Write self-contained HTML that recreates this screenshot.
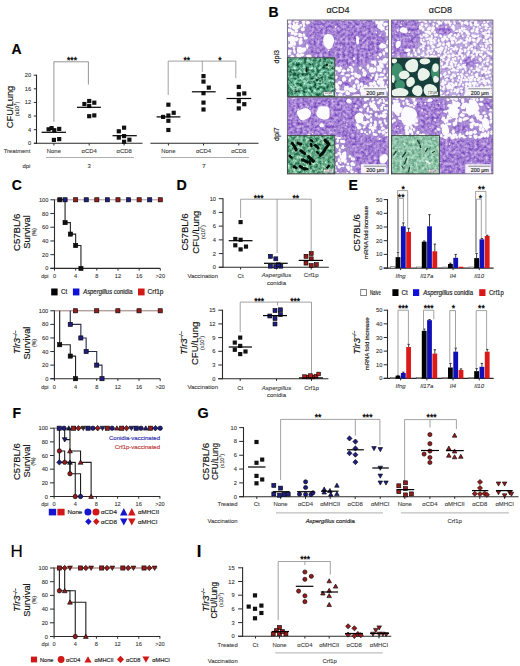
<!DOCTYPE html>
<html><head><meta charset="utf-8"><title>Figure</title>
<style>
html,body{margin:0;padding:0;background:#fff;}
body{width:520px;height:666px;overflow:hidden;font-family:"Liberation Sans",sans-serif;}
svg{display:block;}
</style></head><body>
<svg width="520" height="666" viewBox="0 0 520 666" font-family='"Liberation Sans", sans-serif'>
<rect width="520" height="666" fill="#fff"/>
<text x="11.6" y="54.2" font-size="14" fill="#000" font-weight="bold" stroke="#000" stroke-width="0.16">A</text>
<line x1="36.5" y1="143.8" x2="36.5" y2="74.7" stroke="#2a2a2a" stroke-width="1.1"/>
<line x1="33.8" y1="143.3" x2="36.5" y2="143.3" stroke="#2a2a2a" stroke-width="1"/>
<text x="31.2" y="145.35" font-size="5.7" fill="#333" text-anchor="end" stroke="#3a3a3a" stroke-width="0.1">0</text>
<line x1="33.8" y1="129.68" x2="36.5" y2="129.68" stroke="#2a2a2a" stroke-width="1"/>
<text x="31.2" y="131.73" font-size="5.7" fill="#333" text-anchor="end" stroke="#3a3a3a" stroke-width="0.1">4</text>
<line x1="33.8" y1="116.06" x2="36.5" y2="116.06" stroke="#2a2a2a" stroke-width="1"/>
<text x="31.2" y="118.11" font-size="5.7" fill="#333" text-anchor="end" stroke="#3a3a3a" stroke-width="0.1">8</text>
<line x1="33.8" y1="102.44" x2="36.5" y2="102.44" stroke="#2a2a2a" stroke-width="1"/>
<text x="31.2" y="104.49" font-size="5.7" fill="#333" text-anchor="end" stroke="#3a3a3a" stroke-width="0.1">12</text>
<line x1="33.8" y1="88.82" x2="36.5" y2="88.82" stroke="#2a2a2a" stroke-width="1"/>
<text x="31.2" y="90.87" font-size="5.7" fill="#333" text-anchor="end" stroke="#3a3a3a" stroke-width="0.1">16</text>
<line x1="33.8" y1="75.2" x2="36.5" y2="75.2" stroke="#2a2a2a" stroke-width="1"/>
<text x="31.2" y="77.25" font-size="5.7" fill="#333" text-anchor="end" stroke="#3a3a3a" stroke-width="0.1">20</text>
<line x1="34" y1="143.3" x2="142.5" y2="143.3" stroke="#2a2a2a" stroke-width="1.1"/>
<line x1="150.4" y1="143.3" x2="258.5" y2="143.3" stroke="#2a2a2a" stroke-width="1.1"/>
<line x1="53.9" y1="143.3" x2="53.9" y2="145.5" stroke="#2a2a2a" stroke-width="1"/>
<line x1="89.2" y1="143.3" x2="89.2" y2="145.5" stroke="#2a2a2a" stroke-width="1"/>
<line x1="124.1" y1="143.3" x2="124.1" y2="145.5" stroke="#2a2a2a" stroke-width="1"/>
<line x1="168.4" y1="143.3" x2="168.4" y2="145.5" stroke="#2a2a2a" stroke-width="1"/>
<line x1="203.5" y1="143.3" x2="203.5" y2="145.5" stroke="#2a2a2a" stroke-width="1"/>
<line x1="238.8" y1="143.3" x2="238.8" y2="145.5" stroke="#2a2a2a" stroke-width="1"/>
<text x="12.6" y="107" font-size="9.6" fill="#111" text-anchor="middle" transform="rotate(-90 12.6 107)" textLength="42.6" lengthAdjust="spacingAndGlyphs" stroke="#111" stroke-width="0.16">CFU/Lung</text>
<text x="18.6" y="109" font-size="5.4" fill="#333" stroke="#333" stroke-width="0.12" text-anchor="middle" transform="rotate(-90 18.6 109)">(x10<tspan font-size="3.78" dy="-1.89">7</tspan><tspan dy="1.89">)</tspan></text>
<text x="30.3" y="152.6" font-size="5.9" fill="#3a3a3a" text-anchor="end" stroke="#3a3a3a" stroke-width="0.1">Treatment</text>
<text x="53.9" y="152.6" font-size="5.9" fill="#3a3a3a" text-anchor="middle" stroke="#3a3a3a" stroke-width="0.1">None</text>
<text x="89.2" y="152.6" font-size="5.9" fill="#3a3a3a" text-anchor="middle" stroke="#3a3a3a" stroke-width="0.1">&#945;CD4</text>
<text x="124.1" y="152.6" font-size="5.9" fill="#3a3a3a" text-anchor="middle" stroke="#3a3a3a" stroke-width="0.1">&#945;CD8</text>
<text x="168.4" y="152.6" font-size="5.9" fill="#3a3a3a" text-anchor="middle" stroke="#3a3a3a" stroke-width="0.1">None</text>
<text x="203.5" y="152.6" font-size="5.9" fill="#3a3a3a" text-anchor="middle" stroke="#3a3a3a" stroke-width="0.1">&#945;CD4</text>
<text x="238.8" y="152.6" font-size="5.9" fill="#3a3a3a" text-anchor="middle" stroke="#3a3a3a" stroke-width="0.1">&#945;CD8</text>
<line x1="46" y1="157.5" x2="134" y2="157.5" stroke="#999" stroke-width="0.8"/>
<line x1="161" y1="157.5" x2="249" y2="157.5" stroke="#999" stroke-width="0.8"/>
<text x="30.3" y="167.5" font-size="5.9" fill="#3a3a3a" text-anchor="end" stroke="#3a3a3a" stroke-width="0.1">dpi</text>
<text x="89.2" y="167.5" font-size="5.9" fill="#3a3a3a" text-anchor="middle" stroke="#3a3a3a" stroke-width="0.1">3</text>
<text x="204" y="167.5" font-size="5.9" fill="#3a3a3a" text-anchor="middle" stroke="#3a3a3a" stroke-width="0.1">7</text>
<polyline points="53.9,121.7 53.9,61.8 88.4,61.8 88.4,84.5" fill="none" stroke="#8a8a8a" stroke-width="0.9"/>
<text x="72" y="62.99" font-size="8.6" fill="#000" text-anchor="middle" stroke="#000" stroke-width="0.3">***</text>
<polyline points="168.2,95 168.2,61.1 235.8,61.1 235.8,78.2" fill="none" stroke="#8a8a8a" stroke-width="0.8"/>
<line x1="202.3" y1="61.1" x2="202.3" y2="71.9" stroke="#8a8a8a" stroke-width="0.8"/>
<text x="186.8" y="62.99" font-size="8.6" fill="#000" text-anchor="middle" stroke="#000" stroke-width="0.3">**</text>
<text x="220" y="62.99" font-size="8.6" fill="#000" text-anchor="middle" stroke="#000" stroke-width="0.3">*</text>
<rect x="46.51" y="127.21" width="4.17" height="4.17" fill="#111"/>
<rect x="49.51" y="126.01" width="4.17" height="4.17" fill="#111"/>
<rect x="52.21" y="128.11" width="4.17" height="4.17" fill="#111"/>
<rect x="57.11" y="126.81" width="4.17" height="4.17" fill="#111"/>
<rect x="51.81" y="137.81" width="4.17" height="4.17" fill="#111"/>
<rect x="57.11" y="137.01" width="4.17" height="4.17" fill="#111"/>
<rect x="82.31" y="101.91" width="4.17" height="4.17" fill="#111"/>
<rect x="87.11" y="98.91" width="4.17" height="4.17" fill="#111"/>
<rect x="92.21" y="100.61" width="4.17" height="4.17" fill="#111"/>
<rect x="87.11" y="103.91" width="4.17" height="4.17" fill="#111"/>
<rect x="87.11" y="114.11" width="4.17" height="4.17" fill="#111"/>
<rect x="92.21" y="113.31" width="4.17" height="4.17" fill="#111"/>
<rect x="116.71" y="129.21" width="4.17" height="4.17" fill="#111"/>
<rect x="122.01" y="125.61" width="4.17" height="4.17" fill="#111"/>
<rect x="116.71" y="135.51" width="4.17" height="4.17" fill="#111"/>
<rect x="122.01" y="134.01" width="4.17" height="4.17" fill="#111"/>
<rect x="127.31" y="137.61" width="4.17" height="4.17" fill="#111"/>
<rect x="122.01" y="139.71" width="4.17" height="4.17" fill="#111"/>
<rect x="166.31" y="102.61" width="4.17" height="4.17" fill="#111"/>
<rect x="171.61" y="110.71" width="4.17" height="4.17" fill="#111"/>
<rect x="161.01" y="114.81" width="4.17" height="4.17" fill="#111"/>
<rect x="166.31" y="113.41" width="4.17" height="4.17" fill="#111"/>
<rect x="166.31" y="118.71" width="4.17" height="4.17" fill="#111"/>
<rect x="166.31" y="127.91" width="4.17" height="4.17" fill="#111"/>
<rect x="201.41" y="74.01" width="4.17" height="4.17" fill="#111"/>
<rect x="201.41" y="79.51" width="4.17" height="4.17" fill="#111"/>
<rect x="206.71" y="85.51" width="4.17" height="4.17" fill="#111"/>
<rect x="201.41" y="91.11" width="4.17" height="4.17" fill="#111"/>
<rect x="201.41" y="100.51" width="4.17" height="4.17" fill="#111"/>
<rect x="201.41" y="107.41" width="4.17" height="4.17" fill="#111"/>
<rect x="236.71" y="84.81" width="4.17" height="4.17" fill="#111"/>
<rect x="236.71" y="92.21" width="4.17" height="4.17" fill="#111"/>
<rect x="242.21" y="91.31" width="4.17" height="4.17" fill="#111"/>
<rect x="236.71" y="99.11" width="4.17" height="4.17" fill="#111"/>
<rect x="242.21" y="102.11" width="4.17" height="4.17" fill="#111"/>
<rect x="236.71" y="106.31" width="4.17" height="4.17" fill="#111"/>
<line x1="41.6" y1="132.3" x2="66" y2="132.3" stroke="#000" stroke-width="1.2"/>
<line x1="77" y1="107.3" x2="100.9" y2="107.3" stroke="#000" stroke-width="1.2"/>
<line x1="112.5" y1="135.7" x2="136.8" y2="135.7" stroke="#000" stroke-width="1.2"/>
<line x1="156.6" y1="116.9" x2="180.4" y2="116.9" stroke="#000" stroke-width="1.2"/>
<line x1="191.9" y1="91.8" x2="215.7" y2="91.8" stroke="#000" stroke-width="1.2"/>
<line x1="226.5" y1="98.5" x2="251.2" y2="98.5" stroke="#000" stroke-width="1.2"/>
<text x="268.4" y="16.9" font-size="14" fill="#000" font-weight="bold" stroke="#000" stroke-width="0.16">B</text>
<text x="338" y="13.2" font-size="9" fill="#222" text-anchor="middle" stroke="#222" stroke-width="0.16">&#945;CD4</text>
<text x="440.4" y="13.2" font-size="9" fill="#222" text-anchor="middle" stroke="#222" stroke-width="0.16">&#945;CD8</text>
<text x="278.6" y="56.7" font-size="7.2" fill="#222" text-anchor="middle" transform="rotate(-90 278.6 56.7)" stroke="#222" stroke-width="0.16">dpi3</text>
<text x="278.6" y="134.2" font-size="7.2" fill="#222" text-anchor="middle" transform="rotate(-90 278.6 134.2)" stroke="#222" stroke-width="0.16">dpi7</text>
<defs>
<filter id="lace" filterUnits="userSpaceOnUse" x="286" y="19" width="208" height="157" color-interpolation-filters="sRGB"><feTurbulence type="turbulence" baseFrequency="0.26" numOctaves="2" seed="7" result="t"/><feColorMatrix in="t" type="matrix" values="0 0 0 0 0.58  0 0 0 0 0.47  0 0 0 0 0.76  -5 0 0 0 1.85"/><feGaussianBlur stdDeviation="0.5"/></filter>
<filter id="lace2" filterUnits="userSpaceOnUse" x="286" y="19" width="208" height="157" color-interpolation-filters="sRGB"><feTurbulence type="turbulence" baseFrequency="0.3" numOctaves="2" seed="3" result="t"/><feColorMatrix in="t" type="matrix" values="0 0 0 0 0.62  0 0 0 0 0.52  0 0 0 0 0.80  -5 0 0 0 1.85"/><feGaussianBlur stdDeviation="0.5"/></filter>
<filter id="dtex" filterUnits="userSpaceOnUse" x="286" y="19" width="208" height="157" color-interpolation-filters="sRGB"><feTurbulence type="fractalNoise" baseFrequency="0.35" numOctaves="2" seed="11" result="t"/><feColorMatrix in="t" type="matrix" values="0.62 0 0 0 0.33  0.72 0 0 0 0.14  0.32 0 0 0 0.67  0 0 0 0 1"/><feGaussianBlur stdDeviation="0.4"/></filter>
<filter id="wtex" filterUnits="userSpaceOnUse" x="286" y="19" width="208" height="157" color-interpolation-filters="sRGB"><feTurbulence type="fractalNoise" baseFrequency="0.4" numOctaves="2" seed="17" result="t"/><feColorMatrix in="t" type="matrix" values="0 0 0 0 0.55  0 0 0 0 0.42  0 0 0 0 0.75  2.2 0 0 0 -0.95"/></filter>
<filter id="bl04" x="-20%" y="-20%" width="140%" height="140%"><feGaussianBlur stdDeviation="0.45"/></filter>
<filter id="wob" x="-20%" y="-20%" width="140%" height="140%"><feTurbulence type="fractalNoise" baseFrequency="0.6" numOctaves="1" seed="2" result="n"/><feDisplacementMap in="SourceGraphic" in2="n" scale="2.2" xChannelSelector="R" yChannelSelector="G" result="d"/><feGaussianBlur in="d" stdDeviation="0.35"/></filter>
<filter id="bl1" x="-20%" y="-20%" width="140%" height="140%"><feGaussianBlur stdDeviation="1.6"/></filter>
<filter id="bl05" x="-20%" y="-20%" width="140%" height="140%"><feGaussianBlur stdDeviation="0.6"/></filter>
<filter id="gtex" filterUnits="userSpaceOnUse" x="286" y="19" width="208" height="157" color-interpolation-filters="sRGB"><feTurbulence type="fractalNoise" baseFrequency="0.3" numOctaves="3" seed="5" result="t"/><feColorMatrix in="t" type="matrix" values="1.1 0 0 0 -0.2  1.1 0 0 0 0.08  1.1 0 0 0 -0.04  0 0 0 0 1"/><feGaussianBlur stdDeviation="0.45"/></filter>
<filter id="gtex2" filterUnits="userSpaceOnUse" x="286" y="19" width="208" height="157" color-interpolation-filters="sRGB"><feTurbulence type="fractalNoise" baseFrequency="0.32" numOctaves="3" seed="9" result="t"/><feColorMatrix in="t" type="matrix" values="1.1 0 0 0 -0.15  0.9 0 0 0 0.21  0.9 0 0 0 0.08  0 0 0 0 1"/><feGaussianBlur stdDeviation="0.45"/></filter>
<clipPath id="cTL"><rect x="287.4" y="20" width="101" height="76.4"/></clipPath>
<mask id="mTL" maskUnits="userSpaceOnUse" x="286" y="19" width="208" height="157"><g filter="url(#bl1)" fill="#fff">
<polygon points="311,19 376,19 380,30 386,40 382,50 376,58 366,64 350,67 336,66 326,62 318,60 312,56 308,48 307,36"/>
<ellipse cx="366" cy="79" rx="8" ry="5"/>
<ellipse cx="346" cy="84" rx="6" ry="4"/>
</g></mask>
<clipPath id="cTR"><rect x="391.5" y="20" width="101.4" height="76.4"/></clipPath>
<mask id="mTR" maskUnits="userSpaceOnUse" x="286" y="19" width="208" height="157"><g filter="url(#bl1)" fill="#fff">
<polygon points="391,19 418,19 421,34 416,48 406,56 391,57"/>
<ellipse cx="444" cy="30" rx="9" ry="6"/>
<ellipse cx="470" cy="62" rx="8" ry="5"/>
</g></mask>
<clipPath id="cBL"><rect x="287.4" y="97.6" width="101" height="76.2"/></clipPath>
<mask id="mBL" maskUnits="userSpaceOnUse" x="286" y="19" width="208" height="157"><g filter="url(#bl1)" fill="#fff">
<polygon points="286,97 362,97 364,104 358,112 356,128 366,136 390,136 390,176 357,176 354,160 348,144 336,136 286,136"/>
</g></mask>
<clipPath id="cBR"><rect x="391.5" y="97.6" width="101.4" height="76.2"/></clipPath>
<mask id="mBR" maskUnits="userSpaceOnUse" x="286" y="19" width="208" height="157"><g filter="url(#bl1)" fill="#fff">
<polygon points="416,97 446,97 447,106 440,122 437,137 470,140 494,136 494,176 438,176 438,136 420,130 414,112"/>
<ellipse cx="398" cy="128" rx="7" ry="7"/>
<ellipse cx="462" cy="128" rx="9" ry="5"/>
<ellipse cx="488" cy="104" rx="5" ry="6"/>
</g></mask>
<clipPath id="iTL"><rect x="287.4" y="57.8" width="47.4" height="38.6"/></clipPath>
<clipPath id="iTR"><rect x="391.5" y="58" width="48.1" height="38.4"/></clipPath>
<clipPath id="iBL"><rect x="287.4" y="135.4" width="47.4" height="38.4"/></clipPath>
<clipPath id="iBR"><rect x="391.5" y="135.6" width="47.9" height="38.2"/></clipPath>
</defs>
<g clip-path="url(#cTL)">
<rect x="287.4" y="20" width="101" height="76.4" fill="#b096d6"/>
<rect x="287.4" y="20" width="101" height="76.4" filter="url(#wtex)"/>
<g mask="url(#mTL)"><rect x="287.4" y="20" width="101" height="76.4" filter="url(#dtex)"/></g>
<g fill="#fbf9fd" filter="url(#bl04)">
<polygon points="285.2,14.9 287.1,16.1 287.8,19.1 285.6,20.6 284.4,20.2 284,16.5"/>
<polygon points="291.6,21.2 290.2,22.1 287.9,21 288.4,19 290,17.3 292,19"/>
<polygon points="294.5,21.8 294.1,20 295.5,18.6 297.6,18.8 299.2,21.9 297.9,22.4"/>
<polygon points="298.1,19.6 298.8,16 300.6,16.2 302.6,18 302.5,20.1 300.4,20.7"/>
<polygon points="306,21.4 304.2,18.6 304.2,16.5 306.1,15.3 307.7,17.3 307.5,20"/>
<polygon points="316.3,14.1 318.2,14.8 318.7,17.2 317.8,20 316.2,19.7 314.8,17"/>
<polygon points="321.2,21 320.5,20.4 320.8,17.4 321.9,16.7 323.1,16.8 323.9,18.2 322.9,20.2"/>
<polygon points="327,20.2 325.1,19.4 325.3,17.6 327.1,17 329.3,17.7 330.2,18.7 328.4,20.2"/>
<polygon points="330.2,18.4 331.1,16.4 333,16.6 334,18.8 333,19.6 330.9,19.9"/>
<polygon points="344.5,20.4 343.1,21 339.8,19.8 342,16.5 343.3,15.8 345.6,17.2"/>
<polygon points="359.8,17.3 360.1,18.9 359.9,20.9 357.6,20.6 355.7,19 356,17.3 357.5,16.4"/>
<polygon points="361.7,18.4 362.5,17.7 365,16.8 366.5,16.7 367,18.6 365.7,20 363,19.9"/>
<polygon points="371,16.4 370.8,19.2 368.9,19.6 367.7,18.1 368.1,16.2 369.6,14.7"/>
<polygon points="376.6,17 376.2,20.6 372.4,21.5 371.9,20 370.8,16.7 374.7,16.4"/>
<polygon points="380.3,15.2 381.7,17.4 381.4,19.5 378.2,20.4 376.8,19.1 376.8,15.9"/>
<polygon points="383.1,16.3 386,16 387.3,16.6 386.8,19.9 385.8,20.7 383.2,21.3 382.3,18.9"/>
<polygon points="388.3,18.3 388.1,20.2 386.3,21 385.6,19.9 385.4,17.9 386.4,15.6 387.4,16.5"/>
<polygon points="287.8,19.5 291.2,19.5 291.4,22.2 290.4,23.7 288,23.2 286.5,20.6"/>
<polygon points="292.6,23 292.9,21.6 294.5,21.2 295,22.9 294.6,24.6 293.6,25.5"/>
<polygon points="297.3,25.8 295.7,25.2 295.4,24.3 295.9,22.6 297.9,22.5 298.5,23.5"/>
<polygon points="302.5,24 301.6,21.4 303.9,19.8 305.1,20.5 305.1,23.4"/>
<polygon points="306.9,24.4 305.5,22.3 308.1,20.3 310.3,22.4 309.7,23.6"/>
<ellipse cx="363.8" cy="21.9" rx="0.5" ry="0.7"/>
<polygon points="377.3,19.7 378.5,21.1 379.4,22.9 378.2,23.9 375.7,24 375,21.3"/>
<polygon points="379.4,20.3 382.5,19.5 383.7,21.5 382.6,24.3 380.8,24.8 379.2,23.1"/>
<polygon points="383.2,23.2 385.8,22.4 388.7,23.6 387.6,25.2 384.1,26.6 383.2,24.8"/>
<polygon points="387.8,20.5 388.8,18.9 391.3,19.4 393.1,22 390.7,23.3 388.7,23.8"/>
<polygon points="288.5,25 288.9,26.7 287.4,27.3 284.6,26.9 283.1,26.1 286.4,24.5"/>
<polygon points="291.8,25.3 291.6,27.4 290.8,28.6 288.9,26.8 288.1,25.4 290,23.5"/>
<polygon points="295.4,27.6 293.1,26.7 293.4,25.1 295.2,23.9 297.3,25 297.4,27.1"/>
<polygon points="300.7,26.4 299.7,26.2 299.4,24.4 300.7,24.1 302.5,24.6 302.1,26.2"/>
<polygon points="305.3,25.4 304.8,26.8 303.2,28 302.9,26.4 302.8,23.7 304,23.1"/>
<ellipse cx="335.7" cy="27" rx="0.8" ry="0.9"/>
<polygon points="379.9,29 381.1,26.1 384.2,26.7 384.9,29.8 381.2,31.1"/>
<polygon points="391.7,28.9 389.9,30.3 387.4,29.5 385.8,28.5 387.9,26.1 389.4,26.8"/>
<polygon points="291.3,32 289.1,32.3 285.9,31.1 288.2,28.6 291.2,28.8 292.5,31"/>
<polygon points="294.8,32.1 293.5,34.1 291.4,33.8 290.5,30.8 293.1,30.3"/>
<polygon points="294.7,31.7 294.8,29.3 296.9,28.7 298.3,30.4 297.9,31.7 295.5,32.9"/>
<polygon points="301.7,27.6 303.7,27.2 304.8,28.6 304.6,30.8 302.4,31.3 300.4,30.1"/>
<ellipse cx="376.4" cy="32.6" rx="0.8" ry="0.8"/>
<polygon points="384.2,30.6 387.7,29.9 389.3,31.6 388.4,33.4 385.8,32.8"/>
<polygon points="285.2,38.1 284.4,36.8 284.3,34.5 285.6,33 287,32.7 287.3,35.4 287.1,37.1"/>
<polygon points="290.7,34.4 290.4,33.4 292.3,32.7 293.5,33 293.4,34.2 292.5,35.1"/>
<polygon points="293.1,32.4 297.5,33 297.8,34.9 294.8,35.9 293,33.9"/>
<polygon points="298.4,37 298.4,33 300.3,32.9 302,33.9 302.6,36.9 300,37.3"/>
<polygon points="305.4,35.3 304.4,36.8 303.2,36.8 302.2,34.8 302.8,33.7 304.1,33.1 304.7,34.3"/>
<ellipse cx="380.1" cy="35.5" rx="0.6" ry="0.8"/>
<polygon points="386.1,36.2 386,33.2 388.1,31.4 389.3,33.6 388.1,35.8"/>
<polygon points="286.1,39.9 286,38 288.7,36.7 290.5,37.5 291.5,39.6 289.7,41.4"/>
<polygon points="292.7,39.7 289.5,38.8 290.5,37.5 291.6,36.6 294.8,36.5 295.7,39"/>
<polygon points="294.2,39.2 294.4,38.2 296.7,36.7 298.1,38 298.9,39.2 297.2,41.6 295.4,41.3"/>
<polygon points="299.1,39.9 299.7,37.9 302,37.7 302.6,39.5 301,42.5"/>
<polygon points="304.3,39.5 303.5,37.8 304.2,36.6 305.7,36.4 307.7,37.4 307.8,38.4 306.2,39.6"/>
<ellipse cx="356.4" cy="37.2" rx="0.8" ry="0.9"/>
<ellipse cx="362.9" cy="40.8" rx="0.5" ry="0.7"/>
<polygon points="390.5,38.3 391.6,38.9 391.5,40.4 390.5,41.7 389.3,41.4 388.6,39.7 389.6,39.1"/>
<polygon points="283.4,42.9 285.1,40.2 288,41.1 288.6,43.1 286.5,44.9 283.6,43.9"/>
<polygon points="293.9,44.4 292.8,45.9 292.1,47.2 289.8,46.2 289.8,44.1 290.8,41.1 293.1,41.5"/>
<polygon points="296.3,44 295,46.1 292.1,45.1 292,42.7 295.1,41"/>
<polygon points="302.4,41.3 302.9,43.3 300,45 298.7,43.7 298.7,40.5 300.5,39.5"/>
<ellipse cx="324.9" cy="42.1" rx="0.6" ry="0.6"/>
<polygon points="388.2,44.8 385.9,44.1 386.7,40.8 387.9,39.7 389.7,41.6 389.6,43.9"/>
<polygon points="291.1,47.2 289.8,47.8 288.3,46.7 288,44.4 290.1,43.7 291.3,44.8"/>
<polygon points="292.7,48.5 292.4,47.1 293.2,46.1 295,46.8 295.4,48 294.1,49.4"/>
<polygon points="301.9,47.6 301.9,49 300.3,49.8 298,49.6 297.1,47.8 297.8,47.1 299.6,46.8"/>
<polygon points="308.6,46.5 307.8,48.5 306.6,49.3 305.8,45.2 306.7,44.2 308.3,44.6"/>
<ellipse cx="366.6" cy="45.9" rx="0.5" ry="0.5"/>
<polygon points="386.7,46.5 386.2,47.5 382.8,48.2 382,46.6 382.4,44.2 385.1,44"/>
<polygon points="289.9,53.3 287.9,52.7 287.7,50.9 288.8,49.6 291.8,50.2 291.6,52.1"/>
<polygon points="292.8,50.3 294,48.9 295,49.3 295.8,52.5 295.4,54.1 293.8,53.6"/>
<polygon points="300.1,51.4 300.1,50.2 303.2,50 304.5,50.8 302.7,52.6 301,52.5"/>
<polygon points="302.1,47.6 305.8,47.6 306.5,50.1 303.5,52.8 301.6,51.2"/>
<ellipse cx="328.6" cy="50.4" rx="0.9" ry="0.7"/>
<polygon points="384.6,48.8 387,48.1 389.5,49.4 389.9,50.9 387.8,52.5 386.1,52.3 384.9,50.9"/>
<polygon points="286.1,53.5 287.7,52.3 290.3,52.8 291.7,54 290.1,54.9 286.2,55"/>
<polygon points="292,54.5 294.4,55.9 293.7,58.1 292.3,58.3 290,57.5 290.4,55.9"/>
<polygon points="299.9,56.1 298.4,58.2 296.7,56.5 296,55.1 297.4,52.5 299.2,54.1"/>
<polygon points="300.8,53.3 304,53.7 304.3,55.6 301.9,56.4 300.1,55.6 299.1,54.3"/>
<polygon points="306.8,57.2 305.9,55.6 307.6,54.7 309.7,54.4 310.8,55.4 310.7,57.6 308.2,59"/>
<ellipse cx="316.3" cy="56.1" rx="0.7" ry="0.6"/>
<polygon points="381.9,53.7 381.9,55.5 380.5,56.8 378.5,55 379.1,53.6 380.2,52.8"/>
<polygon points="382.9,54.7 382.4,52.3 383.4,51.2 385.4,51.9 385.1,53.4 384.6,55.8"/>
<polygon points="286.2,58 288.1,57.4 290.2,61.5 287.6,63.2 285.4,61.4"/>
<polygon points="296.9,56.7 299.7,57.7 298.2,61.5 295.3,60.9 295.7,57.6"/>
<polygon points="297,57.9 298.9,55 301,55.3 301.9,58.9 300.3,60.1 297.4,59.9"/>
<polygon points="302.6,59.5 303.8,57.7 305.8,58.6 306,61.1 304.3,62.6 303,62"/>
<polygon points="310.4,60.1 307.9,58.5 307.3,56.1 309.2,55.1 311.4,55.2 311.3,59.3"/>
<polygon points="318.2,61.6 314.6,63.2 313.4,61.8 312.9,59.4 314.2,58.3 316.4,57.8 317.9,60.3"/>
<ellipse cx="354.1" cy="58.8" rx="1" ry="1.3"/>
<polygon points="379.1,56.7 379.2,57.6 378.6,58.5 377,58.1 376.5,57 377.5,56.1"/>
<polygon points="384.9,57.6 387.6,59.1 386.2,61.6 384.2,62.1 382.2,60.1"/>
<polygon points="387.7,58 389.4,58.1 390.5,59.3 389.6,61.2 387.2,61.2 385.8,60.2"/>
<polygon points="286.9,61.9 289.1,60.5 290.9,60.9 292.2,63 289.2,64.5"/>
<polygon points="290.5,59.3 291.9,57.7 294.5,59.4 294.5,62.4 292.9,63.7 290.7,63.4"/>
<polygon points="299.2,65.7 296.7,65.5 296.5,63.6 296.2,62.8 299.5,62.1 301.4,63.5 301.5,65.2"/>
<polygon points="303.4,60.9 305,62.2 306.1,64.3 303.9,65.6 302.3,64.9 301.9,63.4"/>
<polygon points="310.8,62.8 309.4,65.1 307.1,65.4 306,63.5 307.5,61.7 309.7,62"/>
<polygon points="312,61.8 312.7,63.1 311.5,64.3 310.2,64.5 307.9,64 307.5,62 308.6,61.3"/>
<polygon points="330.4,66 328.4,66.3 327.5,63.1 328.2,61.3 330.3,62.1 331.1,64.2"/>
<ellipse cx="353.7" cy="64.9" rx="0.8" ry="0.9"/>
<polygon points="371.4,60.4 374.1,60.6 376.2,61.6 374.3,63.7 371.8,63.7 370.7,62.4"/>
<polygon points="374,64.6 373.8,61 375.8,60.4 376.6,62.9 375.3,66.4"/>
<polygon points="378.8,60.5 381.2,60.2 381.8,60.8 381.7,62.6 380.6,63.1 378.7,62.6 378,61.8"/>
<polygon points="383.4,63.6 380.6,62.4 381.9,60.7 383,60.4 386.7,60.4 386.9,62.5 385.5,63.7"/>
<polygon points="389.6,65.9 388.4,65.9 387.3,64 387.9,61.5 389.3,61.3 390,62.3 391,64.8"/>
<polygon points="284.1,66.6 286,66.2 286.3,67.8 285.7,70 284.1,70 283.2,67.9"/>
<polygon points="292,69.8 289.6,70.6 288.7,67.9 289.6,66.1 292.3,66.6"/>
<polygon points="299.3,62.8 300.8,64.7 300.8,66.4 299.4,67.3 298.2,65.6 298.1,64.7"/>
<polygon points="305.5,64.7 306.1,65.7 305.6,68.1 304.8,68.2 303.5,67.8 303.3,65.8"/>
<polygon points="307.9,64.4 309.2,64.7 309.2,67.1 307.7,68.3 307,65.8"/>
<polygon points="314.4,65.4 316.3,65.3 316.8,66.1 316.2,68.1 314.5,67.8 313.7,66.3"/>
<polygon points="317.9,68.9 316.6,67.7 316,64.9 317.6,64.6 318.7,65.1 318.5,67.2"/>
<polygon points="320.2,64.2 322.4,64.9 323.3,67 320.6,68.5 319.6,66.2"/>
<polygon points="328.1,64.4 329.8,64.6 330.5,67.3 328.8,68.3 326.1,67.6 326.2,65.3"/>
<polygon points="333.5,69.4 330.7,69.8 330.1,67 332.2,65.6 335.1,66.9"/>
<polygon points="338.5,66.9 339.5,68.5 337.3,69.9 335.5,70.1 334.4,67.8 336.4,66.6"/>
<polygon points="341.8,67.4 342.4,69.2 341,69.5 339,69.5 339,68.3 339.2,66.9 340.5,66.1"/>
<polygon points="351.4,68.7 349.7,68 348.4,67.3 349.6,66.1 351.2,65.9 352.2,67"/>
<polygon points="358.7,67.4 360.2,66.4 361.6,66.9 361.8,68.3 360.6,69.4 359.6,69.3"/>
<polygon points="367,68.8 366.5,66.6 367.6,64.3 368.9,64.6 369.6,67.1 368.1,69.6"/>
<polygon points="380.1,69 377.1,68.6 376.3,66 379,65.2 380.5,67.1"/>
<polygon points="379.2,66.1 379,63.1 381.2,62.8 383.2,64 383.9,67.8 382,68"/>
<polygon points="389,68.3 386.4,66.5 386,65.8 387.5,64.8 390.1,65 391.3,65.8 391,67.8"/>
<polygon points="287.1,70.5 289.6,71.4 289,73.4 286.5,73.9 286,72.3"/>
<polygon points="295.9,74 293.1,73.2 292.2,71.8 293.9,70 296.6,69.7 296.5,71.8"/>
<polygon points="300,68.4 302.2,70.7 299.9,71.8 297.2,70.9 298,68.1"/>
<polygon points="305.1,71.1 303.7,72.9 302.9,72.4 301.9,71.3 303.3,69.7 304.6,69.8"/>
<polygon points="307.9,71 306.5,73.7 303.5,73 302.5,70.5 304.2,68.5 307.4,68.1"/>
<polygon points="313.7,69.4 314.6,72.3 313.3,73.6 312.3,72.9 311.6,71.1 312.2,69.7"/>
<polygon points="315.5,70.9 316.7,68.4 318.2,68.6 318.3,70.9 317.8,72.5 316,73.3"/>
<polygon points="320,72.2 317.3,71.5 318.4,67.7 321.5,68.1 322.8,70.2"/>
<polygon points="327.4,71.1 325.5,73.7 323.4,72.7 322,70.5 325.1,68.8 327.8,69.7"/>
<polygon points="329.3,70.6 329.5,68.8 331.4,68 332.8,69.3 332.5,70.1 331.2,71.2"/>
<polygon points="335.6,73.3 333.3,74.6 331.2,72.9 331.2,71.3 334.6,70.7 336.5,72.6"/>
<polygon points="339.7,72.2 338.4,71.9 336.8,69.3 338.2,67.6 340.6,68.9 341.9,70.4"/>
<polygon points="342.9,72.5 341.6,71.2 342.4,69.8 344.2,69.3 346.4,71 345.2,72.3"/>
<polygon points="348,67.9 350,69.2 349.6,70.7 348.8,71.5 346.8,71.1 346.7,69.7"/>
<polygon points="353.7,70 352.3,72.4 350.8,71.6 350.5,69.7 351,67.5 352.8,67.5"/>
<polygon points="364.7,70.4 363.7,71.8 362,71.6 361.7,70.3 362.7,68.7 364.1,68.9"/>
<polygon points="372.6,68.4 374.7,69 375.2,71.9 373.5,72.6 372,71.9 370.8,70.4"/>
<polygon points="374.6,67.1 376.3,68.2 376.1,70.8 374.7,71.7 373.3,71 373.6,68.8"/>
<polygon points="382.3,69.6 381.3,71.9 377.8,71.5 376.5,70.1 378.6,67 380.7,67.2"/>
<polygon points="385.1,70 385.9,70.9 385.4,72.4 384.5,73.5 383.5,72.4 383.2,70.9 383.8,69.5"/>
<polygon points="389.2,71.4 390.1,70.5 391.4,71.3 391.6,72.9 390.2,73.3 389.3,72.7"/>
<polygon points="288.2,76.3 285.8,78.3 283.2,77.3 283,75.7 285.3,74.3 286.8,74.2"/>
<polygon points="293.7,73.2 292.7,77.5 290.4,76.7 288.3,73.3 291,71.3"/>
<polygon points="300.5,73.3 299.4,76.1 297.6,75.8 298.1,72.2 299.1,71.1"/>
<polygon points="304.5,73.3 305.5,76.2 303.7,78 302.2,76.5 303.4,73.6"/>
<polygon points="309.2,71.8 310.5,71.2 312.6,73 310.4,75.5 308.8,74.8"/>
<polygon points="313.7,71.7 315.8,72.1 315.4,74.8 313.6,75.4 312.4,73.3"/>
<polygon points="319.4,74.5 317,74.7 316.5,73.1 318,72.2 320.1,72.2 320.4,73.1"/>
<polygon points="322.1,73.2 323.7,74.7 323.3,77.4 321.1,77 320,75"/>
<polygon points="328.6,75.5 328.6,77.2 326.3,77.5 326,75.8 326,73 327.9,72.8"/>
<polygon points="332.2,76.4 330.5,73.5 331.5,71.9 332.9,70.6 335.7,71.9 336.1,73.4 334.3,76.4"/>
<polygon points="343.5,72.5 344.9,74.2 342.4,75.3 340.3,74.4 341.9,72.3"/>
<polygon points="345.7,76.2 345.2,74.9 346.7,74.1 350.3,74.6 349.3,76.6"/>
<polygon points="352.8,72.4 354.3,73.5 354,74.2 353,75.4 350.9,74.4 350.7,73"/>
<polygon points="357.7,74.3 357.6,75.7 356.1,77.8 354.6,76.9 354.1,74.8 354.3,72.5 356.3,72.7"/>
<polygon points="356.4,77.5 356.4,76.2 357.8,74 360.3,74.7 361.1,75.9 360.6,77.2 358.8,78.8"/>
<polygon points="362.4,75.9 362.6,73.7 363.4,71.2 366.2,71.3 366.8,73.7 365.6,76.4"/>
<polygon points="371.2,74.7 371.8,74.2 372.6,73.9 373.9,74.6 374,75.8 372.4,76.7 371.7,76.3"/>
<polygon points="377.9,78.2 375.9,76.8 375.1,74.7 377,72.6 378.6,75.5"/>
<polygon points="384.8,75.2 382.7,76.2 379.5,76.2 379.3,75 380.1,73.5 383.2,73.7"/>
<polygon points="392.4,74.7 391,76.6 389.5,76.9 386.5,75.9 387,73.9 388.3,73.2 391,73.8"/>
<polygon points="290.6,80.2 288.7,79.8 288.3,78.5 290.1,77.3 291.3,78.4"/>
<polygon points="292.7,77 294.1,75.2 295.7,76.4 296,78 294.9,80.3 292.9,79.6"/>
<polygon points="299.6,80.9 295.8,79 297.4,76.9 300.9,76.3 302.1,78.2"/>
<polygon points="303.2,81.8 300.4,80.4 299.9,78.5 302.7,77.1 304.9,80.1"/>
<polygon points="309.9,78.9 309.2,82.3 306.9,83 306.6,79.1 307.5,77.1"/>
<polygon points="311.8,78.6 312.5,79.6 312,82.3 310.2,82.7 309.3,80.7 309.1,79.7 310.1,77.8"/>
<polygon points="313.4,79.4 313.2,78 313.9,76 314.9,75 317.6,76.6 317.6,77.8 315.9,79.5"/>
<polygon points="321.7,81.7 320.8,81 321.4,79.2 323,78.9 325,80.1 324.7,81.6"/>
<polygon points="323.2,76 324.3,76.5 325.1,78.5 324.7,80.4 323.1,80.3 322.3,78.3"/>
<polygon points="331.2,82.9 330.2,81 330.5,78.4 331.4,76.9 332.6,78.3 331.9,81.8"/>
<polygon points="335,75.6 337.3,76.1 337.8,77.6 336.4,79.2 334.2,78.9 333.1,77.5 333.8,76"/>
<polygon points="345,76.5 346.6,79.6 345.5,80.7 343.3,81.9 341.8,79.9 342.5,76.9"/>
<polygon points="349,81.8 348.5,80.3 349.5,78 350.9,78.5 351,80.5 350.4,82.4"/>
<polygon points="354.2,79.2 351.5,79.6 350.8,79.3 350.8,77.8 352.2,76.2 353.8,77.3 354.6,78.6"/>
<ellipse cx="371.4" cy="77.7" rx="1" ry="1.3"/>
<polygon points="375.3,76.1 377.2,75.7 378,78 376.6,80.8 374.6,80.2 374.6,78.1"/>
<polygon points="377.9,78.8 379.1,77.9 381.5,77.4 383.8,78.7 382.8,80 380.1,80 378.7,79.7"/>
<polygon points="385.7,76.6 386.8,78.1 386.4,79.3 383.4,79 383.3,77.6 384.5,76.6"/>
<polygon points="392.2,82 391.2,81.2 388.7,79.5 389.5,78.4 390.7,76.8 392.8,77.5 393.9,79.2"/>
<polygon points="287.2,78.5 289,79.4 289,80.8 288.9,83.7 287.7,84.6 286.7,83.3 286.6,80.9"/>
<polygon points="290.4,82.7 291.7,81.8 293.2,82.6 293,84.4 291.6,85 290,84.5"/>
<polygon points="294.3,83.3 294.5,82 296.3,81.4 297.8,81.7 297.5,83.3 296.1,84.2"/>
<polygon points="301.5,83.2 298.8,83.5 296.9,80.3 298.7,79.2 301.4,80.5"/>
<polygon points="307.5,80.9 307.2,82 306,82.8 304.7,82.3 304,81.2 305.1,80.3 306.4,80.2"/>
<polygon points="308.2,86.2 306.2,85.3 305.9,84.3 308.2,82.8 310.3,83.9 310.5,85"/>
<polygon points="310.2,83.6 311.5,82.1 312.7,82 314.8,83.5 313.1,84.3 311,84.3"/>
<polygon points="319.6,84.6 316.2,84 315.7,82.6 318.8,82.1 321.9,83.3"/>
<polygon points="322.5,82.2 325,83.5 325.1,85.5 323.9,87 321.5,85.8 321.1,84.7 320.9,83"/>
<polygon points="328,84.3 326.9,86.5 325.3,86.5 324.7,83.5 325.4,81 327.1,82.4"/>
<polygon points="331.1,83.2 334,82.9 334.7,84 332.5,86 331.1,85.7 329.5,84.4"/>
<polygon points="335.8,85.6 334,84.6 333.9,83.2 334.6,82.5 336.3,82.6 338.1,83.5 336.4,85.1"/>
<polygon points="340.8,85 339.4,84.2 337.8,83.8 337.5,81.9 339.3,80.8 341.9,81.8 342.1,82.8"/>
<polygon points="357.9,83.5 355.4,83.8 354.8,81.2 356.5,79.2 358.7,80.8 359.3,82.1"/>
<polygon points="361.2,86.7 359.6,84.7 359.8,83.2 362.2,82.6 363.5,85 363.1,86.8"/>
<polygon points="369.2,82.6 371.3,81.9 372.8,83.1 373.1,84.7 370.9,85.9 369.1,85"/>
<polygon points="373.1,85.7 371.7,85.1 372.9,81.9 374.4,80.8 376.5,83.1 375.7,85.5"/>
<polygon points="378.4,85 376.6,82.7 377.3,80 380.4,80.1 381.8,82.1 381.2,83.9"/>
<polygon points="379.9,83.5 379.6,81.2 381.4,79.8 383,80.2 384.5,82.6 384,84 382.3,85.9"/>
<polygon points="389,81.2 390.5,81.6 391.9,82.8 391,84.5 388,84.4 386.5,82.9 387.1,81.1"/>
<polygon points="285,88.1 286,85.7 288.4,86.6 288.8,88.4 286.7,90.2"/>
<polygon points="293.2,88.2 291,86.7 292.3,84.8 293.5,83.4 294.8,84.2 296.9,86 295.4,87.8"/>
<polygon points="297.3,88.8 295.2,86.1 296.2,83.1 299.1,84.3 299.3,86.9"/>
<polygon points="303.5,87.5 302.6,88.3 301.1,87.7 300.8,86.3 301.3,85.5 302.5,84.8 303.2,86"/>
<polygon points="308.7,85 308.5,86.5 306.9,86.8 304.4,86.6 302.8,85 304.1,84 306.6,84"/>
<polygon points="313.5,87.9 310,90.7 308.1,88.6 309,85.7 312.2,86.4"/>
<polygon points="316.2,88.7 315.3,88.7 313.6,88 314.1,85.5 315.4,84.5 316.6,86"/>
<polygon points="317.6,86.8 319.5,85.6 321.4,86.1 321.3,87.9 319.1,88.2"/>
<polygon points="326,88 325.5,89.9 323.4,91 321.6,88 323.5,86.1"/>
<polygon points="329.5,84.7 331,85.3 331.7,86.8 330.5,88.5 330,89.4 328.4,87.4 329,86.2"/>
<polygon points="333.4,87.2 332.9,84.9 335.7,83.5 338.6,84.3 338.8,86.8 336.7,88.7"/>
<polygon points="336.2,87.1 338.2,85.6 339.6,86.5 339.6,87.8 338.9,90.5 337.5,90 335.9,88.9"/>
<polygon points="345,91.5 343.6,88.8 344.6,86.7 346,85.8 347,87.8 345.9,91.1"/>
<polygon points="344.2,89.4 344.8,86.3 348.2,86 349.2,89 347.3,90.8"/>
<polygon points="352.8,87.5 352.5,85.7 354.2,84 355.2,84.6 356,86.3 355.2,88.2 354.1,88.1"/>
<polygon points="359.9,85.3 359.5,88.9 357.5,89.4 357.2,84.9 358.5,83.1"/>
<polygon points="366.8,85.1 368,86.6 365.3,89 363.2,88.2 364.1,85"/>
<polygon points="371,85.1 373.5,86.4 372.4,88.7 370.8,89.6 368.6,88.2 368.7,86.8"/>
<polygon points="378.5,87.8 376,88.4 374.3,87.4 374.1,86 375.8,84.3 377.8,85.7"/>
<polygon points="379.4,86.6 380,84.6 382,83.3 383.5,83.4 384.4,85 383.9,87.4 382.1,87.5"/>
<polygon points="385.3,90 384.6,86.2 385.8,84.4 387.2,86.4 386.4,89.7"/>
<polygon points="392.8,85.3 393.8,87.9 391.4,89.5 388,88.6 388.4,85.7"/>
<polygon points="286.8,94.3 284.6,92.2 285.6,89.2 286.9,87.9 289.4,90.4 288.7,93.5"/>
<polygon points="289,94.1 287.4,91.2 288.7,88.8 291.6,89.5 291.5,93.3"/>
<polygon points="294.7,92 296.6,89.2 298.8,90.8 299.2,94 296.5,94.3"/>
<polygon points="298,93 298.7,90.3 300.5,90.1 302.3,91.5 301.8,93.1 299.6,94.6"/>
<polygon points="300.5,91.5 302.9,89.3 304.4,89.7 306.6,90.9 305.7,92.3 302.9,92.3"/>
<polygon points="310.1,91.4 310.6,92.7 309,93.9 306,93.8 305.2,92.5 308,91.1"/>
<polygon points="314.6,92.5 313.6,89.4 314.6,87.8 317.5,88.3 317.7,92.3"/>
<polygon points="320.9,91.1 321.8,89.4 324.8,89.5 326.2,91.7 321.9,92.8"/>
<polygon points="328.4,95.3 326.1,92.5 327.7,90.3 328.9,90.5 330.5,92.8 330.3,94.3"/>
<polygon points="333.2,91.9 331.6,93.2 328.5,92.4 328.7,90.1 330.3,89.3 333.1,89 334,90.7"/>
<polygon points="335.4,90.6 339,89.6 340.6,90.6 341.3,91.3 339.1,92.6 336.1,92.1"/>
<polygon points="341.3,90.6 344.4,90.6 345.3,91.8 342.6,93.4 340.2,92.7 339.6,91.5"/>
<polygon points="347.6,93.3 345.4,92.7 345.5,91.7 346.5,90.9 348.3,90.9 348.4,92.6"/>
<polygon points="348.7,89.4 352.3,87.9 354.4,89.1 354.1,91.8 349.5,92.1"/>
<polygon points="355.4,89.4 357.2,90.4 355.8,91.8 354,92.2 351.1,92 350.7,90.7 351.8,90.1"/>
<polygon points="360.2,88.3 361.3,86.5 363,88.8 362.5,91.4 360.7,92.4 359.7,90.8"/>
<polygon points="363.1,87.7 364.6,89.2 363.8,92 362.6,93.1 361.6,90"/>
<polygon points="372.1,92.2 371.6,93.2 370.6,94.2 369.2,93.3 368.7,92.3 370.2,90.5 371.4,90.6"/>
<polygon points="369.6,88.4 373.9,87.7 375.6,88.5 375.1,90.3 371.6,90.7 369.6,89.9"/>
<polygon points="378.9,90.5 379.5,91.9 378.1,94.5 376.8,93.4 376.3,92.1 377.7,89.3"/>
<polygon points="382.5,89.8 384.2,90.8 384.2,92.6 382.2,92.6 381,91.7"/>
<polygon points="390,91.1 387.4,91.9 386.1,90.6 385.3,89.8 386.6,88.4 388.2,88 390.2,89.4"/>
<polygon points="286.7,95.7 285.9,94.5 286.7,93.4 288.5,93.9 288.4,95.5"/>
<polygon points="297.3,97 295.3,97.7 292.6,97.9 292.6,94.9 293.8,93.3 296.3,93.5"/>
<polygon points="302.5,95.5 300.4,96.5 297.5,96.3 296.9,94.4 298.4,93.3 301.4,94.2"/>
<polygon points="301,97.5 300.1,96.9 300.4,95.1 301.8,93.5 302.2,93.8 302.6,95.7 302.2,97.1"/>
<polygon points="308.8,93.4 308.4,94.6 307.4,95.4 305.9,94.7 305.8,93.3 307.1,92.2"/>
<polygon points="314,92.7 314,94 312.1,94.5 310.4,94.2 309.8,92.5 310.9,92 313.4,92"/>
<polygon points="317.2,97.2 315.2,96.6 314.8,95.4 316.4,94.2 317.5,95.7"/>
<polygon points="318.1,94.7 319.5,93.8 320.7,95.6 321.2,96.6 319.5,97.7 318.5,97.7 317.8,95.8"/>
<polygon points="322.3,96 324,93 326.8,93.9 327.2,96.4 325.4,97.9"/>
<polygon points="333.1,95 331.1,95.7 329.8,93.8 330.2,91.5 331.5,90.7 333.4,91.9"/>
<polygon points="335.3,91.8 336.9,95.3 335,96.7 331.8,96.3 332,93.2"/>
<polygon points="342.4,93.9 342.6,96.3 339,97.4 337.6,94.7 339.7,92.9"/>
<polygon points="342.8,97.8 342.7,96.8 343.9,95.2 345.4,95.2 345.8,97 345.4,98.5"/>
<polygon points="350,94.6 348.2,95.3 346.9,95.1 345,93.9 346,92.8 348.6,92.1 350.1,92.5"/>
<polygon points="357.9,96.6 356.8,98.6 354.4,98.8 351.2,97.6 352.6,95.3 355.4,94.2"/>
<polygon points="358.9,97.7 356.2,96.8 355.7,94.4 359.2,94 360.5,96.5"/>
<polygon points="374.5,97.2 371.4,98.3 370,97.3 369.1,94.4 371.9,93.3 373.4,93.6"/>
<polygon points="377.8,92.4 377.6,94.2 376.4,95.1 373.3,95 373.7,94.1 374.3,92.1 376.5,92.1"/>
<polygon points="379,93.9 380.1,91.9 381.8,91.7 382.5,94.3 381.7,95.9 380,96.4"/>
<polygon points="384.2,98 382.1,98 382,96.1 382.6,94.2 385.1,94.4 386.5,95.5 386.1,97.5"/>
<polygon points="393.2,90.6 393.8,93.4 392.2,96.6 389.9,94.8 389.2,91.5"/>
</g>
<g fill="#fcfbff" filter="url(#bl05)">
<path d="M334.1 39.7Q334.1 42.5 333.2 44.5Q332.4 46.5 331 48.2Q329.6 49.8 327.7 48.9Q325.9 48.1 324.8 46.3Q323.8 44.6 323.3 42.3Q322.8 40 323.7 37.1Q324.6 34.3 327.2 34Q329.8 33.7 331.9 35.2Q334.1 36.8 334.1 39.7Z"/>
<path d="M359.1 39.4Q359 41 359 42.4Q358.9 43.7 358.3 44.2Q357.8 44.7 357.3 44.4Q356.7 44 356.4 43.1Q356.1 42.2 356.1 41Q356.1 39.8 356.2 38.2Q356.4 36.6 357.1 36.4Q357.9 36.2 358.5 37Q359.1 37.9 359.1 39.4Z"/>
<path d="M299.9 26Q300.6 27 299.6 27.8Q298.6 28.6 297.6 29.2Q296.6 29.7 295.3 29.7Q293.9 29.8 292.8 29Q291.8 28.1 291.7 27Q291.6 25.8 292.6 24.9Q293.6 23.9 295.1 24.3Q296.6 24.7 297.9 24.8Q299.2 25 299.9 26Z"/>
<path d="M294.7 38.8Q295.3 40 294.8 41.3Q294.3 42.6 293.4 42.9Q292.4 43.3 291.5 43.4Q290.5 43.4 290.1 42.3Q289.8 41.1 289.2 39.7Q288.6 38.3 289.4 37.1Q290.2 35.9 291.4 35.9Q292.5 36 293.3 36.8Q294.1 37.7 294.7 38.8Z"/>
<path d="M303.2 49.2Q304.2 50 303.5 51Q302.8 52 301.8 52.8Q300.7 53.5 299.3 53.3Q297.9 53.1 297.3 52Q296.7 51 296.8 50Q296.9 49 297.5 48.1Q298.2 47.3 299.4 47.2Q300.6 47.1 301.4 47.8Q302.2 48.4 303.2 49.2Z"/>
<path d="M382.4 24.8Q382.7 26 382.7 27.5Q382.7 29 381.5 29Q380.4 29 379.6 28.9Q378.8 28.7 377.9 28.1Q377 27.5 377.2 26.1Q377.5 24.8 378 23.6Q378.5 22.5 379.5 22.3Q380.5 22.1 381.3 22.9Q382.1 23.6 382.4 24.8Z"/>
<path d="M384.9 45.1Q385.7 46 384.8 46.8Q383.9 47.6 383.2 48.2Q382.5 48.8 381.6 48.5Q380.7 48.2 379.9 47.7Q379 47.1 379.2 46.1Q379.5 45.1 380.1 44.3Q380.6 43.6 381.6 43.1Q382.6 42.7 383.3 43.5Q384.1 44.2 384.9 45.1Z"/>
<path d="M355.5 89.1Q356.1 90 355.9 91.2Q355.7 92.3 354.1 92.3Q352.6 92.4 351.5 92.2Q350.4 92 349.6 91.5Q348.8 90.9 348.2 89.9Q347.7 88.8 348.8 88Q349.9 87.3 351.2 87.3Q352.6 87.4 353.7 87.8Q354.8 88.2 355.5 89.1Z"/>
<path d="M374.1 69.3Q374.5 70 374.4 70.9Q374.3 71.9 373.3 72.1Q372.4 72.3 371.4 72.6Q370.4 72.9 369.5 72Q368.6 71.2 368.6 70Q368.5 68.7 369.4 67.9Q370.3 67.1 371.5 66.7Q372.6 66.4 373.2 67.5Q373.7 68.5 374.1 69.3Z"/>
</g>
</g>
<rect x="287.4" y="20" width="101" height="76.4" fill="none" stroke="#6a6478" stroke-width="0.9"/>
<rect x="360.8" y="86.8" width="25.6" height="9" fill="#fbfbfd" opacity="0.92"/>
<line x1="363.8" y1="88.8" x2="386" y2="88.8" stroke="#6a6a72" stroke-width="0.8"/>
<text x="375.3" y="94.7" font-size="5.4" fill="#222" text-anchor="middle" stroke="#222" stroke-width="0.15">200 &#956;m</text>
<g clip-path="url(#cTR)">
<rect x="391.5" y="20" width="101.4" height="76.4" fill="#c0addf"/>
<rect x="391.5" y="20" width="101.4" height="76.4" filter="url(#wtex)"/>
<g mask="url(#mTR)"><rect x="391.5" y="20" width="101.4" height="76.4" filter="url(#dtex)"/></g>
<g fill="#fbf9fd" filter="url(#bl04)">
<polygon points="390.5,17.3 390.9,18.4 389.3,19.2 388.1,18.6 388.2,17.5 389.1,17.2"/>
<polygon points="391.5,19.7 391.8,17.9 392.7,17.6 393.4,18.3 393.4,19.8 392.6,20.3"/>
<polygon points="403.1,18.3 401.9,20.2 400.5,19.4 400.5,18 401.2,16.8 403,16.8"/>
<ellipse cx="407.8" cy="19.9" rx="0.9" ry="1"/>
<polygon points="409.4,17.9 410.8,17.9 411.6,18.6 410.7,19.8 409.4,19.5 408.7,19.2"/>
<polygon points="416.1,19.4 414.4,18 414.9,17.2 416.8,16.6 417.5,17.6 417.5,19.1"/>
<polygon points="418.4,17.5 418.7,16.8 419.9,16.3 420.5,17.4 420.2,19.6 419,19.9"/>
<polygon points="422.5,20.9 422,21 421,20.8 420.5,19.8 421.6,19.2 422.4,18.8 422.9,19.8"/>
<polygon points="423.3,16.5 424.8,16.5 426.3,17.9 425.4,19.3 424.3,19.5 422.6,18.9"/>
<polygon points="430,17.7 429.7,19.2 428.4,19.7 427.6,19.3 427.2,17.7 428.1,16.9 429.7,16.6"/>
<polygon points="434,19 434,18.2 435.5,17 436.8,16.9 437.9,18 437.5,19.2 435.8,19.8"/>
<polygon points="442.6,18.8 443.5,19 444.1,20.7 442.8,21.9 441.8,21.4 441.4,20"/>
<polygon points="445.2,18.1 446.3,17.1 448.6,17.8 449.3,18.9 447.1,20.1 445.6,19.5"/>
<polygon points="449.3,18.6 450.5,19.6 449.8,21.4 448.5,21.8 447.1,21.4 447,20.1 448,18.9"/>
<polygon points="454,22 452.9,20.7 453.6,19.1 454.9,18.8 455.4,21.4"/>
<polygon points="456.2,17 457.4,16.5 458.4,17.1 458.7,18.2 458.1,19.7 457,18.9"/>
<polygon points="460,17.6 460.9,16.5 463.3,17.7 462.2,19.5 460.7,20.2"/>
<polygon points="464.7,17.4 464.9,18.6 464.2,19.9 462.8,19.6 462.5,18.6 462.9,17.2 463.7,17.2"/>
<polygon points="465.7,18.1 467.5,17.3 468,18.3 468.1,20.4 467.5,21.1 465.9,21.4 465.9,20"/>
<polygon points="470.4,20.6 469.9,19.4 470.3,18.4 471.2,18 472.7,18.9 472.4,19.8 471.9,20.5"/>
<polygon points="476.4,16.8 476.3,18.6 475,20.2 473.9,19.4 473.8,16.8 475.2,16.6"/>
<polygon points="476.8,17.1 477.1,16.3 478.3,16.1 478.6,17.9 478.3,18.7 477,18.6"/>
<polygon points="479.2,17.6 480.5,16.3 482.4,17.8 482.1,19.8 480.3,20.6 479.4,19.5"/>
<polygon points="486.8,17.2 488.3,18.6 486.8,19.4 484.1,19 484.2,17.9"/>
<polygon points="488.6,19.9 487.6,19.1 487.4,18.1 489.3,17.7 490.7,18.2 490.7,18.9 490.4,20.1"/>
<ellipse cx="401.4" cy="22.4" rx="0.6" ry="0.5"/>
<polygon points="420.9,19.6 421.4,20.9 420.8,21.7 419.4,21.9 418.2,20.9 419,19.7"/>
<polygon points="422.3,20.6 423.5,19.5 425,19.6 425.9,21.3 425,22.4 423.1,21.6"/>
<polygon points="425.7,23.3 424.7,22 425.7,20.6 426.5,20.8 427.3,21.8 426.6,23.1"/>
<polygon points="430.8,20.4 430.9,22.5 429.8,22.7 428.7,21.6 428.5,20.1 429.7,19.7"/>
<polygon points="433.2,19.9 434.7,19.2 436.6,20.2 436.2,21.3 434.4,22.1 433.4,21.2"/>
<polygon points="440.1,22.8 438.4,23 436.4,22.3 437.6,20.4 439.3,20 440.6,20.9"/>
<polygon points="442.3,22.7 441.8,24.6 439.6,24.1 438.4,23.8 439.5,22 441.9,22.1"/>
<polygon points="447.1,20.5 447.8,21.7 447.4,23.4 446,23.8 444.6,23.2 444.2,20.9 445.2,20.1"/>
<polygon points="448.3,23.4 447.7,21.9 448.6,20.8 450.2,20.8 449.9,22.7 449.4,23.8"/>
<polygon points="448.8,24.1 448.9,22.9 450,22.2 451.6,22.5 451.7,23.8 450.2,24.4"/>
<polygon points="453.2,23.9 453.6,22 455.4,22.5 455.8,23.7 454.3,24.8"/>
<polygon points="458.9,22.1 458.3,21 459,20.1 460.5,20 461.3,20.9 460.9,21.9 459.7,22.2"/>
<polygon points="461.8,21.7 463.4,22.1 463.3,23.3 462.5,23.9 461.4,24 460.2,23 460.7,22.1"/>
<polygon points="467.4,24.6 465.7,24.5 463.5,23.5 464.7,21.2 466,20.7 468.2,22.2"/>
<polygon points="469.5,23.2 469.9,21.1 470.8,21.5 471.6,23.8 470.6,24.4"/>
<polygon points="473.1,19.6 473.8,20.9 471.7,21.8 470.1,20.9 471.3,19.4"/>
<polygon points="473.9,21.7 475.9,20.5 477.2,21.1 477.4,22.8 475.9,24 474.2,23.9"/>
<polygon points="482.9,22.6 483.3,21.4 484.2,21.1 485.4,21.7 485.9,22.7 484.4,23.4 484,23.2"/>
<polygon points="487.3,21 489.2,20.9 489.3,21.8 487.8,23 486.3,22"/>
<polygon points="493.9,21.3 495.3,22.2 495.5,23.8 494.6,24.6 493.4,22.9"/>
<ellipse cx="401" cy="25.2" rx="1" ry="0.8"/>
<polygon points="420.6,25.3 420.9,23.1 422.4,23.1 423.6,23.7 423.1,25.9 421.7,26"/>
<polygon points="424.6,24.4 426.9,24.2 428.2,25.2 426.6,27.2 424.4,26.3"/>
<polygon points="433.7,26 432.8,25.5 432.4,23.7 433.4,22.7 434.4,23.7 435,24.8"/>
<polygon points="437.5,27.7 435.9,26.7 435.8,25 437.2,24 438.2,25.2 438.2,26.7"/>
<polygon points="440.3,24.4 439.2,25.1 438.1,24.4 438.2,22.7 439,22.1 440.5,22.8"/>
<polygon points="450.6,22.8 450.9,26 449.9,26.7 449.1,25.6 449.6,22.8"/>
<polygon points="454.1,25 454.8,26.5 453.7,27.8 452.5,27.4 451.6,26.2 452.4,24.8"/>
<polygon points="461.3,25.8 460.9,24.7 461.9,22.7 462.8,23.8 462.5,25.8"/>
<polygon points="466.6,24.7 466.6,23.2 468,22.6 468.7,23.2 467.8,25.9"/>
<polygon points="471.8,26.4 469.8,25.5 469.9,24.4 470.9,23 472.3,23.6 472.8,25.7"/>
<polygon points="476.9,23.3 477.7,24.7 477,25.8 474.9,26.2 473.4,24.5 475.1,22.3"/>
<polygon points="477.8,26.6 476.1,26.1 477.3,24 478.7,23.4 479.4,25.2"/>
<polygon points="482.2,23.8 483.3,24.1 483.4,25.6 482.5,26.4 481.5,26 481.3,24.5"/>
<polygon points="486.1,26.7 483.7,25.4 484.1,24 487.2,23.2 488.4,24.9 487.7,25.7"/>
<polygon points="486.7,25.1 488.1,24.9 488.8,25.6 488.7,27.2 487,27.1 486.2,26.2"/>
<polygon points="493.4,26.9 492.2,27 491.4,25.8 492.7,24.9 493.8,25.2"/>
<polygon points="420.6,25.5 422.6,26.8 422.2,29 419.7,29.7 418.6,28.1 419.4,25.1"/>
<polygon points="422.5,27.4 424,27.9 424.3,29.1 424.1,30.9 422.4,31.2 421.8,29.2"/>
<polygon points="430,29.3 428.7,30.4 427.7,30.3 426.7,29.3 427.4,28.6 429,28.3"/>
<polygon points="429,26.5 430.3,26.9 431.1,27.6 430.8,29.4 429,30.5 428.1,30.4 427.3,28.5"/>
<polygon points="431,28.3 432.3,26.6 433.8,26.2 435.4,28.6 433.9,30 432,29.5"/>
<ellipse cx="446" cy="27.1" rx="0.8" ry="1.2"/>
<polygon points="451.5,26.3 453.2,25.8 454.9,27.2 454.4,28.8 452.6,29.4 450.4,27.6"/>
<polygon points="454.3,28.3 454.9,28.5 455.3,29.6 454.6,30.5 453.4,30.8 453,29.9 452.7,28.7"/>
<polygon points="463.3,27.4 463.5,29.7 462.7,30.4 461.3,30.2 460.5,28.9 461.4,26.8"/>
<polygon points="463.4,29.4 463.2,28.3 464.2,27.3 465,27.7 466,28.8 464.9,29.8"/>
<polygon points="473,28.9 472.7,27.2 473.7,26.2 474.6,26.4 474.8,27 474.6,28.6 473.8,28.9"/>
<polygon points="477.2,30.6 475.6,29.7 475.8,28.2 477.4,27.2 478.9,27.6 478.4,29.8"/>
<polygon points="478.9,27.2 478.9,26.2 480.2,26 481.1,26.7 481.1,27.6 480,28.1"/>
<polygon points="484.3,28.6 485.3,26.5 487,27 488,29.1 486.4,29.8"/>
<polygon points="490.4,29.8 489,29.9 488.2,28.8 488.5,28 490.5,27.5 491.6,28.5"/>
<polygon points="495.9,27.8 495.3,28.7 493.7,29.5 492.6,27.4 493.3,26.6 494.9,26.3"/>
<polygon points="392.2,31.1 392.2,32.5 390.7,33.8 389.2,32.7 389,32 390.7,30.7"/>
<ellipse cx="397.7" cy="30.5" rx="0.8" ry="0.9"/>
<ellipse cx="409.3" cy="32.3" rx="0.8" ry="0.8"/>
<polygon points="424.4,31.3 425,30.9 425.7,30.6 426.8,31.5 426.9,32.4 425.9,32.8 424.7,32.5"/>
<polygon points="425.5,31.6 427.1,30.2 428.3,30.4 430.2,32.5 428.8,33.5 426.5,33.3"/>
<polygon points="434.4,29.8 433.2,32.1 431.7,32.5 430.4,30.6 432.4,28.5"/>
<polygon points="433.6,32.3 434.6,30.6 435.5,30.7 435.8,32.4 435.2,33.7 433.8,33.3"/>
<ellipse cx="440.1" cy="32.1" rx="0.8" ry="0.7"/>
<polygon points="454.8,31.9 454.8,30.9 456.1,30.2 458,30.3 458.2,31.8 456.8,32.1"/>
<polygon points="461.7,31.9 459.3,33 458.4,31.1 459,28.8 461.1,29.3"/>
<polygon points="463.6,32 462.5,30.8 464.5,29.5 466.7,30.7 466.1,32"/>
<polygon points="467.3,30.5 469,31.7 468,33.2 466.2,33.4 464.5,31.7 466.2,30.1"/>
<polygon points="472.1,32.5 470.5,31.8 470.8,29.8 473.2,29.6 474,31.4"/>
<polygon points="474.7,30.8 473.6,32 471.8,31.3 472.3,29.3 473.8,29"/>
<polygon points="478.3,33.1 477.1,33.1 475.6,32.3 474.9,31.4 476.2,29.3 477.6,29.2 478.4,30.9"/>
<polygon points="481.1,31.1 480,30.3 480.6,29.6 481.5,28.9 482.4,29.3 482.6,30.9 482,31.5"/>
<polygon points="486,33.3 484.5,33 484.2,31.6 485.5,31.2 487.5,32 487.3,33.3"/>
<polygon points="487.6,32.8 486.9,31.5 488.6,29.8 490.7,31.6 489.8,33.4"/>
<polygon points="491.4,29.6 493.4,28.1 495.3,28.7 494.5,31.7 492.5,31.7"/>
<ellipse cx="395.6" cy="33" rx="0.9" ry="0.6"/>
<ellipse cx="420.3" cy="35.1" rx="0.9" ry="0.7"/>
<polygon points="425,35.6 423.5,36.3 422.5,35.2 422.6,34.3 424,33.1 424.5,33.9"/>
<polygon points="424.2,35.3 424.2,34.4 426.2,33.2 427.5,33.9 427.6,35.8 427.1,37.6 425.1,37"/>
<polygon points="427.4,32.1 429.5,30.8 431.4,32.3 431,34.8 428.6,34.8"/>
<polygon points="435.6,33.9 436.3,34.9 436.3,36.2 435.3,36.5 434.3,35.9 433.9,35.2 434.6,33.5"/>
<polygon points="437.8,35.7 436.4,36.5 435.1,35.5 434.9,34.5 436.3,33.6 437.4,33.5 437.9,34.4"/>
<polygon points="450.9,32.8 452.3,33.3 452.6,35.2 451.6,35.2 449.6,35.1 450,33.4"/>
<polygon points="456.1,34.3 455.9,35.8 455.2,36.5 454.2,36.2 453.4,35.5 453.9,33.7 455.4,34"/>
<polygon points="458.4,36.5 456.9,35 457.9,33.3 458.6,32.9 459.7,33.7 459.4,35.8"/>
<polygon points="461.7,31 463,32.3 462.9,34.3 461.3,34.6 461,32.9"/>
<polygon points="466.3,32.2 467.5,32.3 468.6,33.6 468,34.1 466,34.5 465.7,33"/>
<polygon points="467.3,35 467.4,33 468.8,32.3 470.5,33.8 469,35.7"/>
<polygon points="472.4,36.9 471.4,36.1 471.1,35.6 471.7,33.9 473.3,34.2 474.2,35.7 473.6,37"/>
<polygon points="479.4,35.1 479.1,36.3 477.9,36.6 476.9,35.9 477.5,34.7 479,34.4"/>
<polygon points="481.7,33.3 482.9,31.8 484.6,32.3 485.1,33.8 483.9,34.9 482.2,34.1"/>
<polygon points="486.8,33.7 487.4,35.4 485.5,35.8 483.7,35 484.7,33.2"/>
<polygon points="487.6,35.7 487.4,34 489.1,34 489.8,34.1 490.5,35.2 490.4,36.3 488.3,36.7"/>
<polygon points="493.3,34.3 494.3,33.7 495.8,33.5 495.8,36 495.1,36.8 493.7,37.1"/>
<polygon points="392.1,37.7 392,39.5 390,39.9 389.9,37.9 390.5,36.3"/>
<polygon points="419.7,36.6 420.3,36 422.4,35.7 422.8,37.3 422,37.8 420.1,37.6"/>
<polygon points="428.8,35.2 428.7,36.5 426.1,36.9 425.3,36.3 426.5,34.4"/>
<polygon points="430.9,37.6 430.8,39 430.1,39.6 428.2,39 428.4,37.9 428.8,37.3"/>
<polygon points="433,36.1 432.6,38.2 431.5,39.2 430.7,37.8 430.6,35.4 431.5,34.5"/>
<polygon points="433.8,38.7 434.6,38 436,37.6 437,38.6 436.1,39.4 434.9,39.5"/>
<polygon points="440.5,34.2 441.8,35.2 442.2,36.4 441.5,37.7 440.7,37.6 439.3,36.9 439.6,35.2"/>
<polygon points="446.8,36.6 446.2,39 444.4,39 443,36.8 444.4,35.3"/>
<polygon points="449.6,38 448,37.8 447.4,35.7 449.1,34.1 451,34.7 451.3,36.9"/>
<polygon points="455.4,39.7 453.6,40.3 453,40 452.5,37.8 453.5,36.7 454.3,36.4 455.3,38.1"/>
<polygon points="457.6,37.6 456.3,37.5 455.6,36 456.1,35.4 457.6,35.5 458.4,36.7"/>
<polygon points="462,37.1 462,35.4 462.7,35 463.7,35.8 463.6,37"/>
<polygon points="468.9,35.6 469.3,37.1 468.2,37.5 466.6,37.4 466.5,36.2 467.3,35.3"/>
<polygon points="469.6,36.6 471,37.3 471.7,37.7 470.8,39.9 469.8,39.4 468.9,38.6"/>
<polygon points="473.3,37.7 472.3,35.9 473.6,34.9 474.5,34.5 476.4,35.1 476.1,37.4 474.8,38"/>
<polygon points="476.6,37.1 475.1,36.4 475.9,35.4 477.8,35.6 478.7,36.7"/>
<polygon points="479.8,39.3 478.9,38.7 479.8,37.4 481.6,38 481.5,39.1"/>
<polygon points="488.1,36.8 487,39.2 485.8,39.1 484.2,38.1 485.3,35.8 487.9,35.4"/>
<polygon points="487,37.2 486.3,35.6 488.4,34.6 489.6,35.6 488.4,37.9"/>
<polygon points="493.1,35.4 493.5,36.1 492.8,37.2 491.2,36.9 491.3,35.8 491.9,34.8"/>
<ellipse cx="398.1" cy="39.3" rx="0.7" ry="0.7"/>
<polygon points="420.6,42.6 420.2,41 420.2,39.5 420.9,38 421.5,38.9 422.3,39.3 421.7,41.7"/>
<polygon points="422.8,40.9 423,38.9 423.9,38.8 425,40.3 424,41.2"/>
<polygon points="429,38.6 428.8,39.5 428.1,40.2 425.9,39.8 424.9,39 427.4,38"/>
<polygon points="429.8,39.1 432.2,38.8 432.8,40.5 431.4,42.1 429.9,41.4 428.9,39.9"/>
<polygon points="435.5,40.4 434.5,41.8 433,41.7 431.9,41.2 432.1,40 433.2,39 435.2,39.8"/>
<polygon points="437.6,39.7 438.7,38.9 439.9,39.9 439.9,41.1 438.8,42.3 437.8,42.1"/>
<polygon points="441.5,37.9 443.3,38.6 444.2,41.3 442.1,41.8 440.4,39.7"/>
<polygon points="441.6,40.1 442,38.3 442.9,37.5 444.9,38 445.9,39.1 444.2,40.5"/>
<polygon points="447.4,40.7 446.2,40.6 445.5,39.6 446,38.2 447.4,37.8 448.5,38.9 448.7,39.7"/>
<polygon points="452.7,40.7 450.7,40.8 449.9,38.9 450.4,37.8 451.7,36.6 452.8,37.2 454,39.1"/>
<polygon points="456.2,41.9 455.4,42 454.8,40.5 455.1,39.4 456.4,38.8 457,40.4"/>
<polygon points="460.5,39 462.6,40.1 463,41.3 460.7,42.3 459.2,40.7"/>
<polygon points="468.3,39.9 466.8,41.6 465.2,39.4 466.2,37.6 468,37.6"/>
<polygon points="468,39.4 470.3,38.5 471.4,39.6 471.3,41 469.6,41.9 467.9,40.7"/>
<polygon points="475.6,41.4 473.6,41.7 471.9,40.6 471.8,39.2 472.7,38.6 475.1,38.9 475.6,39.5"/>
<polygon points="476.8,40 478,39.5 479,41.3 478.1,42.7 476.7,43.5 476.3,41.6"/>
<polygon points="478.3,36.8 479.9,37.9 480,40.5 477.9,41 477.2,38.7"/>
<polygon points="482.6,41.9 482.9,38.5 484.5,38.7 485.1,40.3 483.9,42.2"/>
<polygon points="484.8,40.9 487,39.5 487.9,40.4 488.3,41.9 486.3,42.2 485.2,41.8"/>
<polygon points="489.2,41.7 488.1,40.9 489,38.7 490.4,38.3 491.9,40 492.1,41 490.8,42.1"/>
<polygon points="495,41.7 494.1,42 493,40.4 493.7,38.4 495,39.1 496.1,40.5"/>
<polygon points="390.6,46 388.8,45.1 389.5,42.7 391.8,43.1 392.4,45.4"/>
<polygon points="420.5,41.4 422.6,41.1 423.6,42.1 422.6,43.6 420.4,43.1"/>
<polygon points="425.4,42.4 426,44.4 423.7,44.9 421.8,44 422.8,42.5"/>
<polygon points="427.4,41.6 428.6,40.9 429.4,42.6 428.2,44.6 427.2,43.4"/>
<polygon points="429.1,42.8 430.9,41.7 433.3,42.5 433.6,44.1 430.7,45.5"/>
<polygon points="434.3,43.8 433.1,42.3 434.3,40.8 435.9,41.4 435.8,43.1"/>
<polygon points="438.5,45.7 438.1,44.1 438.6,42.3 441.1,42.4 441.6,43.8 440.1,46.2"/>
<polygon points="443.9,46.2 442.2,45.4 442,44 443.5,42.5 444.7,42.7 444.8,45.1"/>
<polygon points="447,45.5 445.9,44 445.9,42.6 448,42.9 448.6,43.2 449.2,44.9"/>
<polygon points="448.5,41.9 450.2,42.6 449.6,44.8 448.4,44.8 447.3,42.5"/>
<polygon points="451.2,40.7 452.6,40.6 454.6,42.1 453.4,44 451.7,44.3 450.6,43"/>
<polygon points="455.6,42.2 456.5,41.7 458.3,42 458.4,43 456.6,43.8 455.8,43.6"/>
<polygon points="461.5,41.4 461.8,42 459.9,43.3 458.5,43.2 457.8,42.7 457.4,41.3 459.1,40.3"/>
<polygon points="462.5,42.7 462.6,41.4 464.8,41.2 465.8,42.6 466,43.7 463.1,44.1"/>
<polygon points="464.9,42.2 466.1,40 467.6,41.1 467.4,43.5 465.4,43.5"/>
<polygon points="475.6,43.1 476.3,44.7 475.5,46.2 473.4,45.3 472.7,43.4 474.5,42.2"/>
<polygon points="487.8,43.9 487.4,44.5 485.3,44.8 484.2,43.5 485.3,43 486.7,42.8"/>
<polygon points="487.9,42 488.8,42.6 489.5,43.7 488.8,44.3 487.3,44.7 485.3,43.5 486.3,42.5"/>
<polygon points="491.2,43.9 489.3,42.8 489.2,41.4 491.8,40.8 492.6,41.8 492.3,43.9"/>
<ellipse cx="392.9" cy="45.6" rx="0.5" ry="0.7"/>
<ellipse cx="398.5" cy="46.3" rx="0.9" ry="0.9"/>
<polygon points="421.2,46.2 422.4,47 421.7,48.1 420.1,48.5 419.6,48 419.4,46.7"/>
<polygon points="424.8,45.5 424.9,46.5 423.4,47.9 422.2,47.3 421.2,45.8 423.3,44.8"/>
<polygon points="428.7,46.3 429.7,47.4 429.1,49.5 427.3,48.9 427.1,46.9"/>
<polygon points="435.3,47.4 433.5,48.6 431.8,48.1 430.9,46.1 432.6,45.1 434.4,45.6"/>
<polygon points="436.7,46.7 436.9,45.1 437.5,44.3 438.8,44.1 439,45.8 438.3,47.1"/>
<polygon points="441.3,46.2 443.2,47.3 444.1,48.2 441.7,49.4 440.5,49.1 439.8,47.1"/>
<polygon points="444.8,47.9 446,45.4 447,46.2 447.1,48.3 445.8,49.3"/>
<polygon points="449.1,47.3 448.2,47.1 447.7,45.7 448.5,43.9 449.3,43.4 450.4,45.4 450.1,46.4"/>
<polygon points="451.4,46.4 453.2,47.2 452.4,48.1 450.5,48.2 449.5,47.5"/>
<polygon points="455.6,45.4 456.6,46.5 456.8,48.6 455.2,48.7 454.1,46.9"/>
<polygon points="462.4,48 461.3,48.6 460.2,48.6 460.1,47.7 460.2,46.7 461.6,46.4 461.9,47"/>
<polygon points="465.1,46.3 464.8,45 465.1,44.3 466.5,44.1 467,44.8 467.1,45.9 466.4,46.5"/>
<polygon points="470.9,47.8 470,48.5 468.4,48.3 467.8,46.9 469.8,46.2"/>
<polygon points="470.9,47.4 469.8,46.9 470.1,45.7 472.1,44.8 473.1,45.9 473.4,47"/>
<polygon points="481.8,45 481.6,46.2 480.7,46.9 479.5,45.8 479.3,45 480.4,44.7"/>
<polygon points="483.5,47.4 482.5,48.1 482,46.7 482,45.4 482.9,44.7 483.9,46.1"/>
<polygon points="484.9,46.5 485.1,45.6 486.3,44.5 486.9,45.6 487.1,46.8 486.6,47.8 485.4,48"/>
<polygon points="491.1,47.6 489.9,46.6 489.7,45.3 491.3,44.8 491.7,46.6"/>
<polygon points="493.4,45.9 494.3,43.7 495.8,44.8 495.5,47.8 494,47.9"/>
<polygon points="390.1,47.7 390.8,48.2 391.5,49.7 391,50.3 390,50.8 389.4,50.3 389.4,48.5"/>
<ellipse cx="405" cy="50.7" rx="0.8" ry="0.7"/>
<polygon points="414.2,48.2 415.2,49.6 414.7,52.3 413.3,51.8 413,49.1"/>
<polygon points="417.6,50.4 417.6,49 418.7,48.3 419.9,50.1 419,51.3"/>
<polygon points="424.5,49.5 423.6,50.3 422.4,50 422,48.9 422.6,47.6 424,47.3"/>
<polygon points="427.5,50.8 428,49 430.7,49.7 431,51.4 428.3,52"/>
<polygon points="432.3,48.2 433.2,49.1 433.4,50.7 432.2,52 431.3,51.2 431.6,49"/>
<polygon points="438.8,48.6 437.9,50.3 436,50.9 434.8,50.1 435.1,48.7 437.5,48.2"/>
<polygon points="441,50.3 439.4,50.4 437.9,49.1 438.4,47.7 441,47.6 442.1,48.4"/>
<polygon points="442.6,48.4 443.2,49.6 442.5,51.2 441.5,51.3 440.6,49.7 441.6,48.5"/>
<polygon points="445.8,51.9 444.5,51.7 444.1,49.9 445.8,48.9 446.7,50.2"/>
<polygon points="449.1,50.1 448,49.8 447.6,48.4 448.6,47.7 449.6,48.3"/>
<polygon points="455,50.6 453.3,50.4 452,49.7 452.8,47.6 455.3,48.1 455.6,49.2"/>
<polygon points="458.4,49.7 456.6,50.7 455.2,49.8 456.5,47.5 458.2,48.1"/>
<polygon points="459.8,48.7 461,48.8 461.5,50.3 461.1,51.7 459.6,52.2 459.2,51.8 459,50.1"/>
<polygon points="463.6,49.4 464.2,48.8 465.7,48.6 467.1,49.8 466.6,50.4 465.7,50.9 464.4,50.7"/>
<polygon points="468.3,46.8 469.6,48.3 469.5,50.1 467.6,50.4 467,48.9"/>
<polygon points="470.4,48.8 471,47.7 472.5,47.6 473.3,49 472.1,50.5 470.4,50.2"/>
<polygon points="475.6,48.9 476.4,50.5 476.1,52.2 475.4,53 473.1,51.1 473,49.7"/>
<polygon points="484.7,49.2 481.9,50.6 480,49.2 481.5,47.6 483.8,48"/>
<polygon points="486.7,50.4 485.2,51.1 483.1,50.5 483.5,48.8 484.9,48.3 486.2,48.8"/>
<polygon points="489,49.1 488.9,49.9 487.8,50.3 487.3,50 487.2,48.9 487.5,48.1 488.3,47.5"/>
<polygon points="490.6,47.4 491.7,46.3 492.6,48.9 491.5,50.3 490,49.7"/>
<ellipse cx="392.7" cy="51.2" rx="0.5" ry="0.7"/>
<polygon points="408.1,55.1 407.9,53.9 408.6,51.9 410,52.6 410.1,54 409.4,55.2"/>
<polygon points="416.1,51.2 416.5,53.2 415.8,55.1 414.6,54.8 414.6,52.5 414.9,51.7"/>
<polygon points="418.7,50.5 420.1,50.7 420.2,52.2 419.5,53.6 417.8,52.6 417.2,51.3"/>
<polygon points="424.8,54 423.7,55.3 422.4,54.1 422.3,52.6 423.3,51.7 424.2,52.2"/>
<polygon points="428.6,52.1 428.3,53.4 426.9,53.9 426.1,52.7 426.8,51 428.3,50.8"/>
<polygon points="430.1,51.7 431.8,51.3 432.6,51.9 432.2,53.4 430.9,54.3 429.9,53.2"/>
<polygon points="432.9,53.9 433.1,53 433.6,51.9 434.7,52.4 435.1,53.3 434.8,54.5 434,54.4"/>
<polygon points="437.9,50.1 440,50.3 439.9,52.2 438.4,53.2 437.7,52.5 436.6,50.6"/>
<polygon points="441.1,54.3 440.2,53.6 439.7,51.9 439.8,50.2 441.3,50.8 441.5,52.4"/>
<polygon points="443.8,50.9 444.9,50.6 445.3,53.2 445.1,54.6 443.6,53.6 443.3,52.9"/>
<polygon points="446.9,53.2 446.9,52.7 447,51.8 448.6,51.3 449.5,52.3 449.2,53 448,53.9"/>
<polygon points="452.1,52.4 450.9,53.3 449.5,51.8 450.2,49.9 451.2,49.5 451.9,50.6"/>
<polygon points="457.9,52.8 459.5,51.4 460.4,51.7 461.1,53 461.2,54.4 459.9,55.1 458.4,55.2"/>
<polygon points="463.2,51.2 462.9,52.1 461.6,52.6 460,52.5 460.2,51.5 460.3,50.6 462,50.1"/>
<polygon points="464.2,52.5 463.7,50.5 464.3,50.2 466.2,50.1 466.4,51.8 465.8,52.3"/>
<polygon points="468.6,50.8 470.3,51.3 470.4,52.5 469,53.5 467.4,52.9 467.8,51.2"/>
<polygon points="472.7,51.3 473.8,51.2 474.7,52.5 474.5,53.2 473.4,53.9 472.6,53.6 472.4,52.5"/>
<polygon points="477.4,53.7 476.4,54.6 475.6,53.8 476.1,51.8 477.1,51.4"/>
<polygon points="480.4,52.9 477.6,53.6 476.3,51.8 478.3,50.7 480.4,51.2"/>
<polygon points="482.4,53.2 480.7,53.1 480.4,52.1 481.7,50.9 482.6,50.6 483.3,51.5 483.4,52.6"/>
<polygon points="487.1,53.3 486.4,51.3 487.5,50.2 488.8,51.7 488.3,53.4"/>
<polygon points="489.5,51.4 490.9,53.4 490,54.8 487.5,54 488,51.7"/>
<polygon points="492.3,54.7 491.6,53.7 492,52.4 493.4,52.2 494.5,53.5 494.3,54.8"/>
<polygon points="389.2,58.7 388.3,57.7 388.6,55.3 390.4,54.9 391.4,56.1 390.2,58.3"/>
<ellipse cx="393" cy="54.5" rx="0.9" ry="0.7"/>
<polygon points="407.5,56.2 407.3,53.4 408.3,52.5 409.9,54.3 409.5,55.7"/>
<polygon points="410.1,54.9 412.1,53.8 413,56.1 411.6,57.1 410.4,56.4"/>
<polygon points="415.2,55.9 413.7,55.1 414.5,54 415.4,53.9 416.7,53.7 416.9,54.9 416.5,56.1"/>
<polygon points="417.3,57.1 417.4,56.4 418.7,55.7 419.6,55.8 420.7,56.9 420.8,57.6 419.2,58"/>
<polygon points="424.5,55.4 422.8,56.6 420.5,56 420.6,55.1 422.4,53.7 424.1,54.1"/>
<polygon points="426.9,55.5 427.6,56.7 426.7,58.3 425.9,58 424.5,57.8 424.3,56 425.7,55.6"/>
<polygon points="427.6,57.8 427,56.3 427.3,54.2 428.7,54.1 429.2,55.2 428.5,57.4"/>
<polygon points="432.4,58.3 430,56.7 430.8,55 433.3,55.1 434.5,56.6 434.4,58.1"/>
<polygon points="434.9,57.9 434.1,56.8 434.1,55.9 435.6,55.5 436.8,55.8 437.2,56.6 436.3,58.1"/>
<polygon points="439.1,56.6 437.3,56.1 437.6,54.7 438.4,54.1 439.7,54.3 440.1,55.5"/>
<polygon points="444.9,58.3 443.4,58.3 442.4,56.6 443.2,54.5 444.5,54.9 445.2,57.2"/>
<polygon points="444.1,55.6 444.4,54.5 445.3,53.3 446.7,53.6 446.9,55.5 445.7,56.5"/>
<polygon points="450.4,54.8 450.7,56.8 449.4,58.3 447.6,57.1 447.2,55.3 449.2,54.3"/>
<polygon points="454.9,55.2 454.5,56.3 453.2,57.2 451.7,56.9 451.2,55.4 452.8,53 454.3,53.9"/>
<polygon points="458.4,54.8 459.1,56.2 457.4,56.7 455.2,56 454.9,55.2 456.7,54.6"/>
<polygon points="461.1,56.5 460.3,54.5 461.4,53.7 462.6,54.4 463.2,55.9 462.2,57.3"/>
<polygon points="464.6,58 463.6,57.5 463.5,55.6 464.5,55.3 465.5,55.7 465.4,57.3"/>
<polygon points="466.6,52.5 468.4,52.7 469.5,53.4 469.5,55.1 467.6,56.6 467,56.2 466.4,54.1"/>
<polygon points="470.5,55.5 470.3,54.9 471.1,53.9 472.3,53.5 472.9,54.2 472.5,55.7 471.4,55.7"/>
<polygon points="474,57.9 473.2,58.3 471.5,57.5 472,55.5 473.1,54.7 474.9,55.6 474.7,57"/>
<polygon points="476.1,53.1 477.3,51.9 478.3,53.8 477,56.9 475.7,55.6"/>
<polygon points="479.4,53.7 481.1,53.2 482.4,53.9 482.7,55.4 481.5,56.3 479.9,55.7 479.1,54.7"/>
<polygon points="486.4,54.4 486.3,56.4 484.4,57.4 483.5,56 484.5,54.4"/>
<polygon points="490,55.1 489.6,54.1 490.7,53 492.4,53.1 493.1,54 492,55.1 491.4,55.6"/>
<polygon points="394.3,59.7 393.6,60 392.4,59.3 392.7,58.1 393.8,57.8 394.3,58.2"/>
<polygon points="396.8,57.7 397.5,58.8 397.3,60.2 395.9,61.1 395.2,60.1 395.1,57.8 395.5,57"/>
<polygon points="396.3,58.5 397.4,56.6 399.6,56.5 400.7,57.6 399.3,59.7 397.8,59.4"/>
<polygon points="402.2,60.5 402.6,59.9 403.7,58.7 405.1,59.2 405.1,60.6 404.3,60.8"/>
<polygon points="407.2,58.6 405.7,59.4 404.8,58.5 405.7,57.3 407.1,57.5"/>
<polygon points="410.2,57.6 410.6,59 410.2,59.8 408.5,60 408.1,58.8 408.6,57.3"/>
<polygon points="414.1,58.9 413.2,59.6 411.5,59.9 410.9,59.1 411.1,58.6 411.7,57.7 413,58.2"/>
<polygon points="415.9,58.9 415.8,57.7 418.1,57.2 418.6,58.6 417.4,59.3"/>
<polygon points="420.9,59.4 420.1,61 418.3,59.6 418.8,57.5 420.8,57.7"/>
<polygon points="425.6,60.6 424.5,60 424.1,58.4 424.6,57.9 425.9,58.5 426,59.4"/>
<polygon points="425.7,61.9 424.8,61.2 425,59.5 425.4,58.1 426,58 427.2,58.9 427.1,61"/>
<polygon points="431.7,58.4 430,59.2 428.3,57.4 430,55.7 431.6,57.1"/>
<polygon points="435.9,58.5 434.5,59.1 433.3,57.1 435.1,55.3 436.2,56.6"/>
<polygon points="440.7,56.3 442.6,56.4 443.8,57.6 442.4,59 440.3,58.8 440,57.4"/>
<polygon points="443.2,58.3 444.1,58.8 444.8,59.8 445,60.6 442.8,60.9 442.2,60.2 442.1,59"/>
<polygon points="449.6,61.3 447.6,61.1 447,58.7 448.7,58.1 450.2,58.7"/>
<polygon points="454.3,58.7 454.4,60.6 453.7,60.9 452.6,61 451.9,59.6 452,58.3 453.1,57.4"/>
<polygon points="456.3,57.3 456.2,58.4 456.2,59.8 455.6,60.2 454.4,59.9 453.9,58.4 455.1,57.1"/>
<polygon points="459.5,56.9 459.8,58.5 458.3,59.8 457.4,58.8 458,57"/>
<polygon points="464.2,58.7 462.7,60.3 461.5,58.7 461.5,56.5 464.1,57"/>
<ellipse cx="471.7" cy="58.5" rx="1" ry="1.2"/>
<polygon points="481.8,58.7 481.3,59.9 480.2,60.7 478.2,60.2 478.7,58.6 480.2,57.6"/>
<polygon points="484.5,58 483.7,59.3 482.1,57.6 482.2,56.3 483.6,55.5 484.6,56.2"/>
<polygon points="489.6,57.9 489.2,58.3 487.9,58.8 486.3,58.3 486.8,57.2 488.6,56.9"/>
<polygon points="388.1,60.4 391.4,61.3 390.7,63.6 387.9,63.9 387.7,61.8"/>
<polygon points="393.8,63.2 394.1,61.6 394.8,61.3 395.8,62.1 395.5,63.7"/>
<polygon points="398.1,61.2 395.5,61.5 394.7,60.5 395,59.7 396.5,59.6 398,60.2"/>
<polygon points="402.4,62.1 400.8,62.3 400.1,59.7 400.6,58.9 402.3,58.7 403.7,60 403.3,61.8"/>
<polygon points="405.5,61.5 406.1,60.9 406.8,60.2 407.9,60 408.7,61.6 408.3,62.1 406.9,62.1"/>
<polygon points="412.7,61.1 415.1,61.2 416.4,62.5 414.7,63.6 413.3,63.9 412.3,62.3"/>
<polygon points="418.4,59.1 420.2,59.1 421.2,59.6 420.6,61.6 419.5,61.8 417.8,61.1"/>
<polygon points="426.5,61.2 427.9,60.8 429.6,61.3 429.6,62.9 429.4,63.8 427.7,63.5 426.7,63"/>
<polygon points="435.7,61.9 436.4,63 435.1,64.5 433.3,63.8 433.6,62.3 434.5,61.9"/>
<polygon points="439.1,62.4 438.4,61.5 439.4,60.7 440.9,60.9 441,62.1 440.3,62.8"/>
<polygon points="445,61.4 446.4,60.5 447.6,60.1 448.9,61.6 448.6,62.4 447.9,62.9 446.4,62.6"/>
<polygon points="450,61.8 450.6,60.4 452,60.3 453,61.4 452.2,62.5 450.3,62.5"/>
<polygon points="453.7,61 454.6,60.9 455.2,62 454.3,63 452.9,63.2 452.1,61.5"/>
<polygon points="457.3,63.4 456.4,63.7 454.8,63.9 453.7,62.8 453.8,62.2 455.5,61.7 457.4,61.9"/>
<polygon points="460,60.5 461.1,59.2 462.4,61.9 462,63.6 459.9,62.9"/>
<ellipse cx="476.9" cy="61.2" rx="0.7" ry="0.5"/>
<polygon points="481.4,61.7 480.4,61.8 479.6,60.9 479.7,60.1 480.8,59.3 482,60"/>
<polygon points="482.4,62 483.7,60.9 485.5,60.7 485.6,62.1 484.3,63.8 483.2,63.2"/>
<polygon points="489.4,61.2 486.8,62.8 485.7,61.1 487.5,58.8 489.3,59"/>
<polygon points="490.2,61.6 490.6,60.9 492.2,60.8 493.8,61.3 494.1,62.4 492.8,63.1 490,62.7"/>
<polygon points="392.6,63.5 394.2,64.4 394.3,65.6 393.3,66.9 392.3,66.3 391.6,65.9 392,64.2"/>
<polygon points="395.6,67.4 394.8,66.7 394.2,65.3 394.5,64.2 396.4,63.8 397.2,64.5 397.1,66.6"/>
<polygon points="399.6,62.8 400.6,64 399.6,65.3 398.1,64.9 398,63.4"/>
<polygon points="403.1,62.4 403.5,62.9 404.1,64.4 403.7,65 401.7,64.8 401.4,63.7 401.9,62.8"/>
<polygon points="405.5,65.3 405.5,64.6 406.9,63.8 408.1,64 407.9,65.5 406.9,66.6"/>
<polygon points="410,67.1 408.6,66.5 408,65.3 409.3,64.2 410.9,64.3 410.9,66.1"/>
<polygon points="412.2,65.5 411.9,64 412.2,62.8 414,63 415.4,64.2 414.6,66.1"/>
<polygon points="415.3,64.5 415,63.9 415.7,63 417,62.7 417.7,63.6 416.5,64.5"/>
<polygon points="423.4,66.3 423,65.8 422.7,65 424,63.9 424.5,64 424.9,65.1 424.4,66.6"/>
<polygon points="428.3,66.6 427.4,65.7 427.2,64.7 427.8,63.4 429.4,63.5 429.5,64.8 429.3,65.9"/>
<polygon points="432.1,67.1 430.3,67.5 429.5,66.1 429.4,65 431.3,64.5 432.2,65.7"/>
<polygon points="433.4,67.7 432,67 432,65.1 434,65 435.1,65.6 435.1,67.1"/>
<polygon points="436.5,67 435.5,66.3 435.7,65.1 437.8,65 439.3,65.3 438.8,66.8"/>
<polygon points="440.2,63.5 441.6,62.1 442.6,62.2 443.1,63.8 442.6,65.5 440.7,65.3"/>
<polygon points="443.9,66.4 443.9,65.1 445.3,64.5 446.5,64.8 447.3,65.9 446.2,67.1 445.3,66.9"/>
<polygon points="448.1,64.8 447.3,65.5 445.8,64.9 445.8,63.5 446.4,62.3 447.7,61.7 448,62.9"/>
<polygon points="453.1,64.8 450.7,65.7 449.5,64.1 450.1,62.8 451.8,62.3 452.8,63.4"/>
<polygon points="456.7,66.1 455.5,66.8 454.5,65.7 454.9,64.1 456.2,64.2"/>
<polygon points="459.8,63.8 459.6,66.5 457.8,67.2 457,65.5 458.2,63.8"/>
<polygon points="464.6,67.8 462.8,67.9 461.6,65.8 462.2,64.6 464.1,63.8 465,65.2"/>
<ellipse cx="465.2" cy="64.5" rx="0.8" ry="0.9"/>
<polygon points="477.1,67 476.4,66.3 475.8,64.2 477.4,63.6 478.5,64.5 478.2,66.1"/>
<polygon points="482.8,63.1 483.7,65.4 483,66.8 482.2,66.8 481.4,66.2 482,63.2"/>
<polygon points="485.8,63.5 486.7,62.4 488.4,62.8 488.5,64.6 488.1,65.4 486.9,65.5"/>
<polygon points="494.7,64.6 495.6,66 493.9,67 492.7,66.3 492.8,64"/>
<polygon points="390.8,66.1 392.4,66.2 393.5,67.2 392.3,68.4 390.7,68.5 390.5,68 390.2,66.8"/>
<polygon points="394.3,69.7 392.6,70.8 391.6,69 392.9,67.4 394.3,67.9"/>
<polygon points="397,65.9 398.4,66.8 398,68 396.7,68.5 396.1,66.5"/>
<polygon points="401.6,66.8 400.9,67.9 399.5,67.3 399.2,65.9 400.4,65.3 401.3,65.1"/>
<polygon points="402.6,68.7 402.4,67.7 403.4,66.3 404.2,66.4 405.1,67.7 405,68.8 404.1,70"/>
<polygon points="408.6,66.3 408.9,67.5 407.4,68.6 406.2,68.2 405.5,67.4 406.5,65.4 407.5,65.7"/>
<polygon points="411.3,69 411.2,67.5 411.5,66.6 413.5,66.7 414.2,68.4 413.4,69.1 412.2,70.3"/>
<polygon points="414.9,65.7 415.2,68.1 413.8,68.5 412.9,67.3 413.3,65.3"/>
<polygon points="420.1,67.5 420.5,68.8 419.8,69.8 417.8,70.1 416.9,69.2 417,67.8 418.8,67.5"/>
<polygon points="424.9,67.8 424.3,69.1 422.2,69.3 421.1,67.6 421.7,66.2 422.8,66.1"/>
<polygon points="423.3,67.2 425.3,67.1 426.4,68.5 424.2,69.9 422.4,68.8"/>
<polygon points="430.3,69.3 428.8,70.2 427.9,69.3 428.6,67.6 429.6,67.2"/>
<polygon points="433.8,66.6 434.8,67.7 434.5,69.1 432.8,69.3 431.7,68.2 432.3,67.2"/>
<polygon points="437.4,68.6 436.3,69.2 434.8,68.4 434.1,67.1 435.9,66.2 438.1,66.9"/>
<polygon points="440.5,66.9 440.9,68.1 438.9,69.1 437.8,69 437.4,67.9 438,67.1"/>
<polygon points="441.4,67.1 442.8,65.6 445.3,66.4 445.7,67.7 442.7,68.7"/>
<polygon points="446.4,67.1 446,66.1 446.9,65.2 448,65.9 448.1,66.8 447.2,67.7"/>
<polygon points="450.8,68.7 449.1,68.7 447.9,67.6 447.8,66.5 449.8,65.6 451.1,66.5 451.6,67.4"/>
<polygon points="453.6,66.4 452.6,68.4 451.4,67.6 450.7,66 451.6,65.1 452.4,64.5"/>
<polygon points="459.2,67.6 458.9,69.4 458,69.6 456.8,69.3 456.7,67.8 457.4,67.3 458.7,67.2"/>
<polygon points="459.8,68.8 458.8,67.9 458.7,65.8 460.7,65.9 462.3,66.5 461.8,68.7"/>
<polygon points="464.7,65.6 466.4,66.8 466.7,68.3 465.5,69.3 463.5,68.3 463.3,67.3"/>
<polygon points="470.3,67.8 471.5,66.9 473.4,67.9 471.9,69.6 470.2,69.2"/>
<polygon points="475.7,69.2 476,67.1 477.3,67.8 477.7,69.4 476.6,70.6"/>
<polygon points="479.6,65.6 481.3,65.8 481.8,67.2 480.9,68.2 478.9,68.3 478.6,66.6"/>
<polygon points="486.4,68.7 483.9,69.4 482.6,68.5 483.4,67.2 486.2,67.6"/>
<polygon points="488.5,69.9 488,68.6 488.2,67.8 489.2,67.2 490.3,67.8 490.2,68.7 489.9,69.5"/>
<polygon points="489.3,66.2 490,65.2 492.2,66.1 493.4,67.8 491.5,68.7 489.7,68.8"/>
<polygon points="393.1,70.6 394.1,71.6 393.5,73.2 393,74.2 392,73.3 391.9,71.7 392.6,70.9"/>
<polygon points="397.8,69.6 397.7,71.5 397.2,72.2 396.2,72.5 395.7,70.5 396.3,69.6"/>
<polygon points="399.2,70.9 399.9,72.1 399.6,73.1 398.3,73.1 397.6,72.7 398.3,70.9"/>
<polygon points="403,68 404.6,68.5 405,69.5 405.1,70.8 403.5,72 402.1,71.3 402,70.1"/>
<polygon points="404.1,71.9 405.1,70.8 406.5,70.7 407.6,71.4 406.7,72.7 405.7,72.7"/>
<polygon points="410.2,72.9 409.7,72.1 410,71.2 410.7,70.6 411.9,71.3 412.5,72.4 411.8,72.6"/>
<polygon points="412,71.2 412.1,69.9 413.3,69.3 414.5,69.9 414.7,71.2 413.2,71.8"/>
<polygon points="417.2,71.5 416.1,69.8 416.8,68.3 418,68.2 418.7,69.2 418.2,71.1"/>
<polygon points="421.5,72 420.2,71.1 420.2,69.8 420.7,68.6 422.5,68.2 423.6,70.4 422.8,71.5"/>
<polygon points="425.1,73.5 424,72.9 424.1,70.3 424.8,69.1 426.4,70.3 425.9,71.8"/>
<polygon points="427.2,69.7 428.6,70.3 428.4,72.1 427.4,72.4 426.7,71.7"/>
<polygon points="432.8,69.3 433.9,70.1 434.2,71.4 432.8,71.5 432.3,71.2 431.9,70.4"/>
<polygon points="438.7,68.9 440.4,70 440.1,71.5 438.3,72.5 437.7,70.5"/>
<polygon points="450.2,71.7 450.2,73.2 448.2,72.9 447.7,72.3 447.9,71.2 449.6,70.7"/>
<polygon points="453.5,71.3 451.8,71.5 450,70.5 450.9,70 452.6,69.3 454.2,69.5 454.5,70.9"/>
<polygon points="455.5,69 455.8,70.1 454.7,71.4 453,71.1 451.9,68.9 453.3,67.8"/>
<polygon points="459.1,70.2 458.6,71.6 457.4,72 455.1,70.9 456,69.6 457.9,69.7"/>
<polygon points="462.3,72.7 461.6,71.4 462.4,70.2 463.8,70.3 464,71.6 463.4,72.5"/>
<polygon points="464.6,69.4 465.5,68.4 466.4,69 466.7,70.3 466.2,71.1 465.2,70.8"/>
<polygon points="469.6,70.1 470.3,70.7 470.8,72.4 470.2,73.1 469.6,73.8 468.4,72.7 468.5,70.8"/>
<polygon points="475.2,69.9 475.9,71 475.1,71.8 473.5,71.7 472.4,70.8 472.3,70"/>
<polygon points="475.7,70.7 475.5,68.8 477.1,67.5 478.7,68.2 478.2,70.3 477.6,71.1"/>
<polygon points="478.1,72.1 477.2,71 476.8,69.3 478.8,68.5 479.6,69 480.8,70.4 479.7,71.2"/>
<polygon points="485.2,72.6 484.2,73.4 483.1,72.2 483.1,70.4 484.4,69.6 485.1,70.6"/>
<polygon points="484.5,70.1 484.6,68.4 486.5,67.1 487.7,68.7 486.8,70.8 485.1,71.8"/>
<polygon points="487.9,73.4 486.6,72.6 487.6,70.3 488.7,70.2 490.4,71.2 491.2,72.6 489.5,73.5"/>
<polygon points="392.8,72.4 392.3,73.9 391.2,74.5 390.1,73 390.2,71.5 391.6,70.8"/>
<polygon points="391.8,73.4 394.8,73 395.7,73.8 394.5,75.2 391.4,74.8"/>
<polygon points="397.9,72.5 398.2,73.9 397.1,75 395,74.9 394.4,73.4 395.5,72.1"/>
<polygon points="401.9,72.1 403.4,73.6 401.6,74.7 400.1,74.5 398.5,73.6 400.4,71.9"/>
<polygon points="404,72.2 404.8,73.5 404.3,74.8 403.2,74.8 402.4,72.8"/>
<polygon points="407.4,72.2 408.5,72.8 408.7,75.3 407.1,76.6 406.2,75.6 405.9,73.2"/>
<polygon points="413.6,74.9 413.4,76 411.5,76.5 410.3,75.3 411,73.7 411.3,72.8 412.6,72.2"/>
<polygon points="414.9,76 413.8,74.9 414,72.3 415.6,72.4 416.2,73.6"/>
<polygon points="418.1,75.5 417.8,73.7 419.6,72.7 421,72.6 421.6,74.9 419.9,75.4"/>
<polygon points="419.8,72.8 419.9,71.4 421.1,70.8 422,71.6 421.9,73.7 420.2,74.2"/>
<polygon points="426.1,72.8 428,73.2 428,75.3 426.1,76.6 424.6,75.6 424.7,74.1"/>
<polygon points="432.2,72.2 431.5,73.6 429.7,73.9 428.6,73.7 428.1,72.4 429.4,71.3 431.6,71.8"/>
<polygon points="430.7,72.1 431.9,72.5 432.6,73.7 431.6,74.6 430.2,74.9 430,73.3"/>
<polygon points="439,73.6 438.4,74.8 435.8,75 435,73.3 435.7,72.2 438,71.9"/>
<polygon points="439.2,72 439.8,73.8 439.6,74.9 437.5,75.2 436.4,75.2 436.5,73.1 437.3,72.1"/>
<polygon points="445.3,73.6 445.6,75.1 444.3,76 442.9,75.2 442.8,74.2 444.2,73.4"/>
<polygon points="445.9,74.5 445.3,74.8 444.3,75 443.7,73.3 444.6,72.2 445.8,72.1 446.4,73.4"/>
<polygon points="450.3,72.1 450.4,73.8 448.7,74.4 448.4,73.5 448.9,71.9"/>
<polygon points="454.7,75.4 452.3,76.4 451.4,75.1 452.1,73.8 454.6,73.6"/>
<polygon points="458.6,72.9 459.5,74.6 458.4,75.5 457,75.3 456.7,74.1 457.7,72.8"/>
<polygon points="459.9,73.8 461.5,73.1 462.4,74.4 461.7,75.4 460,75.1"/>
<polygon points="463.5,73 463,73.6 461.9,72.9 461.8,72.1 462.5,71.4 463.6,71.7"/>
<polygon points="465.4,74.5 466.5,73.6 467.7,73.9 468,74.4 467.9,75.7 467,75.9 465.7,75.4"/>
<polygon points="470.5,74.4 470.5,73.2 472.2,72.8 473,73.4 472.3,75"/>
<polygon points="477.2,74.9 476.7,76 475.2,76.4 474.6,75.3 474.8,74.1 476.6,73.8"/>
<polygon points="475.5,75.3 475.1,73.9 475.8,73.2 477.7,72.9 478.5,74.4 477.9,75.8"/>
<polygon points="483.4,70.9 484.1,72.2 482.8,74.1 481.8,74.1 481.1,73.5 480.7,70.9 482,70.3"/>
<polygon points="484.8,72.1 486.4,71.8 487.2,73.1 486.5,74.6 484.9,74.4"/>
<polygon points="487.5,73.8 487.5,72.4 488.6,71.8 489,71.9 489.3,73.3 488.5,73.9"/>
<polygon points="492.1,72.7 493.1,71.4 494.1,71.9 495.3,73.9 494.1,75.4 492,74.6"/>
<polygon points="391.5,74.4 393,73.9 394.6,74.2 395.1,76.4 394.1,77.5 392.4,76.9"/>
<polygon points="398.2,76.9 396.3,77.7 394.9,77 395.3,75.6 396.8,74.7 398.6,75.6"/>
<polygon points="400.6,75.7 400.5,77.2 399.4,78.1 398.3,76.7 398.8,75.5 399.7,75.1"/>
<polygon points="404.2,76.6 403.5,77.7 402,77.4 401.5,75.9 402.6,75.1 404.2,75.2"/>
<polygon points="406.1,76.3 406.2,74.6 407,73.7 408.7,75.3 408.6,76.5 407.7,77.6"/>
<polygon points="409.6,77.4 409.5,76 411.2,75.1 412.9,75.9 411.9,77.5"/>
<polygon points="415.1,75.8 415.8,77.1 414.9,78.8 413.6,78.8 413,77.4 413.1,76.7 414.1,75.8"/>
<polygon points="416.2,78.5 415.3,77 415.5,75.8 418.5,75.5 418.6,77.4"/>
<polygon points="419.8,77 419.6,74 421.1,73.4 422.2,75.6 421.5,78"/>
<polygon points="423.7,78.6 422.5,78.7 421.5,78.2 421.5,76.5 422.4,74.9 423.9,76.4"/>
<polygon points="427.9,75.6 428.9,77.8 427.5,78.1 425.6,77.9 425.2,76.4 425.9,75.5"/>
<polygon points="431,77.8 430.6,76.5 430.8,76 432.7,75.9 433.7,76.4 433.2,77.3 431.9,78.2"/>
<polygon points="431.7,78.5 432.3,76.4 433.7,75.6 434.5,76.9 434,79.2 432.6,79.5"/>
<polygon points="436.1,77 436.4,75.5 437.2,74.6 438.1,76.7 437.3,77.6"/>
<polygon points="440.8,74.2 442.4,75.3 442.3,76.2 440.9,77.3 439.8,77.7 438.7,76.3 439.3,74.5"/>
<polygon points="444.2,77.2 444.5,75.9 445.5,75.5 446.3,76.9 446,77.7 445.1,78"/>
<polygon points="448.5,77.2 446.6,77.3 445.6,76.1 446.5,75.4 447.8,75 448.9,75.6"/>
<polygon points="451.9,78.8 450.8,79.5 449.8,77.6 450.2,76.2 450.8,75.7 452.3,75.4 453.5,78"/>
<polygon points="455.2,74.3 456,75.3 456,76.5 454.4,77.3 453.4,77 453.6,75.8 454.2,74.3"/>
<polygon points="459.4,75.8 460.1,76.3 460.5,77.9 460,78.9 458.1,79 457.9,77.9 457.9,76.2"/>
<polygon points="463.3,75 463.6,76.2 462.4,78.4 461,77.3 461,74.7 462.2,73.7"/>
<polygon points="463.8,76.8 464.8,76.3 466.2,77.2 465.2,78.9 464,78.2"/>
<polygon points="467.4,77.7 468.2,76.3 471.5,76.7 471.5,78.2 468.6,79.1"/>
<polygon points="473.8,78.2 472.3,79.4 470.7,78.2 470.7,76.1 472.7,75.6 474,76.3"/>
<polygon points="478.6,77.4 477,78.6 475.3,77 476.2,74.6 478,74.8"/>
<polygon points="479.2,78.7 478.4,78.2 478.9,76.9 480.1,76.8 481.1,77.4 480.5,78.8"/>
<polygon points="481.4,77.5 482.6,76.8 483.6,76.8 483.7,77.7 483.7,78.5 482.1,79 481.6,78.3"/>
<polygon points="485.8,77.6 485.3,76.5 486.1,75.6 487.9,75.5 488.6,76.7 488,77.3 486.8,77.8"/>
<polygon points="490.5,74.6 491,75.2 491.2,76.2 490.4,76.7 489.4,76.4 488.9,75.5 489.4,74.5"/>
<polygon points="493.3,78.8 493.6,76.2 494.2,75.3 495.8,76.9 496.2,78.2 494.5,79.5"/>
<polygon points="389.8,78 390.8,77.8 392.1,77.8 392.4,79.6 391.5,81.2 390.7,81.4 389.7,80.6"/>
<polygon points="395,77.4 395.4,78.7 394.9,80.8 393.6,80.4 393.2,79.2 393.5,78.1"/>
<polygon points="401.2,79.1 401.2,80.7 399.9,81.3 398.9,80.4 399.3,79.2"/>
<polygon points="403.2,79.5 403,78.4 405.9,78 406.5,78.5 406.3,79.9 404.2,80.6"/>
<polygon points="407.4,78.6 408.5,78.9 408.2,80.6 406.7,81.4 405.8,80.5 405.6,79.4"/>
<polygon points="411.3,80.8 409.4,80.4 409.3,78.1 411,77.4 412.4,79.4"/>
<polygon points="415.9,80.7 414.9,79.3 415.4,77.8 416.8,77.5 417.5,78.6 417.4,79.9"/>
<polygon points="417,79.4 419.1,79.6 419.5,80.7 417.4,81.6 415.8,81.2 415.3,79.9"/>
<polygon points="421.2,78.1 421.9,79.9 421.5,81 420.5,81.4 419.3,80.1 419.7,78.7"/>
<polygon points="425.5,77.6 425.1,79.5 423.6,79.8 423,78.4 424.2,76.9"/>
<polygon points="426.3,78.5 428.3,77.5 429.5,77.8 430.8,78.6 429.9,79.3 428.7,79.9 426.1,78.9"/>
<polygon points="438.9,80.7 437.3,80.5 436.1,79 438.7,78.2 440.1,79.3"/>
<polygon points="441.5,81.8 442.2,80.3 442.8,79.5 444.2,79.9 444.1,81.4 443.9,83 442.8,83.1"/>
<polygon points="446.6,81 445,79.8 445.5,78.9 447.4,78.1 448.9,80"/>
<polygon points="451.4,81.1 451.7,79.7 452,79.2 453.4,78.8 454,80.9 453.4,81.7 452.3,81.7"/>
<polygon points="458.7,79.4 459.3,80.4 458.3,81.4 457.2,81.2 456.7,80.3 457,79.4 458.2,79.1"/>
<polygon points="462.1,81 461.1,81.2 460.3,80 460.4,78.3 461.4,77.5 462.3,78.4"/>
<polygon points="462.3,80.3 462.7,78.9 464.6,79 465.1,80.2 464.4,80.9 462.8,80.9"/>
<polygon points="467.3,78.2 469,80.2 467.3,81.5 465,80.7 465.4,78.3"/>
<polygon points="468.9,79.5 470.9,78.4 472.4,78.6 472.8,80.9 470.1,81.8 469.1,81.1"/>
<polygon points="475.9,81.1 474.9,81 473.4,80.3 473.4,78.9 473.9,78.2 475.5,77.8 476.2,79.6"/>
<polygon points="478.1,81.4 476.6,80.6 477.2,78.8 478.8,78.1 480.2,78.6 479.8,80.3"/>
<polygon points="481.5,82.1 480,81.1 482,79.9 483.3,80.6 482.9,82"/>
<polygon points="482.5,81.9 482.6,79.7 483.6,78.3 485.1,79 485.8,81.1 484.7,81.9"/>
<polygon points="485.2,80.3 487,79.5 488.8,79.6 489.4,80.9 488.6,81.6 486.3,82.3 485,81.4"/>
<polygon points="490.9,77.7 492.1,77.9 492.5,79.4 491.1,79.7 490.3,79.1"/>
<polygon points="393.1,83.6 395.1,82.7 396.8,83.2 397.2,84.3 396.1,85.1 394.3,84.9"/>
<polygon points="399.3,85 398.2,85.1 397,83.2 398.6,81.7 399.7,83"/>
<polygon points="404.4,82.9 404.7,84.1 403.5,85.4 402.7,85.2 401.6,84.3 401.5,83.3 403,82"/>
<polygon points="404.1,83 404.7,82.5 405.6,82.1 406.2,83.1 406,83.7 405.4,84.2 404.5,84.2"/>
<polygon points="407.7,83.2 407.4,82.3 408.4,80.6 409.4,81.6 410.1,82.4 408.6,83.9"/>
<polygon points="415,83 413.3,84.3 411.5,83.5 411.6,81.3 412,80.5 413.9,80.7 414.8,81.4"/>
<polygon points="415.6,80.6 417.7,80.9 417.2,82.6 415.8,83.3 413.9,82.3 414.8,81.1"/>
<polygon points="421.4,84.2 419.9,83.3 420.3,82.1 421.7,82 422.6,83.4"/>
<polygon points="423.6,86 423.1,84.5 422.8,82.5 424.5,82.2 425.4,82.6 425.8,85.3"/>
<polygon points="428.7,81.9 429,83.1 426.9,84 425.2,82.4 426.7,81.8"/>
<polygon points="430.9,83.8 432.6,83.2 433.7,84.4 431.9,85.4 430.5,84.8"/>
<polygon points="435.6,81.1 436,81.9 435.9,84 435.2,84.9 434.2,84.1 433.3,82.6 434.2,81.1"/>
<polygon points="437.1,83.9 436.2,82.3 437.6,81 439.3,81.9 438.7,84.2"/>
<polygon points="444.7,83.5 443.8,85.6 442.6,85.9 440.4,85.1 440.7,83.7 441.4,82.6 443.3,82.2"/>
<polygon points="446.1,80.6 446.7,81.4 446.5,83.4 445.5,84.4 444,83.4 444.2,81.6"/>
<polygon points="449.8,83.3 450.4,84.3 449.7,85.7 448.3,86.1 448.3,85.1 447.7,83.5 448.6,82.3"/>
<polygon points="453.1,84.2 451.5,84.8 449.7,83.8 449.3,82.8 451.9,82.3 452.9,82.8"/>
<polygon points="455.2,86.3 454.7,84.5 455.4,82.1 456.4,82.1 457.4,83.4 457.2,86 456.5,86"/>
<polygon points="460.7,85.1 459.7,85 458.9,84.2 459.7,82.5 460.1,82.4 461,83.2"/>
<polygon points="461.9,82.9 460.3,83.4 459.3,81.8 460.1,80.7 461.3,80.5 462.3,82.1"/>
<polygon points="467.1,85.6 465.6,85.7 464.9,83.5 465.9,82.2 468.2,82.8 468.8,84.7"/>
<polygon points="471.5,85.1 468.5,85.6 467.9,83.9 469.3,81.8 471.7,83"/>
<polygon points="472.2,84.6 471.4,82.7 472.7,81.7 475.2,82.7 474.8,85"/>
<polygon points="475.4,81.4 477.4,82.9 475.6,84.7 473.6,84.2 473.7,82.2"/>
<polygon points="478.5,82 479.2,80.7 480.5,80.8 481,82.9 479.9,83.5 478.6,83.6"/>
<polygon points="485.1,83.6 483.2,84 482.3,82.9 482.9,81.7 484,80.7 485.8,81.4 485.6,82.8"/>
<polygon points="485.8,81.9 486.6,82.4 486.9,83.8 486.2,85 484.9,85.5 484.4,84.7 484.3,82.7"/>
<polygon points="488.3,80.1 490.1,80.3 491,83.1 490.1,83.8 487.9,83.7 487.5,82.2"/>
<polygon points="492.7,84.2 491.6,83.5 492,81.3 493,80.2 494.1,83"/>
<polygon points="390.1,87.2 389,86 389,83.6 391.7,82.7 392.6,84.8 392,86.2"/>
<polygon points="393.8,83.8 395.3,83.9 395.8,85.4 395.4,87.3 394,87.3 393.9,85.7"/>
<polygon points="397.4,86.4 396.4,86.4 395.3,85.5 395.6,83.9 396.6,82.7 397.7,83.6 398.5,84.8"/>
<polygon points="401,84.3 401.3,86.4 400.8,87.3 399.8,87.6 399.1,86.8 399.4,84.9 400.1,84"/>
<polygon points="403.2,83.8 406.3,84.1 406.9,85.7 404.3,87.9 402.7,85.9"/>
<polygon points="409.7,85.8 409,87.4 408.2,87.7 407.2,85.8 408.1,84.5 409.4,84.3"/>
<polygon points="413.5,84.2 414.2,85.9 413.1,88 411.7,87.6 410.4,87 410.5,84.7 412,84.2"/>
<polygon points="413.5,86 415.4,85.3 416.1,87.1 416.2,88.4 414.4,89.1 413.3,88.9 412.6,86.6"/>
<polygon points="415.8,84 417.7,84.2 419.4,84.8 418.1,87.1 416.4,86.5 415.6,85.1"/>
<polygon points="422,86.4 420.7,86.5 419,85.1 420,83.4 421.4,83 422,83.7"/>
<polygon points="425.5,84.2 425.9,85.1 426.1,86.5 424,86.7 422.9,85.9 423.3,84.4"/>
<polygon points="433.8,87.4 432,87.8 431.6,86.3 432.6,85.3 433.8,86.1"/>
<polygon points="435.3,88.8 435,87.1 435.8,85.5 437.4,85.5 437.5,87.9 436.5,88.9"/>
<polygon points="439.1,85.5 440.2,87.3 438.6,88.6 437.6,87.6 437.6,85.6"/>
<polygon points="444,85.5 445.2,85.8 445.4,86.8 444.8,87.9 442.9,87.4 442.9,86.4"/>
<polygon points="449.8,85.2 449.3,86.7 446.9,87.3 445.9,86.1 446.8,84.8 448.7,84.4"/>
<polygon points="451.2,86.9 450.5,87.9 448.7,87.9 448.7,86.4 449.1,84.7 451.2,84.9"/>
<polygon points="455.3,85.2 454.6,86.3 452.8,87.5 451.8,87 451.2,84.4 452.8,83.8 454.1,83.7"/>
<polygon points="460.3,85.1 459.5,86 458,85.1 458.3,83.9 459.8,83.7"/>
<polygon points="462.2,83.8 464.1,84.2 464.4,85.5 463.3,86.1 462,85.8 461.8,84.8"/>
<polygon points="465.4,85.4 466.7,84.9 467.6,85.8 466.6,87.1 465.8,87.2 464.6,86.5"/>
<polygon points="471.2,86.9 469.5,86.7 468.6,85.9 469,84.8 471.1,84.5 471.7,85.1"/>
<polygon points="475,83.8 475.6,85.4 474.7,87.3 473.2,86.7 473.1,83.8"/>
<polygon points="476.2,84.5 477,83.4 478.6,84 478.2,85.6 476.8,86.2"/>
<polygon points="482.3,88.5 479.8,87.6 480.7,85.1 482.2,85 483.6,87.2"/>
<polygon points="484.4,86.9 485.2,85.7 488.3,85.9 488.3,87.3 486.9,89 484.7,88.7"/>
<polygon points="490.9,87 489.3,87.6 488.2,87.1 488.1,85.9 489.4,84.8 490.6,85.7"/>
<polygon points="492.2,88.7 491.3,87.3 492.7,85.7 493.4,85.4 494.7,86.8 494.2,87.9 492.8,88.7"/>
<polygon points="392.4,91.8 392.2,90.6 392.1,88.7 392.8,88.2 394.2,88.4 394.8,90.1 394.1,91.2"/>
<polygon points="396.7,87.3 397.4,88.5 396.5,89.3 395.4,89.4 394.1,89.3 394.1,87.6 395.6,87.1"/>
<polygon points="404.8,89.8 403.2,90.5 401.3,89.8 402.1,87.9 403.7,87.6"/>
<polygon points="404.9,86 406.2,87.8 405.6,89.9 404.6,89.9 403.3,89.1 403.8,86.9"/>
<polygon points="411.1,90.7 409.3,89.8 409.6,87.5 411.6,87.1 412.7,88.4"/>
<polygon points="411.9,89 412.2,87.6 413.5,87.2 414,88.4 413.8,89.3 412.2,89.7"/>
<polygon points="417.5,88.4 416,89.6 414.7,89.5 414.3,87.6 416,86.1 417.8,87.1"/>
<polygon points="422.7,87.2 423.3,86.1 424.4,86.5 424.8,88.1 423.7,89.3 422.4,88.9"/>
<polygon points="426.3,90.9 426.4,88.8 427.9,88.4 429.5,90.5 428,91.9"/>
<polygon points="428.4,89.4 429.4,87.9 431.4,88.1 432.1,90.4 431,90.8 429.6,91"/>
<polygon points="435.2,87.8 433.9,89.6 432.5,89.8 430.9,88.1 432,86.7 434.7,86.8"/>
<polygon points="439.2,87.8 439.7,89.7 438.8,91.1 438,90.3 437.3,88.8 438.2,87.3"/>
<polygon points="441.3,89.3 439.2,89.3 438,88.6 438.8,86.3 440.3,85.8 441.5,87.8"/>
<polygon points="443.2,87.1 444.8,88 444.7,89.5 443.5,90.4 442.5,90 441.8,89.1"/>
<polygon points="447.5,86.3 449.7,86.8 449.9,88.9 447.5,89.5 446.2,87.3"/>
<polygon points="450.6,89.5 449.4,87.6 450.6,86.4 452.4,86 453.5,88.1 452.6,89.7"/>
<polygon points="456.3,89.7 455.6,92 453.8,91.2 454.3,88.8 455,88.2"/>
<polygon points="459.1,91.1 458.2,92 456.5,91.2 456,89.2 458.4,88 459.6,89"/>
<polygon points="462.9,87.9 463,89 461.6,89.3 459.6,89.3 459.3,88 460,87.6 462.3,87.5"/>
<polygon points="472.1,88.8 470,89.6 468.2,89.4 468.9,88 470.9,87.6"/>
<polygon points="474.1,88 474.3,89.2 472.8,89.7 471.2,88.8 471.9,87.8"/>
<polygon points="476.2,90.6 475.2,89.8 477.6,87.7 478.8,88.9 479.8,90.2 478,91.4"/>
<polygon points="482,89.4 480.7,91 479,90.6 478.6,89.3 479.2,88.5 480.7,88.5"/>
<polygon points="481.9,88.4 483,87.6 484.2,87.8 484.2,89.5 483.6,89.6 481.8,89.1"/>
<polygon points="487.5,90.8 486.8,89.4 488.1,87.9 489,88.5 489.5,89.5 488.2,90.9"/>
<polygon points="489.2,91.4 488.8,89.3 490.3,88.3 491.5,89.3 491.9,90.6 490.3,91.5"/>
<polygon points="494.2,88.9 494.2,90.7 493,91 491.9,90.8 491.3,89.8 492.2,89.1 493,88.6"/>
<polygon points="389.9,89.3 391.6,89.2 392.2,90.4 391.3,92.4 389.1,92.1 388.2,90.8"/>
<polygon points="392.5,91.4 394.4,90.7 395.2,91.6 394.7,92.8 393.9,93 391.8,92"/>
<polygon points="394.9,92.2 396.5,91 399.1,92 397.8,93.5 396.1,94"/>
<polygon points="402.2,93.9 401.5,92.7 401.7,91.9 403.5,91.5 404.6,91.8 404.4,93.2 403.8,93.8"/>
<polygon points="407.1,93.8 407.1,91.5 409,91.2 410.5,92.5 409.6,93.9 408.6,94.5"/>
<polygon points="412.1,90.9 411.8,92.3 410.6,92.7 409.8,92.1 409,91.1 410.4,89.6 411.6,89.6"/>
<polygon points="417.9,93 417.6,93.4 415.9,94.4 415.2,93.4 414.7,91.8 415.9,91.4 417.1,91.4"/>
<polygon points="417.1,92.1 418.9,92.1 419.4,93.3 418.9,94 416.4,94 415.8,92.7"/>
<polygon points="423.1,91 423.3,92.8 421.1,93.1 420.2,92.4 420.9,90.7"/>
<polygon points="425.3,94.5 424.3,93.4 424.2,91.4 426.2,91.2 426.6,92.7"/>
<polygon points="429.3,93.7 427,92.3 427.4,91.1 428.8,89.5 429.7,89 431,91.7 430.8,93"/>
<polygon points="434,92.4 434,93.2 432.2,93.7 431.3,92.4 431.9,91.4 433.5,91.3"/>
<polygon points="434.8,90 437.6,90.6 437.6,91.9 435.2,92.4 433.9,91.5"/>
<polygon points="442.7,94 439.9,94.3 439,92.6 440.2,91.3 442.2,92.2"/>
<polygon points="448.8,93.6 447.5,94.6 446.2,93.8 446.1,92.8 447.9,91.8 448.8,91.9"/>
<polygon points="452.9,90.9 452.2,91.9 451.1,92.5 450.5,92.1 449.9,90.8 450.4,90.2 451.4,89.9"/>
<polygon points="453,90.7 454.3,90.2 455.5,91 455.1,91.8 454.3,92.2 453.1,91.6"/>
<polygon points="456.3,93.5 455.6,91.7 456.7,91.1 457.6,90.6 458.7,91.8 458.2,93.5"/>
<polygon points="462.4,93.2 461.2,93.2 460.3,92.1 460.6,90 461.7,89.8 463.3,91.7"/>
<polygon points="468,92.3 468.6,93.5 466.8,94.8 465.8,94.5 464.6,93.3 466.4,92.4"/>
<polygon points="472.1,94.3 470,94.1 469.5,93.1 470.4,92.2 471.5,91.9 472.2,93.2"/>
<polygon points="475.1,92.3 475.2,94.2 472.9,95.5 472.2,94.2 471.4,92.4 472.6,91.4 473.8,91.4"/>
<polygon points="477.4,92.3 479,91 480,91.4 480.7,92.6 480,94.6 478.8,94.6 477.8,93.7"/>
<polygon points="483.9,92.2 482,93.1 480.6,92.2 481.7,91 483,91.1"/>
<polygon points="485.5,91.1 485.6,92.3 484.3,93.1 483.5,92.1 483.4,90.8 485,90.4"/>
<polygon points="490,92 489.6,93.1 489.1,93.4 488.1,93.2 487.9,91.9 489.2,91"/>
<polygon points="491.1,91.3 492.9,90.8 494.7,92.1 493.7,93.4 491.9,93.5 490.5,92.6"/>
<polygon points="391.1,94.5 391.7,94 394.8,94 394.2,95.6 393,96.4 391.7,96.1"/>
<polygon points="396.8,94.3 397.6,95.3 396.6,96.7 394.3,97.3 393.5,95.3 394.6,93.3"/>
<polygon points="396.9,94.8 397.7,94.9 398.9,95.3 399.2,97.2 398.5,98.6 397.7,98 396.4,97.3"/>
<polygon points="402.2,96.6 401.5,95.9 401.2,93.4 402.4,92.2 403.5,94.3 403.3,96.2"/>
<polygon points="404.6,96.5 403.1,95.8 403.3,94.8 403.9,94.2 405.5,94.2 407.2,94.9 406,95.9"/>
<polygon points="411,98.3 409.6,98 409.5,95.4 410.3,94.1 411.2,95.7"/>
<polygon points="414.5,97.9 412.1,96.9 412.7,94.7 414.6,94.9 415,96.6"/>
<polygon points="413.9,94.1 415.6,93.3 417.7,93.9 418.1,95.2 416.9,96.6 415,96.3"/>
<polygon points="422,96.9 420.3,97.6 419.6,96.4 419.4,94.4 420.6,94 421.5,93.9 422,95.8"/>
<polygon points="421.5,95.9 421.2,95.3 422.6,94.6 424.6,95 424.2,96 423.1,97"/>
<polygon points="427.6,94.8 427.8,95.8 427.7,97.3 426.4,97.9 426.1,96.7 426.6,95"/>
<polygon points="431.4,97.1 430,97 429.7,95.1 430.2,94.5 431.9,94.3 432.4,95.7 432.1,96.5"/>
<polygon points="432.8,94.9 433.1,92.5 433.9,92.5 434.7,93.7 434.8,95.3 433.9,96.8 433,95.9"/>
<polygon points="441.4,94.5 442.5,95 443.8,96.2 442.8,97 441.6,96.9 440.4,95.9"/>
<polygon points="445,95.1 445,97.3 443.7,98 442.3,96.3 442.7,95.5 443.6,94.2"/>
<polygon points="451.6,96.1 451.8,95.3 453.1,94.5 454.4,94.7 454.2,95.6 453.7,96.9 452.8,96.8"/>
<polygon points="453.6,95.9 453.8,94.9 455.5,95 455.9,95.6 455.4,97.1 453.9,96.9"/>
<polygon points="457.4,97.5 457.5,95.3 458.9,94.2 459.9,95.5 459.6,97.9 458.8,98.1"/>
<polygon points="466.9,96.7 465.6,97.5 463.8,95.7 464.9,93.5 467.3,94.7"/>
<polygon points="467.5,93 469.7,92.5 470.5,92.7 471.4,93.6 470,94.8 468.7,95 467.5,94.1"/>
<polygon points="469.5,93.6 471.7,92.8 472.7,93.2 474,94.3 471.5,95.2 470.1,95.3"/>
<polygon points="476.6,93.3 478.3,93.1 479.4,94.1 479,95.2 477.7,95.2 476.6,94.9 475.7,94.1"/>
<polygon points="479.8,93.8 480.7,94.5 479.7,95.4 477.7,95.5 476.6,94.5 476.9,93.1 478.8,92.6"/>
<polygon points="482.2,96.5 482.4,94.6 483.4,94.5 485.6,94.7 486,96 483.5,97.1"/>
<polygon points="486.7,97.2 484.6,97.6 484,95.5 484.8,94.7 487.4,95.8"/>
<polygon points="490.2,94.8 490.1,94.1 491.7,93.8 492.5,94.8 491.9,95.8 490.7,96.2"/>
<polygon points="492.4,95.1 494.2,93.9 495.6,95.6 495.2,96.5 494,97.8 492.6,96.7"/>
<polygon points="391,95.4 392.4,96.3 392.7,98 391.4,99.4 390.2,98 390.1,96.3"/>
<polygon points="395.2,99.1 393.9,100 392.6,99.2 392.2,98 392.8,97.3 393.8,97 394.9,97.7"/>
<polygon points="395.3,99.2 395.3,97.2 396.9,96.4 398.7,97.3 397.9,99.6 396.5,99.8"/>
<polygon points="400.6,97.9 401.4,96.6 403.1,97.2 404,99.9 402,100.2 400.9,100"/>
<polygon points="406.2,95.9 407,96.7 405.9,97.8 405.3,98.1 404,97.4 404,96.6 404.7,96.1"/>
<polygon points="406.9,95.8 408.4,97.2 408.1,99.5 406.9,99.4 406.1,97.5"/>
<polygon points="413.7,97.8 414.3,96.4 416.1,95.8 416.9,97.3 416.1,99.2 414.4,99.5"/>
<polygon points="419.8,99.5 418.5,99 418.4,96.7 419.1,95.8 420.9,96 420.9,99"/>
<polygon points="422.8,100.7 420.3,99.6 421.1,97.3 423.5,96.6 424.4,98.3 424.2,99.6"/>
<polygon points="423.9,97.6 427,97.6 427.7,99.7 425.5,100.2 423.6,99.9"/>
<polygon points="429.2,97.9 429.6,98.5 428.9,100 427.5,100.1 426.2,99.2 427,97.8"/>
<polygon points="431.6,98.6 431.8,97.2 434.3,95.9 435.5,96.6 435.8,99.3 434.2,99.6"/>
<polygon points="435.8,98 437,97.5 438.2,98.1 438.3,99.1 437.3,99.6 435.9,99.2"/>
<polygon points="439.6,100.2 438,100.6 437,99.7 437.5,98.6 438.8,98.4 440.6,99.4"/>
<polygon points="447,97.4 447.6,98.7 446.9,99.6 444.1,99.2 444.8,97.9"/>
<polygon points="453.5,99.6 452.5,98.7 455.3,97.6 456.5,98.5 455.9,99.8"/>
<polygon points="458.7,99.1 458,99.8 455.8,100.2 455.3,99.2 455.2,97.5 457.2,96.9 458.4,97.6"/>
<polygon points="461.6,97.6 460.4,99.1 458.8,98.6 457.7,97.6 458.9,96.2 460.8,96.4"/>
<polygon points="460.7,97.8 463,97.6 464.8,98.2 464.4,99.8 463,99.7 461,98.9"/>
<polygon points="466.1,98.2 467.2,98.2 468.1,99.1 467.2,100.6 466.4,100.6 465.6,99"/>
<polygon points="470.9,99.1 469.9,100.1 469.3,99.4 468.9,98.1 469.8,96.9 470.3,96.3 471,97.9"/>
<polygon points="476.5,99.4 475,98.3 476,97.2 477.9,96.6 479.1,97.9 477.5,99.8"/>
<polygon points="482.7,99.5 480.9,99.7 479.9,98.3 479.7,96.9 481.6,96.6 483.1,98"/>
<polygon points="487.3,98.7 485.6,99.4 483.8,98.2 485.1,97 487.2,97.2"/>
<polygon points="488.9,97 490.2,97.1 491,98.3 489.2,99.5 488.3,98.1"/>
<polygon points="491.6,99.5 491.7,98 493.4,97.6 494.7,98.2 494.7,99.5 493.1,100.5"/>
</g>
<g fill="#fcfbff" filter="url(#bl05)">
<path d="M407.1 29.2Q407.6 30 407.7 31.2Q407.8 32.4 406.3 32.9Q404.8 33.4 403.4 32.9Q402.1 32.5 400.7 31.9Q399.4 31.3 399.7 30.1Q400 28.9 400.8 28Q401.7 27 403.2 27.2Q404.6 27.4 405.6 27.9Q406.6 28.4 407.1 29.2Z"/>
<path d="M400.8 42.5Q400.9 44 400.4 45.1Q399.9 46.1 399.2 46.9Q398.5 47.7 397.3 48Q396.2 48.3 395.8 46.8Q395.4 45.3 395.6 44.1Q395.9 43 396.4 42.1Q396.8 41.3 397.6 41Q398.4 40.7 399.5 40.9Q400.6 41.1 400.8 42.5Z"/>
<path d="M410.4 49.5Q410.8 50 410.4 50.6Q410.1 51.2 409.2 51.4Q408.4 51.6 407.3 51.9Q406.1 52.1 405.7 51.4Q405.3 50.7 405.4 50Q405.6 49.4 406.2 49Q406.8 48.6 407.6 48.6Q408.4 48.5 409.2 48.7Q409.9 48.9 410.4 49.5Z"/>
</g>
</g>
<rect x="391.5" y="20" width="101.4" height="76.4" fill="none" stroke="#6a6478" stroke-width="0.9"/>
<rect x="465.3" y="86.8" width="25.6" height="9" fill="#fbfbfd" opacity="0.92"/>
<line x1="468.3" y1="88.8" x2="490.5" y2="88.8" stroke="#6a6a72" stroke-width="0.8"/>
<text x="479.8" y="94.7" font-size="5.4" fill="#222" text-anchor="middle" stroke="#222" stroke-width="0.15">200 &#956;m</text>
<g clip-path="url(#cBL)">
<rect x="287.4" y="97.6" width="101" height="76.2" fill="#aa8fd3"/>
<rect x="287.4" y="97.6" width="101" height="76.2" filter="url(#wtex)"/>
<g mask="url(#mBL)"><rect x="287.4" y="97.6" width="101" height="76.2" filter="url(#dtex)"/></g>
<g fill="#fbf9fd" filter="url(#bl04)">
<polygon points="285.1,100 283.4,98.9 283.5,97.3 285.6,96.4 287,97.6 286.9,99.4"/>
<ellipse cx="294" cy="98" rx="1" ry="1"/>
<polygon points="298.2,97.7 297,97.1 298.1,95.7 299.8,95.9 299.9,97"/>
<polygon points="311.1,97.2 310,96.7 309.4,95.9 310.3,94.6 312,94.8 313.4,95.3 312.4,97"/>
<polygon points="316.2,94.6 317,93.5 319,94.3 319.1,95.4 318,97.2 316.1,96.5"/>
<polygon points="321,95.9 322.1,95 323.5,95 323.8,96.1 323.1,97.2 321.7,96.7"/>
<polygon points="330.6,97 329.8,98 327.7,97.7 327.6,96.3 329.5,95.7"/>
<polygon points="331.7,95.3 334.4,94.7 336.2,96.4 335.1,98 333.1,97.9"/>
<polygon points="342.4,94.9 342.5,97.2 340.9,97.2 340.1,95.7 341.5,94"/>
<ellipse cx="349.3" cy="97.3" rx="0.9" ry="0.7"/>
<polygon points="355.1,97.7 354.6,98.1 353.5,97.8 353.5,96.6 354.4,95.3 355.5,96.4"/>
<ellipse cx="360.9" cy="97.9" rx="0.6" ry="0.8"/>
<polygon points="367.1,99.5 365,99.5 364.2,97.5 364.9,97 366.5,96 367.8,96.5 368,99"/>
<polygon points="372.6,95.1 374.2,95.1 375.1,96.3 373.8,98.4 372.7,98.4 371.3,95.9"/>
<polygon points="378.2,98.8 376.6,99 375.5,97.7 375.6,95.4 375.9,94.5 378.6,95.1 379.2,96.6"/>
<polygon points="383.2,96.8 384.6,98.4 382.8,99 381.7,98.8 380.7,97.7 381.9,96.6"/>
<polygon points="386.5,98.8 385.6,98.9 384.7,96.8 386.1,94.6 387.1,97"/>
<ellipse cx="332.3" cy="100.6" rx="0.6" ry="0.6"/>
<polygon points="364.3,96.8 365.4,97 367.2,98.8 366.4,101.2 364.7,101.2 363.7,99.4"/>
<polygon points="367.9,97.1 369.6,97.9 368.9,99.8 367.1,100 365.7,99.5 366.8,97.3"/>
<polygon points="371.3,99.7 372,98.1 373.2,97.9 374.1,99.1 373.3,100.6 371.9,100.6"/>
<polygon points="381.7,101.2 381.5,102.5 379.5,102.2 378.5,100.8 379.9,98.9 381,98.9"/>
<polygon points="385,99.9 385,101.9 383.8,103.1 382.8,102.5 382.6,100.4 383.3,98.7"/>
<polygon points="387.7,100.1 389,99.5 390.7,99.4 390.7,100.5 390.2,101.8 388.7,101.9 387.8,101"/>
<polygon points="284.9,102.5 287.3,102.7 287.9,104.3 286,105.7 284.1,104.7"/>
<polygon points="366.6,106.6 363.9,105.9 364,104.2 364.9,103.8 367.6,103.8 367.5,105.8"/>
<polygon points="371.8,104.9 370.4,105.9 369,104.6 369.7,101.7 371.2,102.3"/>
<polygon points="372.6,103.1 371.5,102.2 373.2,100.7 375.1,101.3 375.1,103.3"/>
<polygon points="380,101.6 380.3,103.1 378.6,104.5 376.8,103.1 376.9,101.9 378.7,101"/>
<polygon points="381.5,104.7 382.6,103.7 384.6,104.2 385.7,105 384.5,106.6 383,106.2 382,105.7"/>
<polygon points="384.7,103.8 384.3,102.4 387.1,101.3 388.6,102.8 387.7,104.1"/>
<ellipse cx="355.9" cy="105.9" rx="0.9" ry="1"/>
<polygon points="363.1,107 364.1,104.1 365.7,104.7 366.4,106.4 364.4,108.2"/>
<polygon points="368.1,110.2 367.3,109.3 367.3,107.3 368.2,106.8 369,107.8 368.9,109.6"/>
<polygon points="374,107.6 371.9,106.1 371.9,105 374,104.3 375.6,105.3 375.7,106.5"/>
<polygon points="374.7,109.6 373.1,108.4 374,105.7 376,106.2 376.6,107.9"/>
<polygon points="383.2,105.9 383,107.9 381.1,108.3 379.5,107.4 381.5,105.9"/>
<polygon points="384.6,106.9 386.5,107.1 386.9,108.2 387.1,109.1 385.2,109.5 384.1,108.8 383.8,107.5"/>
<polygon points="391.1,106.4 391.6,108 390.7,109.7 387.7,110.2 386.7,107.9 388.9,106"/>
<polygon points="284.3,112.4 283.7,110.9 284.7,109.9 286.2,110.1 286.7,111.5 286,112.7"/>
<ellipse cx="298.4" cy="109.3" rx="0.8" ry="0.6"/>
<polygon points="359.2,108.8 361.6,108.3 362.7,109 362.3,111.2 361.3,111.8 359,110.3"/>
<polygon points="367.6,108 368.7,108.7 368.9,111.4 367.3,112.5 366.2,110.4 366.9,109"/>
<polygon points="372.7,112.9 371,113.2 368.5,112.2 369.4,111.3 371.9,110.4 372.7,111.9"/>
<polygon points="373.5,107.2 376.6,107 377.7,109 377,110.2 375.6,110.9 373.3,110.1 372.7,108.7"/>
<polygon points="377.4,110.8 376.9,110.1 377.7,109.2 379,109 379.5,110 378.9,110.7"/>
<polygon points="380.6,110.5 380.1,108.7 381.6,107.4 382.9,108.4 383,110.1"/>
<polygon points="386.3,113.2 384.6,113.1 383.7,111.7 384.9,110.4 386.7,110.6 387.6,112.2"/>
<polygon points="361,116.4 360.5,115.3 361,114.4 361.8,113.7 363.2,114.3 363.2,115.6 361.9,116.5"/>
<polygon points="364,114.8 364.4,113.7 366.4,113.7 366.3,115.8 365,116.3"/>
<polygon points="369.8,115.9 370.4,114.1 371.9,115.2 371.9,116.5 370.7,116.6"/>
<polygon points="377.4,116.4 375.9,116.9 374.4,114.7 375.7,112.7 377.5,113.2"/>
<polygon points="381.9,114.9 381.7,116.6 380.3,116.5 379.7,115.8 379.8,114.7 380.7,113.7"/>
<polygon points="382.2,113.5 382.1,112.4 383.9,111.4 385.4,111.5 386,112.8 384.4,114.2"/>
<polygon points="360.3,116.1 361.7,117.7 360.2,119.6 357.9,119.1 357.3,117.9 358.3,115.8"/>
<polygon points="362.2,117.8 361.1,117.2 360.8,115.4 361,113.9 362.9,113.8 363.9,115.4 364.1,116.6"/>
<polygon points="367,113.7 368.3,115.6 367.9,117.7 367.4,119.1 365.9,116.9 365.8,115.8"/>
<polygon points="367.8,119.1 367,117.2 368.2,115.2 370.4,115.8 370.4,117.5"/>
<polygon points="377.6,115.8 378.9,115 380.3,115.8 381,116.4 380,117.6 378.4,117.7 378,117"/>
<polygon points="383.9,118.1 381.3,117.1 380.5,115.5 383.1,113.4 385,114.3 385.6,117.8"/>
<polygon points="382.9,115.7 384,114.1 385.5,113.6 387,115.1 385.6,117.8 384,118.1"/>
<polygon points="360,122.4 359.2,120.1 359.3,119.3 361.7,118.4 362.5,119.8 362,121.3"/>
<polygon points="365.1,121.6 366.4,122.9 364.8,123.7 363.5,123.6 361.9,122.2 363.6,121.3"/>
<polygon points="369.4,122.9 367,123.4 365.4,122.8 365.3,121.2 367.5,120.3 369.6,121.4"/>
<polygon points="371.7,117.7 372.6,121.4 371.1,122.4 369.9,121 369.9,118.6"/>
<polygon points="376.8,122.7 375.7,123.9 375.1,124.2 373.9,123.3 373.9,121.1 375.2,120.6 376.7,121.3"/>
<polygon points="381.3,120.4 382,122.5 380.7,123.8 378.4,123.5 378.9,120.6"/>
<polygon points="385.1,118.6 385.7,120.2 385.9,122 385.1,123.1 383.9,122.3 383.9,120.3"/>
<polygon points="389.1,118.6 390.1,119.2 389.3,120.6 388.1,120.5 388,118.8"/>
<polygon points="287.4,123.7 287,124.7 286.5,125.4 284.4,124.8 284.2,123.6 285.4,122.8 286.5,123.1"/>
<ellipse cx="346.4" cy="124.2" rx="0.7" ry="0.6"/>
<polygon points="359.2,126.4 357.7,127.3 356.8,127.1 355.4,124.9 356,123.6 357.6,123 359.3,124.7"/>
<polygon points="365.8,122.2 364.8,124.6 362.9,124.6 361,123.5 362.5,121.7 364.2,121.1"/>
<polygon points="364.9,122.2 367.1,123.3 366.3,125.5 364.5,125.5 363.3,124"/>
<polygon points="369.1,125.3 370.6,123 372.1,123.8 372,126.3 370.3,127"/>
<polygon points="375.1,123.1 376.7,123.1 376.9,125.9 375.4,127.6 373.3,126.8 373.5,123.9"/>
<polygon points="382.5,123.7 382.9,126 381.5,126.8 380.3,125.5 380.7,123.5"/>
<polygon points="385.7,124.9 384.5,123.2 385.2,122.3 386.5,121.8 387.3,123.4 386.8,124.4"/>
<ellipse cx="355.4" cy="129.2" rx="0.5" ry="0.5"/>
<polygon points="359.7,125.2 360.8,126.1 361.7,127.9 360.4,129 358.7,129.5 357,128.5 357,126"/>
<polygon points="364.8,125.2 365.6,126.4 365.5,127.8 363.5,128.7 362.4,127.8 363.6,126"/>
<polygon points="371.5,127.2 371.1,128.5 369.3,129.1 368.3,127.8 368.7,126.5 370.3,126.3"/>
<polygon points="374.6,127.3 374.3,129.2 372.6,130.4 370.8,129.5 370.4,127.6 372.3,126.1"/>
<polygon points="374.2,126.9 376.4,127.6 376.6,129.2 374.9,129.4 373,128"/>
<polygon points="382.4,126.5 384.7,127.7 385.1,128.7 382.4,130.2 381,129.7 381.2,127.9"/>
<polygon points="388.8,127.8 390.6,127.9 391,129.8 388.5,130.9 386.9,129.5"/>
<ellipse cx="331.2" cy="132.1" rx="0.6" ry="0.6"/>
<polygon points="360.4,130.6 361.8,129.8 363.5,131.2 362.8,132.9 360.5,133.1"/>
<polygon points="366.1,132.5 365.9,133.3 364.6,133.2 363.9,132.4 364.1,131.5 365.1,131.1 366,131.2"/>
<polygon points="370.7,130.5 371,132.4 369.6,134.2 368.8,133 368.8,130.7"/>
<polygon points="371.8,131.1 372,129.7 372.9,128.4 374.1,129 374.3,131.4 372.6,132.5"/>
<polygon points="379.4,133.5 378,132.2 377.7,131.6 378.4,130.5 380.2,130.3 381.5,131.2 381.6,132.3"/>
<polygon points="385.3,131.8 385.1,133 383.5,134.7 382,134.2 381.4,131.8 383.2,130.5"/>
<polygon points="384.1,129.9 385.3,129.2 387.3,129.5 388.2,131.3 386.6,132.3 384.4,131.2"/>
<polygon points="306.6,134.8 309.6,133.7 310.5,135 311.1,137 309.9,137.7 307,137.7"/>
<ellipse cx="312.6" cy="133.6" rx="0.8" ry="0.7"/>
<polygon points="327.4,135.7 327.4,136.7 325.4,138 324,137.9 323,135.8 324.4,134.4 326.4,134.6"/>
<polygon points="368.8,134.7 366.8,134.8 365.5,134 366.5,133.1 368.3,133.4"/>
<polygon points="373,132.4 373.9,132.4 374.9,135 373.9,136.1 372.6,134.4"/>
<polygon points="377.7,134.2 377.4,135.5 375.2,136.2 373.8,135.1 373.5,133.6 375.2,133"/>
<polygon points="386.6,134.1 386.8,135.2 385.6,136.4 384.6,135.8 384.8,133.5 385.3,132.9"/>
<polygon points="385.7,134.5 387.4,132.4 388.6,132.2 390.1,134.5 390.1,136.4 388,136.7 386.9,135.8"/>
<polygon points="284.4,137.3 285.4,135.9 286.7,135.9 288.5,136.5 287.6,138.1 286.2,138.9"/>
<polygon points="291.9,137.6 290.8,139 289.6,137.9 290,136 291.3,135.6"/>
<polygon points="292.6,139.8 291.3,138.6 291.7,137.3 293.9,136.8 296.4,138.3 295.3,139.5"/>
<polygon points="295.9,137.4 296.6,135.5 297.9,136.2 298.6,137.4 298.4,138.6 297.1,140.2 296.2,139.2"/>
<polygon points="300.5,134.8 303.1,134.7 304.8,137.4 302.2,139.1 300.9,139.3 299.7,136.7"/>
<polygon points="308.7,138.8 309,140.5 306.7,140.5 305.6,139.5 307,138.7"/>
<polygon points="311.7,139.2 310.5,140.4 309.1,138.9 309.5,137.1 310.7,136.5 311.7,138.3"/>
<polygon points="316.1,139.2 314.7,140.2 313,138.6 314,136.6 315.7,136.5"/>
<polygon points="315.5,140.5 316,138.4 318,137.3 319,139.3 317.7,141.1"/>
<polygon points="320.2,137.6 321.8,136.5 324.2,137.2 323.5,138.5 322,139.5 320.5,139.1"/>
<polygon points="331.3,138.4 330.4,137.4 330.3,136.3 331.5,136 332.6,136.9 332.3,138.1"/>
<polygon points="334.2,136.7 335.7,136 337.2,136.9 336.6,137.9 335.2,138.5 334.1,138.3"/>
<polygon points="337.3,136.8 339.4,137.1 341.1,137.3 340.9,138.8 338.9,139.1 337,138.8 336.2,137.6"/>
<ellipse cx="379.5" cy="139" rx="1" ry="1"/>
<ellipse cx="387.6" cy="138.8" rx="0.6" ry="0.5"/>
<polygon points="286.9,144 286,142 286.5,140.7 288.6,140.1 289.4,141.4 289.5,144.2 288.7,144.2"/>
<polygon points="294.7,141.8 293.5,142.6 291,142 290.7,140.8 292,139.8 295,140.2"/>
<polygon points="296.4,143.9 294.5,144 293.7,142.5 294.7,141 296.3,141.2 296.9,142.1"/>
<polygon points="302.7,142.9 299.7,143.1 298.4,141.9 300.5,140.2 301.8,140.9"/>
<polygon points="303.3,139.2 304.9,138.8 305.3,140.7 304.2,141.6 303,140.6"/>
<polygon points="309.1,141.4 308.2,143.7 306.6,143 306.8,140.5 308.1,139.4"/>
<polygon points="314.3,141.7 314,143 311.8,143 310.8,142.2 311.1,141.2 313.3,140.3"/>
<polygon points="316.7,139.8 317.2,141.3 314.9,142.5 313.1,141.6 313.3,139.7 314.9,139.2"/>
<polygon points="319.6,142.4 319.4,140.8 321.2,140.4 323.3,140.7 323.7,141.8 321.4,143"/>
<polygon points="321.1,140.4 322.1,138.9 323.5,138.4 325.8,139.8 325,141.7 323.1,141.9"/>
<polygon points="326.5,142.3 326.3,140.2 327.1,139.6 328.1,140.7 328.3,142 327.2,142.9"/>
<polygon points="331.3,141.2 332.2,142.2 331.7,143.9 329.9,144.1 329.9,142.7 330,140.6"/>
<polygon points="338.5,138.9 339.2,140.3 338.8,141.7 337.5,143.3 336.6,142.1 336.1,140.3 337.4,139.1"/>
<polygon points="340.2,142.6 340.2,140 342.1,139.8 344.2,141.2 343.2,142.6 341.2,143"/>
<polygon points="345.2,140.8 344.7,143.3 343.2,143.1 340.7,142 341.1,140.2 343.5,140"/>
<polygon points="284.3,147.3 284.8,145 285.7,144 286.7,144.2 287.3,146.1 286.8,147.3 285.8,147.9"/>
<polygon points="289.3,145.9 289.7,144.1 291.3,144.8 291.9,146.4 291.3,147.3 289.4,147.5"/>
<polygon points="297.2,145.6 295.8,147.6 294.6,146.4 295,144.1 296.6,143.8"/>
<polygon points="300,148.8 297.9,147.8 297.8,146 299.6,144.8 300.6,145 301.5,146.6 300.9,148.4"/>
<polygon points="307.6,145.2 307.3,145.8 305.1,147.1 303.7,146.6 303.3,145.6 304.4,143.9 306.3,143.9"/>
<polygon points="308.7,145.1 310.8,143.5 311.9,144.5 311.9,146.5 311.1,148.3 309.5,147.9 308.1,147.1"/>
<polygon points="314.4,146.9 312,146.4 312.6,144.4 313.5,143.6 315.6,144.1 316.5,145.5"/>
<polygon points="319.2,145.4 318.3,146.9 317.3,146.3 316.7,145.2 317.2,144.3 318.5,144.4"/>
<polygon points="320.3,147.4 320.5,144.8 322.3,145.3 323.3,146.8 322.6,148.4 321.1,148.3"/>
<polygon points="326.4,144.4 328.6,144.5 329.1,144.9 329.3,147.7 328.1,148.1 327.2,147.5 326.3,145.7"/>
<polygon points="333.1,145.8 332.3,147.2 331.2,146.5 330.9,144.6 332,144.2"/>
<polygon points="332,146.5 332.2,145 334.9,144.6 334.8,146.6 333.1,147.5"/>
<polygon points="337.7,148.8 335.9,147.5 335,144.9 336.5,144.4 338.5,144 339.2,146.6"/>
<polygon points="343.6,148.9 341.9,148.7 341.8,147.1 341.9,145.1 343.5,145.1 344,145.6 344,147.9"/>
<polygon points="286.2,147.9 288.4,147.2 290.9,148.1 291.2,149 288.5,149.6 287.1,149.1"/>
<polygon points="289.7,148.7 292.2,148.7 293,151.1 290.8,152.3 289.5,151"/>
<polygon points="297.1,150.4 295.3,150 295.2,147.7 296.8,147.8 298.5,149.1"/>
<polygon points="297.9,151.6 297.3,150.7 297.9,149.1 298.9,148.8 300.1,149.4 300.2,150.5 299.3,151.5"/>
<polygon points="304.8,148.6 305.5,148.3 306.6,147.9 307.2,150 306.5,150.9 305.7,151.2 304.8,150.5"/>
<polygon points="308.5,148.2 309.5,146.2 310.4,145.9 311.1,148.9 310.4,149.8 309.1,149.7"/>
<polygon points="311.7,149.7 313,148.2 314.3,147.6 315.5,149.5 315.1,151.5 314,152.1 313,151.8"/>
<polygon points="317.4,147.6 318.5,148 319.1,149.8 318.3,151.5 316.9,151"/>
<polygon points="318.8,146.9 321.3,147.2 322.2,147.8 320.8,149.3 319.4,149.7 317.9,148.3 317.3,147.3"/>
<polygon points="324,146.5 325.1,145.9 327.1,145.6 328.3,148.3 327,150.3 325.3,150.1 323.6,148.1"/>
<polygon points="329.5,147.8 329.1,149.6 327.2,149.4 327.2,147.7 327.6,146.1 329,146.6"/>
<polygon points="335.3,147.3 334.3,148.5 332,148 331.7,146.8 332.5,146 334.2,146.1"/>
<polygon points="340.8,150 340.5,151.5 339.7,152.1 338.5,150.7 338.7,148.5 339.9,148.5"/>
<polygon points="342.9,146.6 345.5,147.5 343.6,148.6 341.3,148.7 340.5,147.5"/>
<polygon points="286.9,150.5 286.8,152.8 285.9,153.9 284.9,153.5 284.2,151.8 284.7,150.1 285.6,149.5"/>
<polygon points="291,149.3 292.2,149.1 292.9,151.1 292.3,152.7 291.1,153.8 290.6,152.9 290.2,150"/>
<polygon points="296.4,154.2 294.1,153.4 294.1,151 297.2,150 297.6,152.6"/>
<polygon points="300.7,153.2 297.6,153.3 296.5,152.2 297.5,151.4 300.4,151.7 301.6,152.2"/>
<polygon points="298.4,151 299.9,150.2 302.1,150.5 302.5,151.4 301.7,152.3 299,152.2"/>
<polygon points="308.1,152.6 307.3,154.1 305.9,152.2 306.4,149.9 308.2,150.4"/>
<polygon points="311.5,151.8 311.5,153.5 310.8,154.8 308.3,154.5 308.3,152.9 309.1,151.6"/>
<polygon points="312.3,153.8 312.2,151.7 313.2,149.8 314.1,150.4 314.5,152.2 313.5,153.9"/>
<polygon points="319.8,150.4 320.6,150.8 319.8,152.2 318.7,152.9 316.6,152.1 316.8,150.9 317,150.6"/>
<polygon points="324.9,152.8 323.3,154.4 322.1,152.9 323.1,150.4 324.7,151.6"/>
<polygon points="327.3,149.8 328.5,150.7 327.8,153 325.9,153.6 325.1,152.3 325.5,150.3"/>
<polygon points="329.8,154.4 329.7,152.4 330.5,151.8 331.8,151.8 332.2,153.3 331.7,155 330.5,155"/>
<polygon points="334.7,153 334,155.1 332.7,153.8 332.2,152.2 333.8,151.2"/>
<polygon points="339.7,154.7 337.5,154.6 337.2,152.5 339.7,151.7 341.5,153.7"/>
<polygon points="342.2,154.1 341.5,153.4 343.4,152.1 344.5,152.3 345.3,153.5 343.8,154.4"/>
<polygon points="346.3,152.6 346.3,154.9 345.6,156 344.2,154.7 344.2,152 345.2,151.1"/>
<polygon points="285.9,154.9 287.4,154.1 288.7,154.7 289.1,155.2 287.8,156.6 287,156.5 285.9,155.4"/>
<polygon points="292,154.5 292.8,155.1 292.9,155.8 291.5,156.5 290.3,155.5 290.6,154.8"/>
<polygon points="295.5,156.5 295.2,155 296.7,154.7 298.4,154.8 298.9,156.7 296.6,157.5"/>
<polygon points="301,156.7 300.2,155.6 300.4,154.2 302.4,154.5 302.2,156.1"/>
<polygon points="309,152.9 311.1,153.1 311,154.7 309.9,157.2 308.8,156.8 307.3,154.5"/>
<polygon points="312.6,157 311.1,156.4 312,155 313.6,155.2 314.6,156.2"/>
<polygon points="318,157.4 317.3,157.8 315.9,157.6 315.8,155.8 316.7,155.6 318,155.8"/>
<polygon points="321.8,153.4 323.7,156.4 321.3,158.5 319.5,156.3 319.1,154.6"/>
<polygon points="322.7,154.6 323.6,154.1 325.1,154.4 325.8,156.3 324.5,157.8 322.9,157.4"/>
<polygon points="325.9,155.3 326.9,154.8 328.3,153.6 329.8,155.9 329.1,156.8 327.6,157.5"/>
<polygon points="333,155.2 332.1,155.6 330.2,155.3 329.9,154.4 330.7,153.9 332.6,153.6 333.4,153.9"/>
<polygon points="334.2,154.6 335,153.7 336.8,153.6 337.9,154.6 338.2,155.5 335.7,155.9 333.9,155.4"/>
<polygon points="341,154 341.7,155.4 341.5,157.7 340.2,158.9 339.7,157.9 339.4,155.3 340,153.8"/>
<polygon points="342.1,155.6 342.1,153.3 343.6,153.5 344.7,155.1 343.5,155.7"/>
<polygon points="351.5,155.9 350.4,157.6 349.2,158 348.4,156.5 349.2,155.2 350.7,155.2"/>
<polygon points="285.1,158.2 285.2,156.5 286.7,156.2 287.5,158 287.3,159.8 285.9,160.5"/>
<polygon points="288.8,161.3 287,159.4 287.2,157.4 288.6,156.4 290.2,156.8 291.5,158.3 291.4,160.5"/>
<polygon points="296.8,160.8 295.7,161.2 293.6,160.8 293.8,159.5 295.2,158.5 296.9,159.7"/>
<polygon points="298.7,158.9 299.6,160.9 297.9,162.5 295.9,161.6 296.5,159.1"/>
<polygon points="304,157.9 302.9,159.6 300.6,159.2 299.3,157.5 300.7,156.1 303.4,156.6"/>
<polygon points="307.7,158.7 307.9,159.8 307.1,161.1 306.1,160.6 305.9,158.8 306.9,158.2"/>
<polygon points="314.3,156.8 316.5,156.7 317.2,158.3 316.4,158.7 313.3,158.6 313.7,157.8"/>
<polygon points="319,158.8 320.6,159.7 320.5,160.9 317.7,160.9 316,160.5 316.9,159.4"/>
<polygon points="322.1,158.7 325.6,158.9 325.8,160 323,160.9 321.9,160.1"/>
<polygon points="328.3,160.8 325.8,160.6 325.2,159.6 326,158 327,158.1 329.1,159.3"/>
<polygon points="332.3,161.2 329.7,162.6 328.9,161.8 328.1,159.1 329.7,158.7 332,158.9"/>
<polygon points="335.6,158.8 335.4,160.6 334.3,161.4 333.4,160.3 333.3,159.1 334.7,158.3"/>
<polygon points="340.2,158.9 340.6,160.6 339.4,162.2 337.9,162.2 337.7,159 338.6,157.8"/>
<polygon points="343.8,158.2 344.5,160.9 342.7,162.5 340.3,161.1 340.8,159.4 342,157.1"/>
<polygon points="352.3,156.4 352.9,158.8 352.3,160.5 351.1,160 350.5,157.7 351.6,156.4"/>
<polygon points="352.4,160.3 352.5,158.5 353.1,157.3 354.6,158 355.1,159.8 353.6,160.7"/>
<polygon points="289.5,164.5 287.3,165.3 285.8,164.5 285.9,162.7 287.7,161.9 289.3,162.5"/>
<polygon points="294.6,159.6 295.2,161.9 295.1,163 292.9,163.8 290.4,162.3 291,159.9 292.3,159.2"/>
<polygon points="293.1,161.3 294.8,160.4 296.9,161.2 297.3,162.3 295.6,162.4 293.5,162.2"/>
<polygon points="304.9,163.9 302.1,164 301.5,162.1 304.4,160.8 306.1,162.2"/>
<polygon points="307.8,162.5 308.6,161.1 310,161.2 310.8,161.9 310.9,163.7 309.6,164.6 308.7,164.3"/>
<polygon points="312.3,163.3 313.2,162.3 314.2,163.1 314.2,164.1 314,165 312.4,165.1 311.8,164.4"/>
<polygon points="317.7,162.1 317.2,164.3 316.2,165 314.7,164.4 314.3,161.8 315.9,161.3"/>
<polygon points="321.4,164.4 320.6,163.5 323.1,162.1 325,162.7 325,164 324.1,164.8"/>
<polygon points="335.1,160.4 334.3,163.1 332.9,163.1 332.4,161.6 332.7,160.1 334,158.9"/>
<polygon points="335.4,164.9 336,162.2 337.6,162.1 338.6,165.2 337.4,165.8"/>
<polygon points="339.5,163.5 339.8,161.4 341.1,161.5 341.5,163.4 340.7,163.9"/>
<polygon points="345.9,159.4 346.9,159.6 346.6,162.6 344.7,163.7 343.4,161.7 343.8,158.9"/>
<polygon points="349.5,163.4 348.9,165 347.9,164.9 347.1,164.8 346.4,163.5 347.6,162.6 348.2,162.6"/>
<polygon points="354.1,163.1 354,164.9 352.5,165.7 351.1,166.1 350.2,163.8 350.7,162.5 352.8,161.8"/>
<polygon points="286.8,167.7 284.1,169 282.6,167.3 284.3,165.7 286,165.7"/>
<polygon points="290.9,164 291.9,165.7 290.6,168.1 289.3,168.2 287.7,165.5 289.2,163.9"/>
<polygon points="295.7,167 295.8,165.4 296.5,163.8 298.9,163.8 300,166.1 299,167.3"/>
<polygon points="303.3,168.7 302,168 302.2,166.8 303.3,166.1 304.8,167.5 304.9,168.1"/>
<polygon points="307.5,163.8 308.6,164.6 308.8,165.8 307.3,167.1 306.3,167 305.8,165.7 305.8,164.5"/>
<polygon points="309.1,163.9 310.8,162.9 312.2,164.9 311.1,166.2 309.9,166.8 308.7,165.1"/>
<polygon points="312.9,166.9 312.9,165.9 314.4,164.4 316.9,165.1 317.9,165.9 315.7,167.3"/>
<polygon points="318.6,165 318.9,166.7 318.1,166.8 316.6,166.6 316.6,165.3 317.9,164.7"/>
<polygon points="323.8,167.9 322.6,168.4 321.7,167.6 321.7,166.2 323,165.2 323.9,165.9"/>
<polygon points="325.8,165.1 327.7,165.3 327,167.8 325.7,168.7 323.5,167.7 323.9,166.1"/>
<polygon points="330.2,166.9 328.5,165.6 329,163.7 330.5,163.3 332.2,164.9 331.5,166.6"/>
<polygon points="333.1,169.7 331.6,167.7 332.7,166.6 334,165.6 335.7,166.2 336.2,167.1 335.1,169.8"/>
<polygon points="339.3,168.7 337.9,168 337.3,165.5 340,165.2 341.6,166.7"/>
<polygon points="344.2,165.2 344.5,166.3 343.7,167.2 341.4,166.8 340.7,166.2 342,165.4"/>
<polygon points="348.9,169.7 347.3,169.4 346.5,168.8 345.6,166.8 346.7,165.6 349.3,165.7 350.3,168"/>
<polygon points="347.2,167.7 347.7,166.7 349.9,166.4 350.7,167.8 349.5,168.5 347.9,168.8"/>
<polygon points="355.3,163.4 355.5,164.7 354.7,166.2 352.2,165.7 351.9,164.6 352.5,163.5"/>
<polygon points="287.3,169.3 286.8,168.2 287.1,167.2 289,167.1 289.4,168.3 289,169.3"/>
<polygon points="296.4,170.3 294.3,169 295.5,167.7 297.1,167.4 299,168.9 297.7,170.2"/>
<polygon points="302.5,169.8 302.3,173.2 300.8,173.3 300.3,170.9 301.4,169"/>
<polygon points="305.6,168 304.7,170.7 303,170.5 302.2,168.2 303.1,166.9 305.1,167"/>
<polygon points="306.7,172.2 306.2,169.9 306.5,168.1 308.8,167.8 309.8,170.3 309,171.9"/>
<polygon points="311.3,167.4 312.2,168.1 312.3,170.9 310.5,171.5 309.7,169.7 309.7,167.8"/>
<polygon points="318.6,169.4 319.6,170.5 318.9,171.7 316.8,171.5 316.3,169.9"/>
<polygon points="318.2,168.2 319.4,167.7 320.2,168.2 319.9,170.3 318.8,171.1"/>
<polygon points="321.1,169.3 321.2,168.4 322.2,167.1 323.6,167.5 324.3,169 323.8,169.7 323,170.2"/>
<polygon points="330.7,171.6 329,172.5 328.7,171.7 328.7,169.7 329.4,167.8 330.6,168.7 331,170.6"/>
<polygon points="337.1,170.6 336.6,171.6 334.1,171.3 333.1,170.8 334.3,169.4 335.8,169.1"/>
<polygon points="347.5,168.9 348.2,168 349.9,168.4 350.8,169.7 348.8,170.9 347.9,170.8"/>
<polygon points="350.4,169.1 350.5,167.4 351.2,166.2 352,166.9 352.5,167.8 352.2,169.6 351.3,169.8"/>
<ellipse cx="364.7" cy="170" rx="0.7" ry="0.7"/>
<polygon points="287.2,171.6 287,173.6 285.5,174.9 284.8,172.2 285.9,170"/>
<polygon points="291.8,172.6 291.9,174.1 290.7,175 288.5,174.4 288.8,172.9 290.9,171.9"/>
<polygon points="295.4,171.3 296,171.9 296.3,173.3 294.6,174.1 293.4,173 292.5,171.7 294,170.8"/>
<polygon points="297.7,174.7 296.5,174 296.9,172.5 297.8,170.9 299.1,171.6 298.8,173.8"/>
<polygon points="304.9,174.4 307.5,173.5 308.9,174.1 309.2,175.7 307,176 305.1,175"/>
<polygon points="310.2,172 309.8,173.7 308.2,173.9 307.6,172.6 308.5,170.6 309.7,171"/>
<polygon points="311.6,175.1 311.2,173.7 312.1,172.7 313.7,172.4 316,173.9 315.1,175.1 314,175.5"/>
<polygon points="316.5,175.3 315.6,174.1 316.7,173 319.3,174.1 318.7,175"/>
<polygon points="321.7,171.2 323,169.9 324,170.4 324.5,172.8 323.5,173.5 322.2,172.8"/>
<polygon points="326.2,171.7 327.3,170.6 328.4,172.6 327.1,173.8 326.2,173.1"/>
<polygon points="330.2,173.1 331.8,173.5 331.6,176.1 330.2,176.1 329.4,173.7"/>
<polygon points="334.4,176.7 332.1,175.7 332.5,173.7 334.8,173.2 336.4,174 336,176.1"/>
<polygon points="338.4,174.4 337,174.9 336.2,172.9 337.6,171.9 339.1,172.3"/>
<polygon points="342,172.8 344,172.8 345.3,173.1 344.8,175.6 343.5,177 341.9,176.3 341.4,174.8"/>
<polygon points="346.6,172.1 348.2,172.3 347.9,175.2 346.5,176.2 345.8,175.2 345.7,173.3"/>
<polygon points="350.8,173.5 350,170.9 351.1,169.9 353.6,170.9 353.5,172.9 352.7,173.5"/>
<polygon points="354.3,172.8 355.3,171.9 357.5,172.5 357.4,174.4 356.2,176.7 354.5,175.2"/>
</g>
<g fill="#fcfbff" filter="url(#bl05)">
<path d="M310.9 111.9Q311.6 114.5 310 116.4Q308.4 118.2 306.7 119Q304.9 119.8 302.7 120.2Q300.5 120.5 299.4 118.6Q298.2 116.6 297 114.1Q295.8 111.5 298.5 110.5Q301.2 109.6 303.2 108.5Q305.2 107.5 307.7 108.4Q310.1 109.4 310.9 111.9Z"/>
<path d="M329.5 109.6Q329.7 112.5 329.7 115.5Q329.6 118.5 326.7 119.2Q323.8 119.8 321.5 119Q319.2 118.2 317.5 116.6Q315.8 115 316.4 112.7Q317.1 110.5 318 108.4Q318.9 106.3 321.3 106.2Q323.6 106 326.5 106.4Q329.4 106.7 329.5 109.6Z"/>
<path d="M323.8 124.9Q324.5 125.5 324 126.3Q323.5 127 322.7 127.2Q321.8 127.3 321.1 127.3Q320.4 127.3 319.9 126.8Q319.4 126.2 319.4 125.5Q319.4 124.8 319.9 124.2Q320.4 123.7 321.2 123.2Q322 122.7 322.6 123.5Q323.1 124.2 323.8 124.9Z"/>
<path d="M363.2 116.2Q363 118 363.3 120Q363.7 121.9 362 122.5Q360.3 123.1 358.5 123.2Q356.7 123.4 356.1 121.5Q355.5 119.6 355 117.8Q354.4 115.9 355.8 114.6Q357.1 113.3 358.7 112.8Q360.4 112.4 361.9 113.4Q363.4 114.4 363.2 116.2Z"/>
<path d="M387.8 157.2Q388 159 387.2 160.3Q386.4 161.6 385.5 162.4Q384.6 163.2 383.1 163.7Q381.6 164.1 380.6 162.6Q379.5 161.1 379.5 159Q379.4 156.9 380.8 156Q382.2 155 383.5 154.4Q384.7 153.7 386.1 154.5Q387.5 155.3 387.8 157.2Z"/>
<path d="M351.5 100.5Q352.2 101 351.9 101.7Q351.7 102.5 350.6 102.7Q349.5 103 348.5 102.9Q347.4 102.9 346.7 102.3Q345.9 101.7 346.2 101.1Q346.5 100.4 346.8 99.6Q347.2 98.9 348.4 98.7Q349.6 98.6 350.2 99.3Q350.8 100 351.5 100.5Z"/>
<path d="M375.7 105.2Q376.7 106 376.3 107.2Q375.8 108.4 374.7 108.8Q373.6 109.2 372.7 108.6Q371.8 108 370.7 107.6Q369.6 107.2 370.2 106.2Q370.7 105.2 370.9 104Q371.1 102.8 372.4 102.8Q373.6 102.8 374.2 103.6Q374.8 104.5 375.7 105.2Z"/>
<path d="M346.1 155Q346.5 156 346.5 157.4Q346.5 158.7 345.5 159.4Q344.5 160.1 343.4 160Q342.3 159.9 341.4 158.8Q340.6 157.7 341.1 156.2Q341.6 154.8 342.2 154.1Q342.9 153.4 343.8 152.3Q344.6 151.2 345.2 152.6Q345.7 154.1 346.1 155Z"/>
</g>
</g>
<rect x="287.4" y="97.6" width="101" height="76.2" fill="none" stroke="#6a6478" stroke-width="0.9"/>
<rect x="360.8" y="164.2" width="25.6" height="9" fill="#fbfbfd" opacity="0.92"/>
<line x1="363.8" y1="166.2" x2="386" y2="166.2" stroke="#6a6a72" stroke-width="0.8"/>
<text x="375.3" y="172.1" font-size="5.4" fill="#222" text-anchor="middle" stroke="#222" stroke-width="0.15">200 &#956;m</text>
<g clip-path="url(#cBR)">
<rect x="391.5" y="97.6" width="101.4" height="76.2" fill="#ad93d5"/>
<rect x="391.5" y="97.6" width="101.4" height="76.2" filter="url(#wtex)"/>
<g mask="url(#mBR)"><rect x="391.5" y="97.6" width="101.4" height="76.2" filter="url(#dtex)"/></g>
<g fill="#fbf9fd" filter="url(#bl04)">
<polygon points="391,94.1 393.7,94.7 393.9,96 392.4,97.2 391.4,96.6 390.4,94.8"/>
<polygon points="399,96.1 398.1,98 395.8,99 393.8,97.5 394.5,94.4 396.7,94.3"/>
<polygon points="397.8,99.5 396.8,98.8 396.4,97.6 397.3,94.7 398.7,95.4 398.8,97.9"/>
<polygon points="402.1,99.9 399.8,98.3 400.9,97.5 402.2,96.2 404.6,97 405.2,98.8 404,99.7"/>
<polygon points="407.9,95.7 406.6,96.7 404.2,96.5 404.9,93.3 406.8,93.3"/>
<polygon points="413.8,98.9 411.4,98.9 411,97.5 412.2,96.5 415.4,96.4 415,97.5"/>
<polygon points="414.7,96.6 416.6,95.1 417.8,96 417.7,97.8 415.5,98.1"/>
<ellipse cx="424" cy="98.1" rx="0.9" ry="0.7"/>
<polygon points="427.1,93.7 428.8,94.4 429,95.7 428.3,97.1 426.2,97.1 426.3,94.7"/>
<polygon points="433.5,99 433,97.5 432.6,95 433.7,93.4 434.9,94 435.6,96.3 434.6,98.6"/>
<polygon points="439.4,97.8 437.2,98.1 435.9,97.2 435.5,95.9 438.1,95.4 439.9,95.7 440.5,97.3"/>
<polygon points="441.6,97.5 439.6,97.3 438.8,96.5 439.7,95.2 441.6,95.5 442.2,96.5"/>
<polygon points="445.9,96.6 446.6,94.4 447.8,94 450,95 449,97 447.1,97.5"/>
<polygon points="450.6,99.7 450,97.9 451.8,96.1 453.4,96.1 454.1,99.1 452.4,100"/>
<polygon points="454.1,96.7 456.7,96.6 457.9,97.4 456.6,99.1 453.4,99.3 452.4,97.7"/>
<polygon points="461.9,97.4 460.6,98.8 459.7,99.5 458.5,97.6 459.2,95.7 460.9,96.1"/>
<polygon points="464,96.1 463.1,97.4 461,97.1 460.1,96 460.6,94.7 462.7,94.6"/>
<polygon points="469.4,97.8 468.5,98.8 466.3,98.2 466.4,96.9 468.2,95 469.5,95.8"/>
<polygon points="468.9,96.7 471.8,96.2 473.9,97.5 473,99 470.3,98.5"/>
<polygon points="478.2,96.4 476.7,98.1 474.1,96.7 475.7,93.5 477.2,93.5"/>
<polygon points="484.9,95 486.3,93.2 488.2,93.9 487.7,96.5 486,96.7"/>
<polygon points="490.5,99.2 487.9,98.2 487.6,96.5 489.4,95.3 492.3,95.6 492,97.5"/>
<polygon points="491.2,98.6 489.9,97.2 490.6,94.1 492.9,93.7 494.4,95.6 493.9,98.5"/>
<polygon points="393.1,100.1 395.1,99.9 395.7,102.1 394.9,102.4 393.4,102.8 392.6,101.1"/>
<polygon points="394.5,101.6 395.2,100.4 396.5,99.6 399.1,100.7 398.7,101.7 396.4,102.5"/>
<polygon points="407.7,103.1 405.6,102.5 405.3,100.2 406.5,99.2 408.2,100 408.6,101.2"/>
<polygon points="415.5,97.8 415,101 414,102.2 412.4,100.8 412.7,98.1 413.8,96.8"/>
<polygon points="446.3,99.9 446.5,98.5 448.1,98.5 449.7,99.2 449,100.9 447.5,100.9"/>
<polygon points="454.5,102.9 453,103.2 451.7,101.8 452.4,100.1 453.9,100.4 455.6,101.6"/>
<polygon points="457.6,98 458.1,99.8 457,100.7 454.9,100.6 454,98.6 456,97"/>
<polygon points="462.3,98.3 464.2,98.5 464.3,101.9 462,103.5 461.2,101.6 461.1,99.2"/>
<polygon points="468.9,100.5 470.6,99.3 473.4,99.9 473.5,102.7 470.9,103.9 468.9,102.3"/>
<polygon points="473.6,95.5 475.6,97.2 475.2,100.4 474,100.7 472.8,100 472.6,96.7"/>
<polygon points="477.2,101.6 476.2,100.4 475.9,98.8 477.7,97.7 478.3,98.9 478.8,100.5"/>
<polygon points="483.9,98.9 482,101 480,100.8 479.7,98.5 480.9,97.2 482.7,97.3"/>
<polygon points="388.5,105.6 386.9,103 388.4,102.1 391.1,102.7 392.9,105.1 390.8,105.9"/>
<polygon points="394.6,102.3 395.9,102.5 396.3,104.7 395.8,107.1 394.3,106.4 393.7,104.1"/>
<polygon points="398.4,103.3 399.3,104.8 398.2,107.5 397,106.9 396,104.3 396.8,102.9"/>
<polygon points="402.1,102.5 403.6,101.6 404.5,102.1 404.3,105.3 403,105.1"/>
<polygon points="410.2,104 408.9,105.4 406.5,104.8 406.5,103 408.9,102.8"/>
<polygon points="409.1,106.2 409.5,104.4 412.4,103.9 413.3,105 411.9,106.4"/>
<polygon points="413,104.2 414.1,101.5 416,101 417.2,102.8 415.7,105.2"/>
<ellipse cx="425.3" cy="103.7" rx="1" ry="0.9"/>
<ellipse cx="439.3" cy="103.3" rx="0.7" ry="0.9"/>
<polygon points="450.8,104 451.6,105.4 450.9,107.3 448.5,107.6 446.9,106 448.1,104.1"/>
<polygon points="455.8,107.7 453.9,106.5 454,103.7 454.5,102.1 456.2,101.4 457.2,104 457,105.6"/>
<polygon points="455.6,105.5 455.6,102.1 457.8,101.5 460.5,103.2 459.7,106.7 457.5,106.9"/>
<polygon points="463.7,102.2 466.1,103.9 464.6,106.9 461.7,106.3 461.9,104.1"/>
<polygon points="466.5,106 463.9,105.6 464.1,103.9 465.7,102.4 467.1,102.7 469.1,104.2 468.4,105.6"/>
<polygon points="481.5,106.2 478.3,104.3 478.8,103.2 482.2,102.8 483.7,105.1"/>
<polygon points="493.7,104.3 492.5,103.4 491.9,102.6 493.4,101.4 494.1,101.8 494.5,103.6"/>
<polygon points="390.9,107.2 390.7,105.9 392.5,105.1 395.1,106.1 394.8,107.5 393.5,108.5"/>
<polygon points="396,110.1 394.1,108.9 393.7,107.4 394.7,105.5 396.8,105.6 397.4,108.2"/>
<polygon points="398.3,109.5 399.1,107.3 400.8,106.9 402.8,108.1 402.8,109 401.5,111.3 399.1,111.2"/>
<polygon points="414.6,105.6 415.2,106.6 414,107.9 412.7,107.1 412.6,106.5 413.1,105.2"/>
<polygon points="453.1,109 452.4,107.9 452.5,106.4 453,105.7 454.9,105.9 455,107.5 455,108.4"/>
<polygon points="454.7,105.8 455.2,103.8 458.3,105.4 457.2,108.7 455,108.5"/>
<polygon points="461.9,109.2 461.3,108.8 460.3,106.5 461.7,105.8 465,105.8 465.2,107.1 464.8,109.1"/>
<polygon points="467.2,108 463.6,107.6 463.6,105.4 465.8,105.1 468.3,106.6"/>
<polygon points="472.2,109.8 470.6,110.1 470.1,108.5 471.5,107.2 472.3,107.3 472.7,108.9"/>
<polygon points="476,108.6 473.2,108.9 472.9,107.1 474.3,105.9 476.3,105.6 478,107.7"/>
<polygon points="476.1,108.3 477.2,106 478.7,106.4 479.6,108.4 478.4,110.3 477.2,110.3"/>
<ellipse cx="488.5" cy="107.2" rx="0.9" ry="0.8"/>
<polygon points="388.5,111.1 390.5,110 392.6,111.8 392.2,114.1 389.8,115.3 388.2,114.1"/>
<polygon points="393,111.6 391.5,111.3 391.9,108.2 392.9,107.2 396.2,108.1 397.4,109.4 396.1,112.1"/>
<polygon points="401.5,112.3 399.4,113.4 397.8,112.1 396.1,110.3 397.6,108.5 400.5,108.8 401.3,109.7"/>
<polygon points="403.1,112.8 401.7,111.9 401.1,109.8 402.8,109.7 404.4,110 404.6,112.1"/>
<polygon points="406.9,108.5 410.4,109.2 411,110.3 409.1,111.1 406.1,110.8 405.5,109.7"/>
<polygon points="411.2,110.4 413.4,112 412.8,113.9 410.1,114.6 409,113.4 408.1,111.1"/>
<ellipse cx="422.1" cy="110.4" rx="0.9" ry="1.1"/>
<polygon points="446.4,112.9 443.3,112.2 443.2,110.7 446.6,110.2 447.6,111.5"/>
<polygon points="447.1,111.6 446.8,110.3 449.6,109.1 451.1,109.9 452,111 449.8,112.5"/>
<polygon points="455.1,108.9 455.7,110.8 455.3,111.5 453.6,111.3 452.8,109.5 454.2,108.9"/>
<polygon points="459.7,109.5 459.2,112.8 456.5,113.2 455.7,111.3 455.9,108.8 458.7,109"/>
<polygon points="466.2,113.2 463.6,113.6 461.8,112.6 462.1,111.2 464.5,111.3 466.7,112"/>
<polygon points="470,112.6 468.4,114.2 466.6,113.4 465.7,111.8 466.6,110.4 467.4,109.8 469.4,111.2"/>
<polygon points="474.1,113.1 473.2,114.7 472.1,115.1 469.6,114.1 470.8,111.6 472.9,110.4"/>
<polygon points="478.9,111.2 479.9,113.2 478.1,115 476.6,114.8 475.5,113.5 477.4,111.3"/>
<polygon points="482.5,114.2 482.2,113.1 483.3,111.6 485.2,111.8 485.8,113.4 485.4,114.3"/>
<polygon points="492.3,109.8 491.9,111 491.1,111.3 489.2,111.2 489,110.8 489.3,109.5 490.4,109.1"/>
<polygon points="496.2,112.2 494.1,113.1 492.1,112.5 491.7,110.8 492.4,109.2 494.5,108.7 496.3,110.7"/>
<polygon points="392.8,116.6 391.5,118.6 390.2,117.2 389.6,116.1 390.9,113.7 392.2,113.9"/>
<polygon points="398.1,112.4 399.6,113.9 399.4,116.1 397.7,116.3 396.7,113.5"/>
<polygon points="404.2,116.3 401.3,115.4 400.8,114 402.5,110.6 405.1,112 405.6,114.8"/>
<polygon points="407.4,112 407.2,114.9 405.5,116.6 402.9,113.7 403.6,111.4"/>
<polygon points="411.2,114.5 413.4,115.6 412.2,117.1 409.5,117 409,116.1 409.4,115"/>
<ellipse cx="426.2" cy="115.8" rx="0.6" ry="0.8"/>
<polygon points="447.9,119 446.6,117.4 447.2,115.1 449,114.2 450.6,116.6 450.3,118.2"/>
<polygon points="450.5,115 450,113.3 453.7,112.9 455.3,114.3 452.6,116.4"/>
<polygon points="458.7,116.2 456.5,119.3 454.1,117.2 454.2,115 457.4,114.1"/>
<polygon points="459.5,116 459.8,114.2 461.5,112.9 464.6,114.4 464.8,115.9 462.7,117.3"/>
<polygon points="471.5,114.6 470.8,115.8 468.3,115.6 468.6,112.6 470.8,112.4"/>
<polygon points="477.5,115.1 477,116.8 476.3,116.8 474.9,116.6 474.4,115 475.2,113.2 476,113.1"/>
<polygon points="477.9,113.8 479.4,114.6 480.4,116.7 478.6,119.1 476.6,118.5 476.6,114.9"/>
<polygon points="481.7,117.9 479.9,117.9 479.2,115.7 480.6,114.9 482.5,115.4 482.8,116.8"/>
<polygon points="484.7,117.4 483.9,115.2 486.6,114.7 487.6,116.3 486.8,117.4"/>
<polygon points="488.3,114 489.7,112.4 491.5,112.4 492,115.3 490.9,116.6 488.9,115.8"/>
<polygon points="388.1,117.9 390,117.9 391.8,118.9 391,120.1 388.6,120.4 386.9,119.7 386.3,118.7"/>
<polygon points="396.1,121.1 394.2,122.1 393,121.7 392.4,121 393,119.2 394.5,118.7 395.6,119.2"/>
<polygon points="398.4,117 401.2,117.2 402.3,118.6 402.1,119.4 399.9,119.9 398.4,119.1"/>
<polygon points="404.5,117.8 404,119.3 402.5,120 400.6,118.7 401.6,116.3 403.1,116.3"/>
<polygon points="409.1,118.4 406.1,118.6 405.1,117.4 406.6,116.1 408.2,116.5 410.3,117.6"/>
<polygon points="410.6,116.2 412.2,116.9 412.8,118.4 410.9,120.1 410,119.5 409.5,117"/>
<polygon points="414.7,120.9 415,119.2 416.4,117.7 417.6,119.1 418.2,121.9 416,122.8"/>
<ellipse cx="435.1" cy="120.1" rx="0.9" ry="1.2"/>
<polygon points="445.2,119.7 443,120.9 441,119.3 442.7,116.3 445.1,117.2"/>
<polygon points="447.1,123.4 445.5,121.8 445.5,120.2 446.3,118.2 448.3,118.4 448.4,121"/>
<polygon points="448.8,117.5 451.1,117.4 452.6,118.4 450,119.8 448,119.7 447.2,118.1"/>
<polygon points="455.2,122.1 455,120.3 456.3,118.4 457.1,118.5 457.9,120.7 456.9,122.3"/>
<polygon points="458.6,118.2 459.6,117.2 461.8,118.5 462.4,120 461.4,122.6 459.2,122 458.4,121.5"/>
<polygon points="463.6,118.1 465.5,118.4 466,120.2 465.2,120.6 463.1,120.9 462.2,119.6"/>
<polygon points="464.5,117.3 467,116.9 468.9,118.1 468.6,119.3 466.1,119.9 463.7,118.5"/>
<polygon points="473.6,119.6 473.9,121.3 472.3,121.7 470.6,122 469.2,119.9 470.7,118.8 472.6,118.1"/>
<polygon points="478.6,118.3 477.8,120.3 476.5,118.4 476.4,115.7 477.6,115.6 479.1,116.2"/>
<polygon points="480.5,121.1 478.8,120.2 478.4,118.1 480.7,117.5 482.6,118.9 482.4,121.4"/>
<polygon points="491.1,115.7 492.5,116.9 491.2,119.4 489.7,118.7 489.9,116"/>
<polygon points="492.8,120.5 493.7,117.5 497,118 497.3,120.1 496.3,122.6 493.2,122.3"/>
<polygon points="391.8,123.4 390.2,122.4 391,120.2 392.4,119.4 393.3,120.9 393.6,122.6"/>
<polygon points="407,126.2 405.5,124.8 405,123 405.6,122.3 407.2,120.8 408.4,122 408.1,124.3"/>
<polygon points="408.3,120.7 409.2,120 411,120.9 411,122.4 409.3,122.6 407.4,121.6"/>
<polygon points="415.6,123.9 412.9,125 411.3,121.2 413.4,120.1 415.6,120.6"/>
<polygon points="445.9,124.3 444.1,122.5 443.3,120.5 445.4,118.7 446.6,120.1"/>
<polygon points="446.2,123.9 448.1,122.7 450.9,123.2 451.6,124.4 450.2,125.4 446.6,125"/>
<polygon points="452.6,122.2 454.8,121.7 456.3,123.8 454.9,126.6 452.9,125.7"/>
<polygon points="455.8,125.6 454.4,124.2 453.5,122.1 454.6,121.5 456.9,121.1 457.3,123.9"/>
<polygon points="473.3,123.1 474,125 472.1,125.5 470.3,125.4 469.1,124.1 471.3,122.7"/>
<polygon points="472.2,122.2 473.7,121.3 475.1,122.5 475.2,124.4 472.9,124.4 471.3,123.6"/>
<polygon points="475.7,123.2 477.7,123.1 479.8,123.9 479.3,124.9 477.7,125.8 475.7,125.3 475.4,124.2"/>
<polygon points="485.1,120 485.1,121.9 482.8,123.4 481.5,121.4 482.1,119.3"/>
<polygon points="488.7,122.2 488.9,124.6 487.3,124.8 485.6,123.6 487.3,121.5"/>
<polygon points="489.6,123.9 489.4,120.6 491.3,119.2 492.8,120.3 491.9,123.3"/>
<polygon points="389.1,125.2 390.6,125 392.1,127.7 391.5,129.9 389.5,130 388.4,128.3"/>
<ellipse cx="397.9" cy="127.5" rx="0.8" ry="0.9"/>
<polygon points="408.4,125.5 409.5,127.9 408,130.8 405.6,129.9 404.2,128.9 405.1,126"/>
<polygon points="411.9,125.4 412.7,126.6 413.2,128.3 411.5,129 410.8,129.3 410,126.8 410.9,125"/>
<polygon points="415,126.1 414.2,124.9 414.5,124 417,123.6 418.6,124.4 417.8,125.6"/>
<ellipse cx="430" cy="127.3" rx="0.7" ry="0.6"/>
<polygon points="443.8,127.1 442.2,127.7 440.7,127.4 440.5,125.3 442.2,123.8 443.3,123.5 444.6,125.1"/>
<polygon points="472,123.8 473.9,125.7 472.7,128.5 471.7,128.8 469.8,128 470.4,124.5"/>
<polygon points="478.3,126 475,126.3 473.8,124.9 474.9,123.1 477.4,123.6"/>
<polygon points="482.9,127.1 481.2,128.7 479.6,127.4 478.7,125.1 480.9,123.5 482.2,124.7"/>
<polygon points="485.8,124 487.4,124 489.1,124.5 488.1,126.4 486.6,126.6 485.2,125.4"/>
<polygon points="486.3,128.4 485.3,126.5 486.9,125.6 489.8,126 490.7,127.5 489,128.4"/>
<polygon points="405.8,132.9 404.9,131.7 405.6,129.4 406.5,129.1 407.8,131.3 407.2,133.3"/>
<polygon points="413.2,131.5 410.8,133.6 408.1,131.8 409.2,129.6 411.4,129.1"/>
<polygon points="413,130.6 413,128.1 414.3,127.6 415.3,129.9 414.2,131.3"/>
<ellipse cx="436" cy="131" rx="0.9" ry="0.7"/>
<polygon points="439.5,128.3 440.4,129.5 440.5,130.3 438.5,131.1 437.4,130.4 436.7,128.2 437.3,127.8"/>
<polygon points="447,128.9 449.1,129.8 448.8,132.5 447.2,132.9 446.1,130.8"/>
<polygon points="455,131.9 453.9,133.7 453.1,133.8 451.7,133.2 451.6,131.7 452.6,129.4 454.2,129.4"/>
<polygon points="476.1,133.8 473.9,133.8 472.7,132.6 473.8,130.4 475.2,129.7 477,131.2"/>
<polygon points="479.5,131.3 478.9,129.1 479.3,127.3 481,127.9 481.5,128.9 481.4,131.1"/>
<polygon points="484.8,129.7 483.2,132.4 481.2,130.7 481.9,127.7 483.8,127.2"/>
<polygon points="487.6,130.2 486.4,130.8 485,129.2 485.3,127.9 485.8,127.2 486.9,126.9 487.8,127.8"/>
<polygon points="490.8,130.6 492.6,130.2 493.3,131.4 493.3,133.1 491.9,133.3 490,132.1"/>
<polygon points="386.9,133.9 387.3,133.1 389.8,132.5 391.5,133.8 392.1,135.8 390.1,137.6 387.2,136"/>
<polygon points="398.5,134.5 401,134 403.1,134.7 403.5,135.8 399.7,136.5 398.3,136"/>
<polygon points="407.6,135.3 404.9,134.5 406,131.6 406.9,130.1 409.5,132.6 408.9,134.8"/>
<polygon points="412.7,135.3 411.7,136.2 411.2,134.1 411.8,131.5 412.5,130.8 413.5,133.7"/>
<polygon points="416.2,132.3 417.5,130.7 419.4,131.3 419.2,133.5 418,134.6 416.5,133.8"/>
<polygon points="420.4,135.9 419.2,135.9 418.8,134.5 420.4,133.6 421.9,134.2 422.1,135"/>
<polygon points="425.7,135.5 424.5,136.7 422.6,136.9 421.6,135.4 422.1,133.3 425,134"/>
<polygon points="440.5,133.4 441.7,133.9 442.7,135.8 442.6,137.3 440.7,137.2 440.1,136.6"/>
<polygon points="447.9,135 446.7,136.8 444.9,136.3 444.7,135.1 446.3,134.3"/>
<polygon points="451.5,135.9 448.7,137.1 446.8,136.1 447,134.3 449.3,133.2 450.9,132.9"/>
<polygon points="456.2,136.5 452.5,136.2 452.6,133.8 455.7,133.3 457.5,134.9"/>
<polygon points="461.4,136.5 459.5,138.8 458.3,136.7 458.3,135 460.1,132.6 461.5,133.7"/>
<polygon points="465.2,134 465.9,132.1 467,131.1 468,131.5 468.9,133.4 468,135.1 466.3,135"/>
<polygon points="472.6,134.3 471.4,135 468.8,134.8 468.4,132.9 468.5,131.5 471.6,130.8 472.8,131.2"/>
<polygon points="474.9,130.9 476.9,131.6 476.2,133.6 474.5,133.5 472.7,132.3"/>
<polygon points="483.3,133.4 483.6,135.9 481.9,138.2 480.3,136.8 480.3,134.2 482,132.4"/>
<polygon points="485.4,131.6 486.9,133.4 487.3,135.4 485.1,138.1 482.6,136.1 482.9,133.6"/>
<polygon points="489.5,132.8 489.4,134.4 488.1,134.8 487.1,133.8 487.6,131.4 489,130.8"/>
<polygon points="494.2,133.1 494.4,134.4 491.8,135 489.8,133.9 490.4,132.8 493.2,132.3"/>
<polygon points="395.4,137.8 395.4,135.6 396.9,134.2 398.3,136 397.7,139"/>
<polygon points="399.4,137 400.7,135.9 402.3,135.6 403.2,137 402.7,137.8 400.9,137.9"/>
<polygon points="407.5,134.9 408.3,135.8 408.8,136.8 406.9,137.5 406.2,137.4 404.6,136 405.5,135.2"/>
<polygon points="416.9,137.1 415.4,138.4 413.7,137.5 414.6,134.7 416.2,134.3 417.1,135.9"/>
<polygon points="417.9,137.6 421,138.6 420.9,140 418,140.8 416,139.4"/>
<polygon points="420.3,137.9 421.8,136.4 423.2,137 424.2,138.4 421.9,139.9 420.7,139.4"/>
<polygon points="428,134.6 429.9,136.2 428.6,139.6 425.9,139.9 424.8,137.9 425.8,135"/>
<polygon points="432.9,137 434.8,138.5 433.6,140.1 431.1,140.3 429.5,137.8 431.1,137.2"/>
<polygon points="436.4,136.5 438,136.5 438.2,138.2 437,140 435.4,139.9 435.6,138.4"/>
<polygon points="447.9,136.4 447.9,138 445.8,139.3 444.5,138.8 442.7,137.4 443.8,136.1 446.2,134.8"/>
<polygon points="455.5,137.1 454.1,139.2 451.5,139.3 450.3,137.8 450.5,135.4 451.5,134.2 455,135.1"/>
<polygon points="455.6,138.8 455.1,136.5 457,135.6 458.2,136.5 457.8,138.4"/>
<polygon points="463.5,134.6 465.1,136.2 463.9,137.6 460.6,137 460.8,135.5"/>
<polygon points="463.8,135.9 466.1,136.7 466.8,137.6 465,138.4 463.5,138.3 462,136.6"/>
<polygon points="471.6,135.8 472.3,137.2 470.1,138.2 468.6,137 469,135.2"/>
<polygon points="473.2,136 474.1,134.5 477.6,135.3 477.7,137.1 476.1,139.3 474.3,138.4"/>
<polygon points="479.9,135.7 481.4,136.7 481.6,137.6 480.4,138.8 477.7,138.1 477.3,136.7"/>
<polygon points="487.1,133.8 489.1,134.9 488.7,137.1 487.2,137.7 486.2,136.1"/>
<polygon points="390.9,141.8 391,143.8 388.9,144.5 387.8,143.1 388.3,140.6 389.6,139"/>
<polygon points="395.5,139 396.1,140.3 395.6,142 394.8,141.7 393.5,141.5 392.7,139.9 394.2,139.2"/>
<polygon points="400.5,138 402.2,139.8 401.4,143 399.2,143.9 398.2,142.5 397.6,141.3 398.4,137.8"/>
<polygon points="407.4,142.9 406.4,144 404.9,144.3 404.1,142.6 405.6,140.7 407.3,141.5"/>
<polygon points="412.3,143.4 410.5,142.4 410.8,138.7 412.9,139.1 413.4,141.3"/>
<polygon points="413.7,140.8 415.6,138.6 417.1,138.1 418.5,140.7 417.3,143.5 414.9,143.7"/>
<polygon points="420.7,138.5 422.2,138 423.2,139.5 423.1,141.2 422.1,142.9 419.8,140.9"/>
<polygon points="423.2,138.8 424.3,138 425.4,139.3 425.3,141.7 424.2,143.4 423.3,142.3 422.8,141.2"/>
<polygon points="430.1,142.5 428.5,141.4 429.3,140.5 430.4,139.8 432.1,140.2 432.6,141.8 431.6,142.5"/>
<polygon points="393.7,145.3 392.7,146.6 390.5,146.9 389.3,145.7 390.8,144.2 392.2,144.1"/>
<polygon points="396.6,145.6 395.5,145.1 395.1,142.8 396.2,142.1 397.6,142.2 398.1,143.8 397.7,145.7"/>
<polygon points="402.1,142.4 403.6,143.1 404.2,143.9 403.5,145.6 402,145.6 401,145.2 401,143.2"/>
<polygon points="410.4,146.9 408.5,146.1 408.2,143.7 409,142.2 410.7,141.8 411.3,143.2 411.3,146.1"/>
<polygon points="412.7,144.2 412.6,141.6 414.3,141.7 415.8,142.3 415.4,144.9 413.5,145.5"/>
<polygon points="416.7,144.9 417.3,143.4 419.4,142.1 421.8,143.1 422,144.7 420.4,146.1 419.1,146.2"/>
<polygon points="422.5,143.1 422.9,145.2 422.6,147.1 420.2,146.9 419.8,144.6 421.2,143.7"/>
<polygon points="424,145.1 424.1,143.3 426,142.9 427.2,143.5 426.8,145.1"/>
<polygon points="431.8,146.9 430.5,145.6 431.3,144.1 431.7,143.1 434.2,144.2 435.1,145.7 433.8,147"/>
<polygon points="436.9,147.4 434.7,147.2 434.7,145.1 434.6,143.9 436.5,142.7 438,144.4 438.6,145.7"/>
<ellipse cx="449.7" cy="144.1" rx="0.7" ry="1"/>
<ellipse cx="453.5" cy="145.2" rx="0.5" ry="0.4"/>
<polygon points="392.6,149.8 391.4,150.2 389.7,149.6 389.7,148.5 391.4,147.4 392.7,148.8"/>
<polygon points="393.9,148.7 395.3,149.8 395,150.8 393.7,151.4 392.1,151.6 392.1,150.2 392.6,148.4"/>
<polygon points="404.2,152.7 403.4,152.3 401.9,150.8 402.5,148.8 404.5,148.6 405,151.1"/>
<polygon points="407.3,145.6 408.3,146.6 407.9,148.4 406.5,148.8 406,146.5"/>
<polygon points="412.8,151.2 410.9,152.1 409,150.6 408.5,148.8 410.1,147.4 412.2,148.2"/>
<polygon points="416,146.9 416.1,148.9 415.4,150.6 414.3,149.7 414.1,148.9 414.1,146.5 415.4,145.8"/>
<polygon points="420.6,150.7 419.6,148.8 420.5,147.4 423,147 423.6,148.7 422.9,150.7"/>
<polygon points="430,151 428,149.9 428.4,148.3 429.4,148 430.8,148.6 431.4,149.6"/>
<polygon points="432.9,146.3 433.9,148 434.2,150.6 432.2,151.9 431.7,149"/>
<polygon points="435.6,148.1 436.5,146.8 438.1,146 439.3,147.8 439.3,150 438.6,150.6 437.2,150.6"/>
<polygon points="495.3,149 493.9,149.7 492.8,148.1 493.6,147.3 495,147.4"/>
<polygon points="392.5,154.2 390.2,153.3 389.8,151.9 392.3,151.6 394.2,152.8"/>
<polygon points="393.7,154.4 394,153 396.1,152.4 397.6,154 396.9,155"/>
<polygon points="397.4,151.7 398.5,149.2 401,150 402,152.1 400.5,153.8 398.1,152.7"/>
<polygon points="408.3,152.6 407.7,156 405.7,155.8 405.1,152.6 406.3,151.9"/>
<polygon points="410.5,150 411.1,149.2 411.9,150.3 412.3,152.6 411.5,154.6 410.3,153.6 409.7,151.9"/>
<polygon points="419.1,149.8 419.8,150.4 420.4,152.7 419,153.8 417.9,153 417,151.4 417.9,149.9"/>
<polygon points="420.7,152.2 421.2,150.3 423.2,149.6 425.5,151.8 423.1,153"/>
<polygon points="428.2,149.3 428.5,152.1 426.9,154 425.1,153.3 425.4,150.9 426.7,148.5"/>
<polygon points="431.8,150.6 434.4,150.9 434.9,153.4 433.1,154.6 430.6,154.6 429.5,152.8"/>
<polygon points="432.9,155.4 432.8,153.5 433.9,152.1 435.7,152.5 435.4,155.3 434.1,156.5"/>
<ellipse cx="466.9" cy="151.4" rx="0.5" ry="0.6"/>
<polygon points="390.5,159.1 389.3,158.1 390,156.9 392.4,156.5 392.8,157.2 392.4,158.9"/>
<polygon points="394.7,157.8 393,155.3 393.7,152.5 396.9,153 396.6,156.7"/>
<polygon points="402.3,159.8 400.7,156.9 403.7,155.7 406,157.8 405.1,159.4"/>
<polygon points="407.1,158.7 406.7,157.5 407.7,155.9 410,155.8 409.9,158 408.7,159"/>
<polygon points="412.1,159.4 411.2,157.1 412.8,155.2 413.7,156.2 414.5,157.4 414.1,159.2 412.5,160"/>
<polygon points="417,154.5 416.3,156.5 414.7,157.4 412.9,156.8 413.3,153.7 415.7,152.4"/>
<polygon points="420.5,154.1 421.3,155.5 419.9,158.3 417.4,158.5 416.7,156.4 417.7,153.8"/>
<polygon points="426,155.9 425.4,157.5 424.1,157.9 423.4,156 423.1,155.3 424.7,154.2 426,155.2"/>
<polygon points="434.1,157.5 432.4,157.7 430.8,155.3 431.6,152.4 433.4,152.8 435.1,155.3"/>
<polygon points="436.5,154.4 437.8,153.9 439.5,155.3 438.3,156.9 436.6,156.9"/>
<polygon points="393.2,158.1 393.3,159.4 391.9,160.6 390.6,159.7 391.3,158.4 392.5,157.4"/>
<polygon points="395.6,160.4 397.7,160 398.6,161.2 397.9,163.4 395.8,163.3 395.3,162.2"/>
<polygon points="402.6,160.3 402.4,162.6 399.1,163.6 398.4,161.4 398.7,158.4 401.6,158.2"/>
<polygon points="406.1,161.1 406.2,162.5 403.6,164.4 402.3,163.8 402,161.3 403.1,160.1 405.5,159.9"/>
<polygon points="409.2,158 410.2,157.1 411.9,159.2 411.1,160.9 409.9,161.9 408.5,160.4"/>
<polygon points="413.9,159.3 413.1,159.9 411.4,159.7 410.7,158.3 411.2,157.6 412.8,157.4 414.2,158.2"/>
<polygon points="422.1,161.3 420.8,160.2 419.8,157.7 421.1,156.8 423.5,156.6 424.2,159.1 423.5,160.7"/>
<polygon points="424.9,161.6 424.8,159.7 425.8,158.7 427.3,159.3 427.4,161.3 426.1,162.5"/>
<polygon points="430.5,162 431.8,160.2 433.4,159.6 435.2,161.5 434.5,162.8 433.3,164 431.7,163.8"/>
<polygon points="435.9,157.3 437.5,157.7 438.5,160.1 437.2,162.2 435.4,162.1 434.1,159.5"/>
<polygon points="391.9,160.9 393.1,162.5 391.9,163.9 389.3,164.1 388.5,162.4 389.5,160.8"/>
<polygon points="396.9,163 395.3,164 392.5,163.7 391.5,162.4 393.9,161.4 396.7,161.3"/>
<polygon points="399.9,162.9 401.2,164.6 400.7,167 399.2,167.6 397.7,165.4 399,163.6"/>
<polygon points="401.1,163.5 401.4,161.2 402.3,160.4 403.9,162.1 403.2,164.7 402.2,166.1"/>
<polygon points="408.8,166 407.3,165.9 405.6,165 406.2,163.8 408.8,163.8 409.5,164.3"/>
<polygon points="410.5,160.6 411.3,160.9 413.2,161.8 413.2,163.1 411.6,164.1 410.8,163.7 409.6,162.4"/>
<polygon points="416.7,165.6 415.3,166.6 414.2,166 414.3,161.9 416.1,160.9 417.1,161.7"/>
<polygon points="423.2,164.2 421.6,164 422,161.9 424.3,161.7 426.5,161.7 427.6,163 425.9,164.8"/>
<polygon points="429.7,160.5 431,162.8 430.3,165.9 428,165.9 427.1,164.3 427.5,161"/>
<polygon points="433.8,164.5 433,165 432.1,164 431.9,162.9 432.8,161.6 434,161.8 434.5,163.7"/>
<polygon points="437.4,165.8 434.6,164.4 435.9,161.5 437.8,160.5 440.6,162.6 439.7,164.1"/>
<ellipse cx="471.5" cy="162.2" rx="0.7" ry="0.6"/>
<polygon points="392.3,169.7 390.7,168 390.8,165.8 393.7,165.4 393.3,168.6"/>
<polygon points="398.6,167.7 396.8,168.4 394.2,167 393.8,166.1 397,165.5 398.9,166.1"/>
<polygon points="406.2,168.7 403.4,168.8 403.3,164.6 406,163.5 407.3,166"/>
<polygon points="410.7,170.4 409.2,171.4 407.9,169.2 409.1,166.9 410.9,167.4 411.5,169.4"/>
<polygon points="411.5,167.2 412.9,164.9 416,164.7 415.3,168.3 413.4,169.9"/>
<polygon points="421.4,168 419.9,170 418,171.1 416.1,169 416,166.5 419.5,165.9"/>
<polygon points="423,167.5 422.9,169.6 421.1,171.8 420.4,169.7 420.5,168.1 421.7,166.6"/>
<polygon points="423.2,167 424.2,166.1 426.4,166.2 427.9,167.2 428,167.9 426.1,168.6 424.1,168"/>
<polygon points="430.5,168.7 430.6,166.1 433.4,166 434.3,169 433.1,170.3 431,170.9"/>
<polygon points="433.7,170.2 432.1,168.9 433.2,166.9 435.8,167 436,168.6 435.2,170.5"/>
<ellipse cx="487.4" cy="167.3" rx="0.6" ry="0.7"/>
<polygon points="393.1,172.9 396,171.9 397.4,172.1 398.3,173.6 397,174.2 394.1,174.4"/>
<polygon points="396.5,168.7 398.9,168.1 399.7,169.5 399,172.1 397.5,173.4 396.5,171"/>
<polygon points="408.2,170.8 407.5,172.8 406.2,171.8 406.1,170.1 407.5,169.5"/>
<polygon points="408.8,172.5 409.2,171.4 411.1,170.4 411.9,172.5 411.1,173.4"/>
<polygon points="417.6,170.2 419,171.5 418.3,175.1 416.2,175.1 415,172.1"/>
<polygon points="421.7,171.3 420.8,172.3 418.6,171 419.5,168.9 421.4,168.6"/>
<polygon points="425.3,171.4 423.7,171.6 422.7,169.7 423.8,167.5 425.1,167.8"/>
<polygon points="429.7,169.9 429.1,172.9 426.4,171.9 426.2,169.9 427.1,168 428.7,168.3"/>
<polygon points="433.2,172.8 432.2,171.1 433.9,169.6 435.3,170.6 434.8,172.8"/>
<polygon points="437.6,172.4 438,173.7 436.5,174.2 434.6,173.4 434.9,172.5 436.2,171.8"/>
<polygon points="494.1,174 493.8,172.9 494.5,169.7 496.6,170.4 496.8,172.7 495.8,174.9"/>
<polygon points="396.1,171.9 397.7,173.9 398.2,176.1 396.2,177.1 395.3,174.9"/>
<polygon points="403.5,175 401.3,175.6 400.2,174.3 401.4,172.8 403.1,173"/>
<polygon points="407.1,172.3 407.8,173 407.1,175.5 405.4,175.9 403.1,174.8 403.2,173.1 404.3,172.3"/>
<polygon points="406.9,175.2 407.5,173.5 410.2,173.7 410.7,176.7 407.7,177.5"/>
<polygon points="412.7,175.5 412.6,173.5 414.6,171.9 416.2,173.1 416.1,175.5 414.2,176.6"/>
<polygon points="421.2,174.2 421,177.3 419.8,179 419.2,177.8 418.7,175.5 420,173.5"/>
<polygon points="424.3,177 421.9,177 421.3,174.8 421.9,173.5 424.3,174"/>
<polygon points="426,174.9 426.6,173.6 428.4,172.5 430.1,174.5 429.6,176.4 428.1,177.2"/>
<polygon points="433,174.3 434,175.6 433,177.1 429.9,176.4 429.6,174.6 431.2,173.8"/>
<polygon points="434.8,177 435.2,174.7 437.2,174.8 438.1,175.5 438.1,177.1 437,178.2 434.9,178.5"/>
<polygon points="441.1,178 438.5,177.1 438.8,174.3 442.4,174.5 442.9,176.4"/>
<polygon points="451.5,176.4 449.2,177.7 446.3,176.8 447.4,174.9 451,174.8"/>
<ellipse cx="461.4" cy="174.9" rx="0.9" ry="0.9"/>
<polygon points="468.3,174.9 470,174.4 472.9,174.2 472.4,177.5 471.5,178.8 469.4,178.7"/>
<polygon points="481.7,174.8 482,176.7 479.9,178.1 478.4,177.5 477.9,175.7 479.8,174.5"/>
<polygon points="481.7,177.1 481.4,175.3 483.1,174.5 484.9,176 484.4,177.3 483.1,177.9"/>
<polygon points="486.9,177.6 486.1,176.3 486.3,175 488.2,174.7 488.7,176 488.4,177"/>
</g>
<g fill="#fcfbff" filter="url(#bl05)">
<path d="M416.6 112.5Q417.9 116 415.8 118.6Q413.6 121.2 412.1 124.3Q410.5 127.4 407.6 126.6Q404.7 125.9 402.7 123Q400.6 120.1 401.2 116.3Q401.8 112.5 403.2 109.1Q404.5 105.7 407.3 106.7Q410.1 107.6 412.7 108.3Q415.2 109 416.6 112.5Z"/>
<path d="M457.6 107.4Q458 110 458 113.1Q458 116.1 456.1 117.6Q454.1 119 452.2 117.9Q450.3 116.8 449 114.8Q447.8 112.8 448.4 110.3Q449.1 107.9 450 106.3Q450.9 104.7 452.4 103.2Q454 101.7 455.6 103.3Q457.2 104.9 457.6 107.4Z"/>
<path d="M478.2 105Q479.1 108 478 110.7Q476.8 113.4 474.8 113.9Q472.9 114.5 471 114.5Q469.2 114.5 467.4 112.8Q465.6 111.1 466 108.2Q466.3 105.2 468 104Q469.7 102.8 471.5 100.8Q473.2 98.8 475.3 100.4Q477.3 102 478.2 105Z"/>
<path d="M448.7 128.6Q449.1 130 449 131.8Q449 133.6 447.6 134.4Q446.2 135.1 444.6 135.3Q442.9 135.4 442.3 133.6Q441.7 131.7 441.8 130Q441.8 128.4 442.5 126.8Q443.3 125.3 444.9 124.3Q446.5 123.3 447.4 125.3Q448.2 127.2 448.7 128.6Z"/>
<path d="M400.4 105.3Q400.2 108 400.2 110.4Q400.2 112.8 399 114.5Q397.8 116.2 396.4 115.2Q395 114.1 394.2 112.2Q393.4 110.3 393 107.7Q392.6 105.2 393.6 103.1Q394.7 101.1 396.1 101.8Q397.5 102.6 399.1 102.6Q400.6 102.6 400.4 105.3Z"/>
<path d="M489 121.4Q489.4 123 489.1 124.7Q488.8 126.5 487.8 128.2Q486.8 129.9 485.4 128.9Q484.1 128 482.9 126.7Q481.7 125.4 482.3 123.3Q482.9 121.3 483.2 119.1Q483.6 116.8 485.1 117.4Q486.6 118 487.6 118.9Q488.5 119.8 489 121.4Z"/>
<path d="M432.6 99.4Q433 100 432.6 100.6Q432.1 101.2 431.3 101.6Q430.5 102 429.4 102Q428.2 102.1 427.5 101.4Q426.9 100.8 427.4 100.1Q427.9 99.5 428.3 99Q428.6 98.4 429.6 98.2Q430.5 98 431.4 98.4Q432.3 98.7 432.6 99.4Z"/>
</g>
</g>
<rect x="391.5" y="97.6" width="101.4" height="76.2" fill="none" stroke="#6a6478" stroke-width="0.9"/>
<rect x="465.3" y="164.2" width="25.6" height="9" fill="#fbfbfd" opacity="0.92"/>
<line x1="468.3" y1="166.2" x2="490.5" y2="166.2" stroke="#6a6a72" stroke-width="0.8"/>
<text x="479.8" y="172.1" font-size="5.4" fill="#222" text-anchor="middle" stroke="#222" stroke-width="0.15">200 &#956;m</text>
<g clip-path="url(#iTL)">
<rect x="287.4" y="57.8" width="47.4" height="38.6" filter="url(#gtex)"/>
<g fill="#1d4434" opacity="0.7">
<ellipse cx="309.9" cy="83.2" rx="1" ry="0.7"/>
<ellipse cx="287.9" cy="72.3" rx="0.7" ry="1.4"/>
<ellipse cx="320.1" cy="81" rx="0.9" ry="1.2"/>
<ellipse cx="294.3" cy="74.8" rx="0.6" ry="1.5"/>
<ellipse cx="290.2" cy="89.4" rx="0.6" ry="1.3"/>
<ellipse cx="303.4" cy="73.4" rx="1.2" ry="0.5"/>
<ellipse cx="290.3" cy="93.1" rx="0.9" ry="0.6"/>
<ellipse cx="334.2" cy="94.3" rx="0.6" ry="1"/>
<ellipse cx="293.8" cy="69.9" rx="1" ry="0.7"/>
<ellipse cx="320.4" cy="59.8" rx="0.6" ry="1.4"/>
<ellipse cx="306.4" cy="74" rx="1" ry="1"/>
<ellipse cx="305.6" cy="59" rx="1.1" ry="1.6"/>
<ellipse cx="333.7" cy="83.4" rx="0.8" ry="0.9"/>
<ellipse cx="320.1" cy="83.8" rx="0.6" ry="0.8"/>
</g>
<g fill="#0a120e"><ellipse cx="306.5" cy="70" rx="1" ry="2.6"/><ellipse cx="296" cy="91" rx="1.5" ry="1.2"/><ellipse cx="327" cy="65" rx="1" ry="1.6"/><ellipse cx="317" cy="80" rx="0.9" ry="0.9"/></g>
<g fill="none" stroke="#bfead3" stroke-width="0.8" opacity="0.8"><circle cx="305.5" cy="79.5" r="2.8"/><circle cx="330" cy="66" r="2"/><circle cx="295" cy="88.5" r="2.6"/><circle cx="320" cy="75" r="2"/></g>
</g>
<g clip-path="url(#iTR)">
<rect x="391.5" y="58" width="48.1" height="38.4" fill="#17403d"/>
<g fill="#3e8f6e" filter="url(#bl05)"><ellipse cx="397" cy="72" rx="6" ry="9"/><ellipse cx="436" cy="72" rx="5" ry="9"/><ellipse cx="400" cy="85" rx="5" ry="5"/></g>
<g fill="#e9f3ea" filter="url(#bl05)">
<path d="M417.7 62Q419.1 65.5 417.6 68.9Q416.2 72.2 412 72.2Q407.9 72.1 406 68.8Q404.1 65.5 406.3 62.6Q408.4 59.7 412.4 59.1Q416.3 58.5 417.7 62Z"/>
<path d="M429.4 59.4Q431.3 61 429.5 62.7Q427.6 64.4 424.5 64.4Q421.4 64.4 420.1 62.7Q418.8 61 420.3 59.6Q421.9 58.1 424.7 57.9Q427.5 57.7 429.4 59.4Z"/>
<path d="M428.8 71.1Q431 74 428.9 77Q426.7 79.9 423.1 80.7Q419.5 81.5 418.1 77.7Q416.8 74 418.5 70.9Q420.1 67.7 423.4 67.9Q426.6 68.2 428.8 71.1Z"/>
<path d="M408.6 72.4Q410.5 74.5 408.8 76.9Q407 79.2 403.9 79.3Q400.8 79.4 399.5 77Q398.1 74.5 399.9 72.6Q401.6 70.8 404.1 70.5Q406.7 70.3 408.6 72.4Z"/>
<path d="M414.4 79.3Q415.6 82 414.2 84.1Q412.7 86.3 410.2 86.9Q407.6 87.6 406.6 84.8Q405.6 82 406.9 79.8Q408.2 77.6 410.8 77.1Q413.3 76.6 414.4 79.3Z"/>
<path d="M421.8 87.8Q423 90.5 422 93.6Q421 96.6 417.7 96.2Q414.4 95.8 412.8 93.2Q411.2 90.5 412.9 87.9Q414.5 85.4 417.6 85.3Q420.6 85.1 421.8 87.8Z"/>
<path d="M436.2 87.3Q438.1 90 436.1 92.5Q434.1 95 429.9 95.8Q425.8 96.6 424.3 93.3Q422.7 90 424.3 86.8Q425.9 83.6 430.1 84.1Q434.3 84.7 436.2 87.3Z"/>
<path d="M407.1 90.1Q409.9 92.5 407.2 95Q404.6 97.5 399.6 97.4Q394.6 97.3 392.2 94.9Q389.7 92.5 392.3 90.2Q394.9 88 399.6 87.9Q404.4 87.8 407.1 90.1Z"/>
<path d="M438.3 65.8Q439 68 438.2 69.9Q437.5 71.9 435.4 72.1Q433.3 72.3 432.6 70.2Q431.9 68 432.6 65.8Q433.3 63.6 435.5 63.6Q437.7 63.6 438.3 65.8Z"/>
<path d="M438.5 77.8Q439.3 79.5 438.5 81.1Q437.6 82.8 436 82.8Q434.3 82.9 433.5 81.2Q432.7 79.5 433.4 77.5Q434 75.5 435.8 75.9Q437.6 76.2 438.5 77.8Z"/>
<path d="M396.8 59.8Q397.4 61 396.7 62.1Q396 63.1 394.3 63.4Q392.7 63.6 391.6 62.3Q390.6 61 391.7 59.8Q392.8 58.6 394.5 58.6Q396.2 58.6 396.8 59.8Z"/>
<path d="M394.6 77Q395.1 79 394.6 81.1Q394.1 83.2 393.1 82.9Q392.1 82.6 391.5 80.8Q390.9 79 391.4 77Q392 75 393 75Q394.1 74.9 394.6 77Z"/>
</g>
</g>
<g clip-path="url(#iBL)">
<rect x="287.4" y="135.4" width="47.4" height="38.4" filter="url(#gtex2)"/>
<g fill="none" stroke="#050a08" stroke-linecap="round" stroke-linejoin="round" filter="url(#wob)">
<path d="M292.3 143.2L294.5 146.5L296.2 150" stroke-width="2.9"/>
<path d="M297.8 143.2L301 144.2" stroke-width="2.6"/>
<path d="M300.8 150.8L304.8 153.6" stroke-width="2.9"/>
<path d="M302.4 159.6L307.6 162.2" stroke-width="2.9"/>
<path d="M308.6 156.8L313.4 161.2" stroke-width="3.2"/>
<path d="M310.8 144L311.4 146" stroke-width="2.6"/>
<path d="M310.8 140.3L312.4 141.2" stroke-width="2.3"/>
<path d="M315.3 145.2L318.2 148" stroke-width="2.8"/>
<path d="M328.8 144.2L325.6 148.6L323.5 152L320.3 155.5" stroke-width="2.9"/>
<path d="M325 140.3L327.8 143" stroke-width="3.2"/>
<path d="M294.2 166.3L296.2 168" stroke-width="2.5"/>
<path d="M300 166.3L304.6 169" stroke-width="2.9"/>
<path d="M305 168.3L307.6 169.2" stroke-width="2.2"/>
<path d="M309.6 161.5L310.4 164.2" stroke-width="2.3"/>
<path d="M326.8 168L328.8 166.2L328.6 165.8" stroke-width="2.3"/>
<path d="M289.6 156L291.5 157.5" stroke-width="2.3"/>
<path d="M317 152L318.5 153.5" stroke-width="2"/>
</g>
</g>
<g clip-path="url(#iBR)">
<rect x="391.5" y="135.6" width="47.9" height="38.2" filter="url(#gtex2)" opacity="0.95"/>
<rect x="391.5" y="135.6" width="47.9" height="38.2" fill="#c4ead2" opacity="0.38"/>
<g fill="none" stroke="#1a3328" stroke-linecap="round" opacity="0.9">
<path d="M396 151.5L393.6 154.8" stroke-width="1.3"/>
<path d="M405.6 152.4L402.6 156.6" stroke-width="1.5"/>
<path d="M406.6 158.4L404.6 163.8" stroke-width="1.3"/>
<path d="M409.6 167.4L408.6 171.6" stroke-width="1.3"/>
<path d="M417.6 140.4L419.4 143.6" stroke-width="1.4"/>
<path d="M420.2 145.4L420.6 147.6" stroke-width="1.3"/>
<path d="M427.6 148.4L425.6 151.6" stroke-width="1.2"/>
<path d="M432.4 152.4L434.6 151.4" stroke-width="1.1"/>
<path d="M402 166L403.2 168" stroke-width="1.1"/>
</g>
<path d="M426 161L430 163.5" stroke="#eef8ef" stroke-width="1.6" stroke-linecap="round"/>
</g>
<rect x="287.4" y="57.8" width="47.4" height="38.6" fill="none" stroke="#3a3f3a" stroke-width="0.8"/>
<rect x="323.8" y="91.8" width="9.4" height="3.4" fill="#f4f7f4" stroke="#666" stroke-width="0.3"/>
<text x="328.5" y="94.4" font-size="2.6" fill="#333" text-anchor="middle">20 &#956;m</text>
<rect x="391.5" y="58" width="48.1" height="38.4" fill="none" stroke="#3a3f3a" stroke-width="0.8"/>
<rect x="428.6" y="91.8" width="9.4" height="3.4" fill="#f4f7f4" stroke="#666" stroke-width="0.3"/>
<text x="433.3" y="94.4" font-size="2.6" fill="#333" text-anchor="middle">20 &#956;m</text>
<rect x="287.4" y="135.4" width="47.4" height="38.4" fill="none" stroke="#3a3f3a" stroke-width="0.8"/>
<rect x="323.8" y="169.2" width="9.4" height="3.4" fill="#f4f7f4" stroke="#666" stroke-width="0.3"/>
<text x="328.5" y="171.8" font-size="2.6" fill="#333" text-anchor="middle">20 &#956;m</text>
<rect x="391.5" y="135.6" width="47.9" height="38.2" fill="none" stroke="#3a3f3a" stroke-width="0.8"/>
<rect x="428.4" y="169.2" width="9.4" height="3.4" fill="#f4f7f4" stroke="#666" stroke-width="0.3"/>
<text x="433.1" y="171.8" font-size="2.6" fill="#333" text-anchor="middle">20 &#956;m</text>
<text x="11.8" y="189.9" font-size="14" fill="#000" font-weight="bold" stroke="#000" stroke-width="0.16">C</text>
<line x1="54.5" y1="268.9" x2="54.5" y2="199.3" stroke="#2a2a2a" stroke-width="1.1"/>
<line x1="50.4" y1="268.4" x2="54.5" y2="268.4" stroke="#2a2a2a" stroke-width="1"/>
<text x="48.4" y="270.45" font-size="5.7" fill="#333" text-anchor="end" stroke="#3a3a3a" stroke-width="0.1">0</text>
<line x1="50.4" y1="254.68" x2="54.5" y2="254.68" stroke="#2a2a2a" stroke-width="1"/>
<text x="48.4" y="256.73" font-size="5.7" fill="#333" text-anchor="end" stroke="#3a3a3a" stroke-width="0.1">20</text>
<line x1="50.4" y1="240.96" x2="54.5" y2="240.96" stroke="#2a2a2a" stroke-width="1"/>
<text x="48.4" y="243.01" font-size="5.7" fill="#333" text-anchor="end" stroke="#3a3a3a" stroke-width="0.1">40</text>
<line x1="50.4" y1="227.24" x2="54.5" y2="227.24" stroke="#2a2a2a" stroke-width="1"/>
<text x="48.4" y="229.29" font-size="5.7" fill="#333" text-anchor="end" stroke="#3a3a3a" stroke-width="0.1">60</text>
<line x1="50.4" y1="213.52" x2="54.5" y2="213.52" stroke="#2a2a2a" stroke-width="1"/>
<text x="48.4" y="215.57" font-size="5.7" fill="#333" text-anchor="end" stroke="#3a3a3a" stroke-width="0.1">80</text>
<line x1="50.4" y1="199.8" x2="54.5" y2="199.8" stroke="#2a2a2a" stroke-width="1"/>
<text x="48.4" y="201.85" font-size="5.7" fill="#333" text-anchor="end" stroke="#3a3a3a" stroke-width="0.1">100</text>
<line x1="50.4" y1="268.4" x2="160.2" y2="268.4" stroke="#2a2a2a" stroke-width="1.1"/>
<line x1="54.5" y1="268.4" x2="54.5" y2="270.6" stroke="#2a2a2a" stroke-width="1"/>
<text x="54.5" y="278.2" font-size="5.6" fill="#3a3a3a" text-anchor="middle" stroke="#3a3a3a" stroke-width="0.1">0</text>
<line x1="75.66" y1="268.4" x2="75.66" y2="270.6" stroke="#2a2a2a" stroke-width="1"/>
<text x="75.66" y="278.2" font-size="5.6" fill="#3a3a3a" text-anchor="middle" stroke="#3a3a3a" stroke-width="0.1">4</text>
<line x1="96.82" y1="268.4" x2="96.82" y2="270.6" stroke="#2a2a2a" stroke-width="1"/>
<text x="96.82" y="278.2" font-size="5.6" fill="#3a3a3a" text-anchor="middle" stroke="#3a3a3a" stroke-width="0.1">8</text>
<line x1="117.98" y1="268.4" x2="117.98" y2="270.6" stroke="#2a2a2a" stroke-width="1"/>
<text x="117.98" y="278.2" font-size="5.6" fill="#3a3a3a" text-anchor="middle" stroke="#3a3a3a" stroke-width="0.1">12</text>
<line x1="139.14" y1="268.4" x2="139.14" y2="270.6" stroke="#2a2a2a" stroke-width="1"/>
<text x="139.14" y="278.2" font-size="5.6" fill="#3a3a3a" text-anchor="middle" stroke="#3a3a3a" stroke-width="0.1">16</text>
<line x1="160.3" y1="268.4" x2="160.3" y2="270.6" stroke="#2a2a2a" stroke-width="1"/>
<text x="160.3" y="278.2" font-size="5.6" fill="#3a3a3a" text-anchor="middle" stroke="#3a3a3a" stroke-width="0.1">>20</text>
<text x="48.6" y="278.2" font-size="5.6" fill="#3a3a3a" text-anchor="end" stroke="#3a3a3a" stroke-width="0.1">dpi</text>
<line x1="54.5" y1="199.8" x2="160.3" y2="199.8" stroke="#9a8a8a" stroke-width="0.9"/>
<polyline points="59.79,199.8 65.08,199.8 65.08,222.64 70.37,222.64 70.37,234.1 75.66,234.1 75.66,245.56 80.95,245.56 80.95,268.4" fill="none" stroke="#222" stroke-width="1.1"/>
<rect x="62.99" y="197.71" width="4.17" height="4.17" fill="#1e1e82" stroke="#000" stroke-width="0.6"/>
<rect x="84.15" y="197.71" width="4.17" height="4.17" fill="#1e1e82" stroke="#000" stroke-width="0.6"/>
<rect x="105.31" y="197.71" width="4.17" height="4.17" fill="#1e1e82" stroke="#000" stroke-width="0.6"/>
<rect x="126.47" y="197.71" width="4.17" height="4.17" fill="#1e1e82" stroke="#000" stroke-width="0.6"/>
<rect x="147.63" y="197.71" width="4.17" height="4.17" fill="#1e1e82" stroke="#000" stroke-width="0.6"/>
<rect x="73.57" y="197.71" width="4.17" height="4.17" fill="#961c1c" stroke="#000" stroke-width="0.6"/>
<rect x="94.73" y="197.71" width="4.17" height="4.17" fill="#961c1c" stroke="#000" stroke-width="0.6"/>
<rect x="115.89" y="197.71" width="4.17" height="4.17" fill="#961c1c" stroke="#000" stroke-width="0.6"/>
<rect x="137.05" y="197.71" width="4.17" height="4.17" fill="#961c1c" stroke="#000" stroke-width="0.6"/>
<rect x="158.21" y="197.71" width="4.17" height="4.17" fill="#961c1c" stroke="#000" stroke-width="0.6"/>
<rect x="57.7" y="197.71" width="4.17" height="4.17" fill="#111" stroke="#000" stroke-width="0.6"/>
<rect x="62.99" y="220.56" width="4.17" height="4.17" fill="#111" stroke="#000" stroke-width="0.6"/>
<rect x="68.28" y="232.01" width="4.17" height="4.17" fill="#111" stroke="#000" stroke-width="0.6"/>
<rect x="73.57" y="243.47" width="4.17" height="4.17" fill="#111" stroke="#000" stroke-width="0.6"/>
<rect x="78.86" y="266.31" width="4.17" height="4.17" fill="#111" stroke="#000" stroke-width="0.6"/>
<text x="20.3" y="232.3" font-size="9.7" fill="#111" text-anchor="middle" transform="rotate(-90 20.3 232.3)" textLength="37.2" lengthAdjust="spacingAndGlyphs" stroke="#111" stroke-width="0.16">C57BL/6</text>
<text x="30.2" y="232" font-size="9.6" fill="#111" text-anchor="middle" transform="rotate(-90 30.2 232)" textLength="33.5" lengthAdjust="spacingAndGlyphs" stroke="#111" stroke-width="0.16">Survival</text>
<text x="35.7" y="232.3" font-size="5.2" fill="#444" text-anchor="middle" transform="rotate(-90 35.7 232.3)" stroke="#444" stroke-width="0.16">(%)</text>
<rect x="51.2" y="288.5" width="6.4" height="6.9" fill="#000"/>
<text x="60.9" y="294.4" font-size="6.3" fill="#222" stroke="#222" stroke-width="0.16">Ct</text>
<rect x="72.9" y="288.5" width="6.5" height="6.9" fill="#1010d8"/>
<text x="83.2" y="294.4" font-size="6.3" fill="#222" stroke="#222" stroke-width="0.18" textLength="49.3" lengthAdjust="spacingAndGlyphs"><tspan font-style="italic">Aspergillus</tspan> conidia</text>
<rect x="138" y="288.5" width="6.6" height="6.9" fill="#d01818"/>
<text x="147.5" y="294.4" font-size="6.3" fill="#222" textLength="16" lengthAdjust="spacingAndGlyphs" stroke="#222" stroke-width="0.16">Crf1p</text>
<line x1="54.4" y1="379.2" x2="54.4" y2="310.3" stroke="#2a2a2a" stroke-width="1.1"/>
<line x1="50.3" y1="378.7" x2="54.4" y2="378.7" stroke="#2a2a2a" stroke-width="1"/>
<text x="48.3" y="380.75" font-size="5.7" fill="#333" text-anchor="end" stroke="#3a3a3a" stroke-width="0.1">0</text>
<line x1="50.3" y1="365.12" x2="54.4" y2="365.12" stroke="#2a2a2a" stroke-width="1"/>
<text x="48.3" y="367.17" font-size="5.7" fill="#333" text-anchor="end" stroke="#3a3a3a" stroke-width="0.1">20</text>
<line x1="50.3" y1="351.54" x2="54.4" y2="351.54" stroke="#2a2a2a" stroke-width="1"/>
<text x="48.3" y="353.59" font-size="5.7" fill="#333" text-anchor="end" stroke="#3a3a3a" stroke-width="0.1">40</text>
<line x1="50.3" y1="337.96" x2="54.4" y2="337.96" stroke="#2a2a2a" stroke-width="1"/>
<text x="48.3" y="340.01" font-size="5.7" fill="#333" text-anchor="end" stroke="#3a3a3a" stroke-width="0.1">60</text>
<line x1="50.3" y1="324.38" x2="54.4" y2="324.38" stroke="#2a2a2a" stroke-width="1"/>
<text x="48.3" y="326.43" font-size="5.7" fill="#333" text-anchor="end" stroke="#3a3a3a" stroke-width="0.1">80</text>
<line x1="50.3" y1="310.8" x2="54.4" y2="310.8" stroke="#2a2a2a" stroke-width="1"/>
<text x="48.3" y="312.85" font-size="5.7" fill="#333" text-anchor="end" stroke="#3a3a3a" stroke-width="0.1">100</text>
<line x1="50.3" y1="378.7" x2="160.2" y2="378.7" stroke="#2a2a2a" stroke-width="1.1"/>
<line x1="54.4" y1="378.7" x2="54.4" y2="380.9" stroke="#2a2a2a" stroke-width="1"/>
<text x="54.4" y="388.6" font-size="5.6" fill="#3a3a3a" text-anchor="middle" stroke="#3a3a3a" stroke-width="0.1">0</text>
<line x1="75.56" y1="378.7" x2="75.56" y2="380.9" stroke="#2a2a2a" stroke-width="1"/>
<text x="75.56" y="388.6" font-size="5.6" fill="#3a3a3a" text-anchor="middle" stroke="#3a3a3a" stroke-width="0.1">4</text>
<line x1="96.72" y1="378.7" x2="96.72" y2="380.9" stroke="#2a2a2a" stroke-width="1"/>
<text x="96.72" y="388.6" font-size="5.6" fill="#3a3a3a" text-anchor="middle" stroke="#3a3a3a" stroke-width="0.1">8</text>
<line x1="117.88" y1="378.7" x2="117.88" y2="380.9" stroke="#2a2a2a" stroke-width="1"/>
<text x="117.88" y="388.6" font-size="5.6" fill="#3a3a3a" text-anchor="middle" stroke="#3a3a3a" stroke-width="0.1">12</text>
<line x1="139.04" y1="378.7" x2="139.04" y2="380.9" stroke="#2a2a2a" stroke-width="1"/>
<text x="139.04" y="388.6" font-size="5.6" fill="#3a3a3a" text-anchor="middle" stroke="#3a3a3a" stroke-width="0.1">16</text>
<line x1="160.2" y1="378.7" x2="160.2" y2="380.9" stroke="#2a2a2a" stroke-width="1"/>
<text x="160.2" y="388.6" font-size="5.6" fill="#3a3a3a" text-anchor="middle" stroke="#3a3a3a" stroke-width="0.1">>20</text>
<text x="48.6" y="388.6" font-size="5.6" fill="#3a3a3a" text-anchor="end" stroke="#3a3a3a" stroke-width="0.1">dpi</text>
<line x1="54.4" y1="310.8" x2="160.2" y2="310.8" stroke="#8a6a6a" stroke-width="0.9"/>
<polyline points="59.69,310.8 59.69,344.75 70.27,344.75 70.27,356.09 75.56,356.09 75.56,378.7" fill="none" stroke="#222" stroke-width="1.1"/>
<polyline points="70.27,310.8 70.27,324.38 80.85,324.38 80.85,337.96 86.14,337.96 86.14,351.54 96.72,351.54 96.72,365.12 102.01,365.12 102.01,378.7" fill="none" stroke="#2a2a4a" stroke-width="1.1"/>
<rect x="73.47" y="308.71" width="4.17" height="4.17" fill="#961c1c" stroke="#000" stroke-width="0.6"/>
<rect x="94.63" y="308.71" width="4.17" height="4.17" fill="#961c1c" stroke="#000" stroke-width="0.6"/>
<rect x="115.79" y="308.71" width="4.17" height="4.17" fill="#961c1c" stroke="#000" stroke-width="0.6"/>
<rect x="136.95" y="308.71" width="4.17" height="4.17" fill="#961c1c" stroke="#000" stroke-width="0.6"/>
<rect x="158.11" y="308.71" width="4.17" height="4.17" fill="#961c1c" stroke="#000" stroke-width="0.6"/>
<rect x="57.6" y="342.66" width="4.17" height="4.17" fill="#111" stroke="#000" stroke-width="0.6"/>
<rect x="68.18" y="354" width="4.17" height="4.17" fill="#111" stroke="#000" stroke-width="0.6"/>
<rect x="73.47" y="376.61" width="4.17" height="4.17" fill="#111" stroke="#000" stroke-width="0.6"/>
<rect x="68.18" y="322.29" width="4.17" height="4.17" fill="#1e1e82" stroke="#000" stroke-width="0.6"/>
<rect x="78.76" y="335.87" width="4.17" height="4.17" fill="#1e1e82" stroke="#000" stroke-width="0.6"/>
<rect x="84.05" y="349.45" width="4.17" height="4.17" fill="#1e1e82" stroke="#000" stroke-width="0.6"/>
<rect x="94.63" y="363.03" width="4.17" height="4.17" fill="#1e1e82" stroke="#000" stroke-width="0.6"/>
<rect x="99.92" y="376.61" width="4.17" height="4.17" fill="#1e1e82" stroke="#000" stroke-width="0.6"/>
<text x="20.1" y="342.4" font-size="9.4" fill="#111" stroke="#111" stroke-width="0.18" font-style="italic" text-anchor="middle" transform="rotate(-90 20.1 342.4)">Tlr3<tspan font-size="5.17" dy="-3.57">&#8211;/&#8211;</tspan></text>
<text x="30" y="343.1" font-size="9.6" fill="#111" text-anchor="middle" transform="rotate(-90 30 343.1)" textLength="33" lengthAdjust="spacingAndGlyphs" stroke="#111" stroke-width="0.16">Survival</text>
<text x="35.7" y="343" font-size="5.2" fill="#444" text-anchor="middle" transform="rotate(-90 35.7 343)" stroke="#444" stroke-width="0.16">(%)</text>
<text x="176.6" y="189.6" font-size="14.2" fill="#000" font-weight="bold" stroke="#000" stroke-width="0.16">D</text>
<line x1="223" y1="267.8" x2="223" y2="198.2" stroke="#2a2a2a" stroke-width="1.1"/>
<line x1="218.8" y1="267.3" x2="223" y2="267.3" stroke="#2a2a2a" stroke-width="1"/>
<text x="216" y="269.35" font-size="5.7" fill="#333" text-anchor="end" stroke="#3a3a3a" stroke-width="0.1">0</text>
<line x1="218.8" y1="253.58" x2="223" y2="253.58" stroke="#2a2a2a" stroke-width="1"/>
<text x="216" y="255.63" font-size="5.7" fill="#333" text-anchor="end" stroke="#3a3a3a" stroke-width="0.1">2</text>
<line x1="218.8" y1="239.86" x2="223" y2="239.86" stroke="#2a2a2a" stroke-width="1"/>
<text x="216" y="241.91" font-size="5.7" fill="#333" text-anchor="end" stroke="#3a3a3a" stroke-width="0.1">4</text>
<line x1="218.8" y1="226.14" x2="223" y2="226.14" stroke="#2a2a2a" stroke-width="1"/>
<text x="216" y="228.19" font-size="5.7" fill="#333" text-anchor="end" stroke="#3a3a3a" stroke-width="0.1">6</text>
<line x1="218.8" y1="212.42" x2="223" y2="212.42" stroke="#2a2a2a" stroke-width="1"/>
<text x="216" y="214.47" font-size="5.7" fill="#333" text-anchor="end" stroke="#3a3a3a" stroke-width="0.1">8</text>
<line x1="218.8" y1="198.7" x2="223" y2="198.7" stroke="#2a2a2a" stroke-width="1"/>
<text x="216" y="200.75" font-size="5.7" fill="#333" text-anchor="end" stroke="#3a3a3a" stroke-width="0.1">10</text>
<line x1="218.8" y1="267.3" x2="328.8" y2="267.3" stroke="#2a2a2a" stroke-width="1.1"/>
<line x1="240.6" y1="267.3" x2="240.6" y2="269.5" stroke="#2a2a2a" stroke-width="1"/>
<line x1="276.5" y1="267.3" x2="276.5" y2="269.5" stroke="#2a2a2a" stroke-width="1"/>
<line x1="311.2" y1="267.3" x2="311.2" y2="269.5" stroke="#2a2a2a" stroke-width="1"/>
<text x="188.4" y="232" font-size="9.7" fill="#111" text-anchor="middle" transform="rotate(-90 188.4 232)" textLength="37.2" lengthAdjust="spacingAndGlyphs" stroke="#111" stroke-width="0.16">C57BL/6</text>
<text x="198.6" y="232.2" font-size="9.6" fill="#111" text-anchor="middle" transform="rotate(-90 198.6 232.2)" textLength="43" lengthAdjust="spacingAndGlyphs" stroke="#111" stroke-width="0.16">CFU/Lung</text>
<text x="205.2" y="232.3" font-size="5.2" fill="#333" stroke="#333" stroke-width="0.12" text-anchor="middle" transform="rotate(-90 205.2 232.3)">(x10<tspan font-size="3.64" dy="-1.82">7</tspan><tspan dy="1.82">)</tspan></text>
<text x="218" y="278" font-size="6" fill="#3a3a3a" text-anchor="end" stroke="#3a3a3a" stroke-width="0.1">Vaccination</text>
<text x="240.6" y="278" font-size="6" fill="#3a3a3a" text-anchor="middle" stroke="#3a3a3a" stroke-width="0.1">Ct</text>
<text x="276.5" y="277.4" font-size="6" fill="#3a3a3a" text-anchor="middle" font-style="italic" stroke="#3a3a3a" stroke-width="0.1">Aspergillus</text>
<text x="276.5" y="285.2" font-size="6" fill="#3a3a3a" text-anchor="middle" stroke="#3a3a3a" stroke-width="0.1">conidia</text>
<text x="311.2" y="277.4" font-size="6" fill="#3a3a3a" text-anchor="middle" stroke="#3a3a3a" stroke-width="0.1">Crf1p</text>
<polyline points="240.6,218 240.6,199.2 311.2,199.2 311.2,251" fill="none" stroke="#8a8a8a" stroke-width="0.8"/>
<line x1="277.1" y1="199.2" x2="277.1" y2="253" stroke="#8a8a8a" stroke-width="0.8"/>
<text x="258.7" y="200.99" font-size="8.6" fill="#000" text-anchor="middle" stroke="#000" stroke-width="0.3">***</text>
<text x="295.8" y="200.99" font-size="8.6" fill="#000" text-anchor="middle" stroke="#000" stroke-width="0.3">**</text>
<rect x="238.51" y="220.01" width="4.17" height="4.17" fill="#111"/>
<rect x="233.21" y="236.91" width="4.17" height="4.17" fill="#111"/>
<rect x="238.51" y="237.71" width="4.17" height="4.17" fill="#111"/>
<rect x="233.21" y="243.21" width="4.17" height="4.17" fill="#111"/>
<rect x="243.91" y="244.51" width="4.17" height="4.17" fill="#111"/>
<rect x="238.51" y="247.31" width="4.17" height="4.17" fill="#111"/>
<rect x="268.42" y="254.32" width="3.96" height="3.96" fill="#1e1e82" stroke="#000" stroke-width="0.6"/>
<rect x="273.82" y="256.82" width="3.96" height="3.96" fill="#1e1e82" stroke="#000" stroke-width="0.6"/>
<rect x="268.42" y="264.22" width="3.96" height="3.96" fill="#1e1e82" stroke="#000" stroke-width="0.6"/>
<rect x="273.82" y="264.62" width="3.96" height="3.96" fill="#1e1e82" stroke="#000" stroke-width="0.6"/>
<rect x="278.82" y="264.22" width="3.96" height="3.96" fill="#1e1e82" stroke="#000" stroke-width="0.6"/>
<rect x="276.32" y="262.82" width="3.96" height="3.96" fill="#1e1e82" stroke="#000" stroke-width="0.6"/>
<rect x="309.22" y="251.52" width="3.96" height="3.96" fill="#961c1c" stroke="#000" stroke-width="0.6"/>
<rect x="304.02" y="254.32" width="3.96" height="3.96" fill="#961c1c" stroke="#000" stroke-width="0.6"/>
<rect x="309.22" y="256.82" width="3.96" height="3.96" fill="#961c1c" stroke="#000" stroke-width="0.6"/>
<rect x="304.02" y="261.12" width="3.96" height="3.96" fill="#961c1c" stroke="#000" stroke-width="0.6"/>
<rect x="309.22" y="263.62" width="3.96" height="3.96" fill="#961c1c" stroke="#000" stroke-width="0.6"/>
<rect x="314.32" y="262.62" width="3.96" height="3.96" fill="#961c1c" stroke="#000" stroke-width="0.6"/>
<line x1="228.7" y1="240.7" x2="252.5" y2="240.7" stroke="#000" stroke-width="1.2"/>
<line x1="264" y1="263.3" x2="287.7" y2="263.3" stroke="#000" stroke-width="1.2"/>
<line x1="298.7" y1="260.4" x2="323" y2="260.4" stroke="#000" stroke-width="1.2"/>
<line x1="222.5" y1="379.2" x2="222.5" y2="309.7" stroke="#2a2a2a" stroke-width="1.1"/>
<line x1="218.3" y1="378.7" x2="222.5" y2="378.7" stroke="#2a2a2a" stroke-width="1"/>
<text x="215.5" y="380.75" font-size="5.7" fill="#333" text-anchor="end" stroke="#3a3a3a" stroke-width="0.1">0</text>
<line x1="218.3" y1="365" x2="222.5" y2="365" stroke="#2a2a2a" stroke-width="1"/>
<text x="215.5" y="367.05" font-size="5.7" fill="#333" text-anchor="end" stroke="#3a3a3a" stroke-width="0.1">3</text>
<line x1="218.3" y1="351.3" x2="222.5" y2="351.3" stroke="#2a2a2a" stroke-width="1"/>
<text x="215.5" y="353.35" font-size="5.7" fill="#333" text-anchor="end" stroke="#3a3a3a" stroke-width="0.1">6</text>
<line x1="218.3" y1="337.6" x2="222.5" y2="337.6" stroke="#2a2a2a" stroke-width="1"/>
<text x="215.5" y="339.65" font-size="5.7" fill="#333" text-anchor="end" stroke="#3a3a3a" stroke-width="0.1">9</text>
<line x1="218.3" y1="323.9" x2="222.5" y2="323.9" stroke="#2a2a2a" stroke-width="1"/>
<text x="215.5" y="325.95" font-size="5.7" fill="#333" text-anchor="end" stroke="#3a3a3a" stroke-width="0.1">12</text>
<line x1="218.3" y1="310.2" x2="222.5" y2="310.2" stroke="#2a2a2a" stroke-width="1"/>
<text x="215.5" y="312.25" font-size="5.7" fill="#333" text-anchor="end" stroke="#3a3a3a" stroke-width="0.1">15</text>
<line x1="218.3" y1="378.7" x2="328.4" y2="378.7" stroke="#2a2a2a" stroke-width="1.1"/>
<line x1="240.2" y1="378.7" x2="240.2" y2="380.9" stroke="#2a2a2a" stroke-width="1"/>
<line x1="276.5" y1="378.7" x2="276.5" y2="380.9" stroke="#2a2a2a" stroke-width="1"/>
<line x1="311.5" y1="378.7" x2="311.5" y2="380.9" stroke="#2a2a2a" stroke-width="1"/>
<text x="186.8" y="343" font-size="9.4" fill="#111" stroke="#111" stroke-width="0.18" font-style="italic" text-anchor="middle" transform="rotate(-90 186.8 343)">Tlr3<tspan font-size="5.17" dy="-3.57">&#8211;/&#8211;</tspan></text>
<text x="198.2" y="343.4" font-size="9.6" fill="#111" text-anchor="middle" transform="rotate(-90 198.2 343.4)" textLength="43.2" lengthAdjust="spacingAndGlyphs" stroke="#111" stroke-width="0.16">CFU/Lung</text>
<text x="204.3" y="343" font-size="5.2" fill="#333" stroke="#333" stroke-width="0.12" text-anchor="middle" transform="rotate(-90 204.3 343)">(x10<tspan font-size="3.64" dy="-1.82">7</tspan><tspan dy="1.82">)</tspan></text>
<text x="218" y="388.6" font-size="6" fill="#3a3a3a" text-anchor="end" stroke="#3a3a3a" stroke-width="0.1">Vaccination</text>
<text x="240.2" y="390" font-size="6" fill="#3a3a3a" text-anchor="middle" stroke="#3a3a3a" stroke-width="0.1">Ct</text>
<text x="276.5" y="390" font-size="6" fill="#3a3a3a" text-anchor="middle" font-style="italic" stroke="#3a3a3a" stroke-width="0.1">Aspergillus</text>
<text x="276.5" y="397" font-size="6" fill="#3a3a3a" text-anchor="middle" stroke="#3a3a3a" stroke-width="0.1">conidia</text>
<text x="311.5" y="390" font-size="6" fill="#3a3a3a" text-anchor="middle" stroke="#3a3a3a" stroke-width="0.1">Crf1p</text>
<polyline points="240.2,332 240.2,302.1 311.5,302.1 311.5,374.6" fill="none" stroke="#8a8a8a" stroke-width="0.8"/>
<line x1="277.5" y1="302.1" x2="277.5" y2="305.4" stroke="#8a8a8a" stroke-width="0.8"/>
<text x="259.2" y="303.69" font-size="8.6" fill="#000" text-anchor="middle" stroke="#000" stroke-width="0.3">***</text>
<text x="295.2" y="303.69" font-size="8.6" fill="#000" text-anchor="middle" stroke="#000" stroke-width="0.3">***</text>
<rect x="238.11" y="335.51" width="4.17" height="4.17" fill="#111"/>
<rect x="232.71" y="340.51" width="4.17" height="4.17" fill="#111"/>
<rect x="238.11" y="343.81" width="4.17" height="4.17" fill="#111"/>
<rect x="232.71" y="347.71" width="4.17" height="4.17" fill="#111"/>
<rect x="243.41" y="349.41" width="4.17" height="4.17" fill="#111"/>
<rect x="238.11" y="352.01" width="4.17" height="4.17" fill="#111"/>
<rect x="273.02" y="308.62" width="3.96" height="3.96" fill="#1e1e82" stroke="#000" stroke-width="0.6"/>
<rect x="278.42" y="307.82" width="3.96" height="3.96" fill="#1e1e82" stroke="#000" stroke-width="0.6"/>
<rect x="267.82" y="314.02" width="3.96" height="3.96" fill="#1e1e82" stroke="#000" stroke-width="0.6"/>
<rect x="278.42" y="312.62" width="3.96" height="3.96" fill="#1e1e82" stroke="#000" stroke-width="0.6"/>
<rect x="273.02" y="316.52" width="3.96" height="3.96" fill="#1e1e82" stroke="#000" stroke-width="0.6"/>
<rect x="273.02" y="322.02" width="3.96" height="3.96" fill="#1e1e82" stroke="#000" stroke-width="0.6"/>
<rect x="302.68" y="374.78" width="3.64" height="3.64" fill="#c01c1c" stroke="#000" stroke-width="0.6"/>
<rect x="306.68" y="375.18" width="3.64" height="3.64" fill="#c01c1c" stroke="#000" stroke-width="0.6"/>
<rect x="310.68" y="375.18" width="3.64" height="3.64" fill="#c01c1c" stroke="#000" stroke-width="0.6"/>
<rect x="314.18" y="374.38" width="3.64" height="3.64" fill="#c01c1c" stroke="#000" stroke-width="0.6"/>
<rect x="316.78" y="372.18" width="3.64" height="3.64" fill="#c01c1c" stroke="#000" stroke-width="0.6"/>
<rect x="308.68" y="373.78" width="3.64" height="3.64" fill="#c01c1c" stroke="#000" stroke-width="0.6"/>
<line x1="228.7" y1="347" x2="252" y2="347" stroke="#000" stroke-width="1.2"/>
<line x1="263" y1="315.6" x2="287" y2="315.6" stroke="#000" stroke-width="1.2"/>
<line x1="299" y1="377.9" x2="323" y2="377.9" stroke="#000" stroke-width="1.2"/>
<text x="348.5" y="189.6" font-size="14" fill="#000" font-weight="bold" stroke="#000" stroke-width="0.16">E</text>
<line x1="387.5" y1="268.6" x2="387.5" y2="199.1" stroke="#2a2a2a" stroke-width="1.1"/>
<line x1="383.7" y1="268.1" x2="387.5" y2="268.1" stroke="#2a2a2a" stroke-width="1"/>
<text x="382.3" y="270.15" font-size="5.7" fill="#333" text-anchor="end" stroke="#3a3a3a" stroke-width="0.1">0</text>
<line x1="383.7" y1="254.4" x2="387.5" y2="254.4" stroke="#2a2a2a" stroke-width="1"/>
<text x="382.3" y="256.45" font-size="5.7" fill="#333" text-anchor="end" stroke="#3a3a3a" stroke-width="0.1">10</text>
<line x1="383.7" y1="240.7" x2="387.5" y2="240.7" stroke="#2a2a2a" stroke-width="1"/>
<text x="382.3" y="242.75" font-size="5.7" fill="#333" text-anchor="end" stroke="#3a3a3a" stroke-width="0.1">20</text>
<line x1="383.7" y1="227" x2="387.5" y2="227" stroke="#2a2a2a" stroke-width="1"/>
<text x="382.3" y="229.05" font-size="5.7" fill="#333" text-anchor="end" stroke="#3a3a3a" stroke-width="0.1">30</text>
<line x1="383.7" y1="213.3" x2="387.5" y2="213.3" stroke="#2a2a2a" stroke-width="1"/>
<text x="382.3" y="215.35" font-size="5.7" fill="#333" text-anchor="end" stroke="#3a3a3a" stroke-width="0.1">40</text>
<line x1="383.7" y1="199.6" x2="387.5" y2="199.6" stroke="#2a2a2a" stroke-width="1"/>
<text x="382.3" y="201.65" font-size="5.7" fill="#333" text-anchor="end" stroke="#3a3a3a" stroke-width="0.1">50</text>
<line x1="383.7" y1="268.1" x2="493.6" y2="268.1" stroke="#2a2a2a" stroke-width="1.1"/>
<rect x="390.3" y="266.73" width="4.8" height="1.37" fill="#fff" stroke="#555" stroke-width="0.6"/>
<rect x="395.6" y="257.14" width="4.8" height="10.96" fill="#000"/>
<line x1="398" y1="257.14" x2="398" y2="252.35" stroke="#111" stroke-width="0.8"/>
<line x1="396.8" y1="252.35" x2="399.2" y2="252.35" stroke="#111" stroke-width="0.8"/>
<rect x="400.9" y="226.31" width="4.8" height="41.79" fill="#1010b8"/>
<line x1="403.3" y1="226.31" x2="403.3" y2="222.89" stroke="#111" stroke-width="0.8"/>
<line x1="402.1" y1="222.89" x2="404.5" y2="222.89" stroke="#111" stroke-width="0.8"/>
<rect x="406.2" y="231.8" width="4.8" height="36.31" fill="#dd1a1a"/>
<line x1="408.6" y1="231.8" x2="408.6" y2="228.37" stroke="#111" stroke-width="0.8"/>
<line x1="407.4" y1="228.37" x2="409.8" y2="228.37" stroke="#111" stroke-width="0.8"/>
<line x1="400.65" y1="268.1" x2="400.65" y2="270.1" stroke="#2a2a2a" stroke-width="1"/>
<rect x="416.5" y="267" width="4.8" height="1.1" fill="#fff" stroke="#555" stroke-width="0.6"/>
<rect x="421.8" y="241.66" width="4.8" height="26.44" fill="#000"/>
<line x1="424.2" y1="241.66" x2="424.2" y2="240.97" stroke="#111" stroke-width="0.8"/>
<line x1="423" y1="240.97" x2="425.4" y2="240.97" stroke="#111" stroke-width="0.8"/>
<rect x="427.1" y="226.31" width="4.8" height="41.79" fill="#1010b8"/>
<line x1="429.5" y1="226.31" x2="429.5" y2="214.67" stroke="#111" stroke-width="0.8"/>
<line x1="428.3" y1="214.67" x2="430.7" y2="214.67" stroke="#111" stroke-width="0.8"/>
<rect x="432.4" y="251.25" width="4.8" height="16.85" fill="#dd1a1a"/>
<line x1="434.8" y1="251.25" x2="434.8" y2="244.12" stroke="#111" stroke-width="0.8"/>
<line x1="433.6" y1="244.12" x2="436" y2="244.12" stroke="#111" stroke-width="0.8"/>
<line x1="426.85" y1="268.1" x2="426.85" y2="270.1" stroke="#2a2a2a" stroke-width="1"/>
<rect x="442.7" y="267.1" width="4.8" height="1" fill="#fff" stroke="#555" stroke-width="0.6"/>
<rect x="448" y="263.99" width="4.8" height="4.11" fill="#000"/>
<line x1="450.4" y1="263.99" x2="450.4" y2="263.17" stroke="#111" stroke-width="0.8"/>
<line x1="449.2" y1="263.17" x2="451.6" y2="263.17" stroke="#111" stroke-width="0.8"/>
<rect x="453.3" y="257.83" width="4.8" height="10.28" fill="#1010b8"/>
<line x1="455.7" y1="257.83" x2="455.7" y2="254.4" stroke="#111" stroke-width="0.8"/>
<line x1="454.5" y1="254.4" x2="456.9" y2="254.4" stroke="#111" stroke-width="0.8"/>
<rect x="458.6" y="266.73" width="4.8" height="1.37" fill="#dd1a1a"/>
<line x1="453.05" y1="268.1" x2="453.05" y2="270.1" stroke="#2a2a2a" stroke-width="1"/>
<rect x="468.9" y="267" width="4.8" height="1.1" fill="#fff" stroke="#555" stroke-width="0.6"/>
<rect x="474.2" y="258.1" width="4.8" height="10" fill="#000"/>
<line x1="476.6" y1="258.1" x2="476.6" y2="253.44" stroke="#111" stroke-width="0.8"/>
<line x1="475.4" y1="253.44" x2="477.8" y2="253.44" stroke="#111" stroke-width="0.8"/>
<rect x="479.5" y="239.33" width="4.8" height="28.77" fill="#1010b8"/>
<line x1="481.9" y1="239.33" x2="481.9" y2="238.51" stroke="#111" stroke-width="0.8"/>
<line x1="480.7" y1="238.51" x2="483.1" y2="238.51" stroke="#111" stroke-width="0.8"/>
<rect x="484.8" y="235.91" width="4.8" height="32.2" fill="#dd1a1a"/>
<line x1="487.2" y1="235.91" x2="487.2" y2="235.22" stroke="#111" stroke-width="0.8"/>
<line x1="486" y1="235.22" x2="488.4" y2="235.22" stroke="#111" stroke-width="0.8"/>
<line x1="479.25" y1="268.1" x2="479.25" y2="270.1" stroke="#2a2a2a" stroke-width="1"/>
<polyline points="397.6,251.5 397.6,190.6 407.7,190.6 407.7,227.5" fill="none" stroke="#8a8a8a" stroke-width="0.8"/>
<text x="403.2" y="191.79" font-size="8.6" fill="#000" text-anchor="middle" stroke="#000" stroke-width="0.3">*</text>
<polyline points="398.6,251.5 398.6,198.4 403.4,198.4 403.4,221.5" fill="none" stroke="#8a8a8a" stroke-width="0.8"/>
<text x="401.2" y="199.59" font-size="8.6" fill="#000" text-anchor="middle" stroke="#000" stroke-width="0.3">**</text>
<polyline points="475.6,252.5 475.6,191.4 485.9,191.4 485.9,234.2" fill="none" stroke="#8a8a8a" stroke-width="0.8"/>
<text x="481.4" y="192.49" font-size="8.6" fill="#000" text-anchor="middle" stroke="#000" stroke-width="0.3">**</text>
<polyline points="476.4,252.5 476.4,199.2 481.3,199.2 481.3,238.3" fill="none" stroke="#8a8a8a" stroke-width="0.8"/>
<text x="480.4" y="200.59" font-size="8.6" fill="#000" text-anchor="middle" stroke="#000" stroke-width="0.3">*</text>
<text x="400.6" y="277.6" font-size="6" fill="#3a3a3a" text-anchor="middle" font-style="italic" stroke="#3a3a3a" stroke-width="0.1">Ifng</text>
<text x="426.8" y="277.6" font-size="6" fill="#3a3a3a" text-anchor="middle" font-style="italic" stroke="#3a3a3a" stroke-width="0.1">Il17a</text>
<text x="453" y="277.6" font-size="6" fill="#3a3a3a" text-anchor="middle" font-style="italic" stroke="#3a3a3a" stroke-width="0.1">Il4</text>
<text x="479.2" y="277.6" font-size="6" fill="#3a3a3a" text-anchor="middle" font-style="italic" stroke="#3a3a3a" stroke-width="0.1">Il10</text>
<text x="360" y="232.7" font-size="9.7" fill="#111" text-anchor="middle" transform="rotate(-90 360 232.7)" textLength="37.1" lengthAdjust="spacingAndGlyphs" stroke="#111" stroke-width="0.16">C57BL/6</text>
<text x="368.3" y="232.5" font-size="5" fill="#222" text-anchor="middle" transform="rotate(-90 368.3 232.5)" textLength="53" lengthAdjust="spacingAndGlyphs" stroke="#222" stroke-width="0.16">mRNA fold increase</text>
<rect x="360.8" y="289.5" width="5.6" height="6.2" fill="#fff" stroke="#333" stroke-width="0.6"/>
<text x="370" y="295.3" font-size="6.3" fill="#222" textLength="10.8" lengthAdjust="spacingAndGlyphs" stroke="#222" stroke-width="0.16">Naive</text>
<rect x="392.4" y="289.2" width="6.1" height="6.8" fill="#000"/>
<text x="401.4" y="295.3" font-size="6.3" fill="#222" stroke="#222" stroke-width="0.16">Ct</text>
<rect x="413" y="289.2" width="6.2" height="6.8" fill="#1010d8"/>
<text x="423.2" y="295.3" font-size="6.3" fill="#222" stroke="#222" stroke-width="0.18" textLength="49.8" lengthAdjust="spacingAndGlyphs"><tspan font-style="italic">Aspergillus</tspan> conidia</text>
<rect x="479.2" y="289.2" width="6.3" height="6.8" fill="#d81818"/>
<text x="489" y="295.3" font-size="6.3" fill="#222" textLength="14.8" lengthAdjust="spacingAndGlyphs" stroke="#222" stroke-width="0.16">Crf1p</text>
<line x1="387.5" y1="378.9" x2="387.5" y2="309.7" stroke="#2a2a2a" stroke-width="1.1"/>
<line x1="383.7" y1="378.4" x2="387.5" y2="378.4" stroke="#2a2a2a" stroke-width="1"/>
<text x="382.3" y="380.45" font-size="5.7" fill="#333" text-anchor="end" stroke="#3a3a3a" stroke-width="0.1">0</text>
<line x1="383.7" y1="364.76" x2="387.5" y2="364.76" stroke="#2a2a2a" stroke-width="1"/>
<text x="382.3" y="366.81" font-size="5.7" fill="#333" text-anchor="end" stroke="#3a3a3a" stroke-width="0.1">10</text>
<line x1="383.7" y1="351.12" x2="387.5" y2="351.12" stroke="#2a2a2a" stroke-width="1"/>
<text x="382.3" y="353.17" font-size="5.7" fill="#333" text-anchor="end" stroke="#3a3a3a" stroke-width="0.1">20</text>
<line x1="383.7" y1="337.48" x2="387.5" y2="337.48" stroke="#2a2a2a" stroke-width="1"/>
<text x="382.3" y="339.53" font-size="5.7" fill="#333" text-anchor="end" stroke="#3a3a3a" stroke-width="0.1">30</text>
<line x1="383.7" y1="323.84" x2="387.5" y2="323.84" stroke="#2a2a2a" stroke-width="1"/>
<text x="382.3" y="325.89" font-size="5.7" fill="#333" text-anchor="end" stroke="#3a3a3a" stroke-width="0.1">40</text>
<line x1="383.7" y1="310.2" x2="387.5" y2="310.2" stroke="#2a2a2a" stroke-width="1"/>
<text x="382.3" y="312.25" font-size="5.7" fill="#333" text-anchor="end" stroke="#3a3a3a" stroke-width="0.1">50</text>
<line x1="383.7" y1="378.4" x2="493.6" y2="378.4" stroke="#2a2a2a" stroke-width="1.1"/>
<rect x="390.3" y="377.4" width="4.8" height="1" fill="#fff" stroke="#555" stroke-width="0.6"/>
<rect x="395.6" y="375.67" width="4.8" height="2.73" fill="#000"/>
<line x1="398" y1="375.67" x2="398" y2="375.26" stroke="#111" stroke-width="0.8"/>
<line x1="396.8" y1="375.26" x2="399.2" y2="375.26" stroke="#111" stroke-width="0.8"/>
<rect x="400.9" y="372.94" width="4.8" height="5.46" fill="#1010b8"/>
<line x1="403.3" y1="372.94" x2="403.3" y2="372.13" stroke="#111" stroke-width="0.8"/>
<line x1="402.1" y1="372.13" x2="404.5" y2="372.13" stroke="#111" stroke-width="0.8"/>
<rect x="406.2" y="347.03" width="4.8" height="31.37" fill="#dd1a1a"/>
<line x1="408.6" y1="347.03" x2="408.6" y2="344.3" stroke="#111" stroke-width="0.8"/>
<line x1="407.4" y1="344.3" x2="409.8" y2="344.3" stroke="#111" stroke-width="0.8"/>
<line x1="400.65" y1="378.4" x2="400.65" y2="380.4" stroke="#2a2a2a" stroke-width="1"/>
<rect x="416.5" y="377.4" width="4.8" height="1" fill="#fff" stroke="#555" stroke-width="0.6"/>
<rect x="421.8" y="330.8" width="4.8" height="47.6" fill="#000"/>
<line x1="424.2" y1="330.8" x2="424.2" y2="329.02" stroke="#111" stroke-width="0.8"/>
<line x1="423" y1="329.02" x2="425.4" y2="329.02" stroke="#111" stroke-width="0.8"/>
<rect x="427.1" y="320.16" width="4.8" height="58.24" fill="#1010b8"/>
<line x1="429.5" y1="320.16" x2="429.5" y2="319.48" stroke="#111" stroke-width="0.8"/>
<line x1="428.3" y1="319.48" x2="430.7" y2="319.48" stroke="#111" stroke-width="0.8"/>
<rect x="432.4" y="353.58" width="4.8" height="24.82" fill="#dd1a1a"/>
<line x1="434.8" y1="353.58" x2="434.8" y2="349.76" stroke="#111" stroke-width="0.8"/>
<line x1="433.6" y1="349.76" x2="436" y2="349.76" stroke="#111" stroke-width="0.8"/>
<line x1="426.85" y1="378.4" x2="426.85" y2="380.4" stroke="#2a2a2a" stroke-width="1"/>
<rect x="442.7" y="377.4" width="4.8" height="1" fill="#fff" stroke="#555" stroke-width="0.6"/>
<rect x="448" y="367.49" width="4.8" height="10.91" fill="#000"/>
<line x1="450.4" y1="367.49" x2="450.4" y2="363.4" stroke="#111" stroke-width="0.8"/>
<line x1="449.2" y1="363.4" x2="451.6" y2="363.4" stroke="#111" stroke-width="0.8"/>
<rect x="453.3" y="351.67" width="4.8" height="26.73" fill="#1010b8"/>
<line x1="455.7" y1="351.67" x2="455.7" y2="348.12" stroke="#111" stroke-width="0.8"/>
<line x1="454.5" y1="348.12" x2="456.9" y2="348.12" stroke="#111" stroke-width="0.8"/>
<rect x="458.6" y="369.94" width="4.8" height="8.46" fill="#dd1a1a"/>
<line x1="461" y1="369.94" x2="461" y2="368.85" stroke="#111" stroke-width="0.8"/>
<line x1="459.8" y1="368.85" x2="462.2" y2="368.85" stroke="#111" stroke-width="0.8"/>
<line x1="453.05" y1="378.4" x2="453.05" y2="380.4" stroke="#2a2a2a" stroke-width="1"/>
<rect x="468.9" y="377.4" width="4.8" height="1" fill="#fff" stroke="#555" stroke-width="0.6"/>
<rect x="474.2" y="371.17" width="4.8" height="7.23" fill="#000"/>
<line x1="476.6" y1="371.17" x2="476.6" y2="368.58" stroke="#111" stroke-width="0.8"/>
<line x1="475.4" y1="368.58" x2="477.8" y2="368.58" stroke="#111" stroke-width="0.8"/>
<rect x="479.5" y="366.81" width="4.8" height="11.59" fill="#1010b8"/>
<line x1="481.9" y1="366.81" x2="481.9" y2="363.4" stroke="#111" stroke-width="0.8"/>
<line x1="480.7" y1="363.4" x2="483.1" y2="363.4" stroke="#111" stroke-width="0.8"/>
<rect x="484.8" y="351.67" width="4.8" height="26.73" fill="#dd1a1a"/>
<line x1="487.2" y1="351.67" x2="487.2" y2="349.48" stroke="#111" stroke-width="0.8"/>
<line x1="486" y1="349.48" x2="488.4" y2="349.48" stroke="#111" stroke-width="0.8"/>
<line x1="479.25" y1="378.4" x2="479.25" y2="380.4" stroke="#2a2a2a" stroke-width="1"/>
<polyline points="398,374 398,310.2 408.4,310.2 408.4,344" fill="none" stroke="#8a8a8a" stroke-width="0.8"/>
<text x="403.2" y="311.19" font-size="8.6" fill="#000" text-anchor="middle" stroke="#000" stroke-width="0.3">***</text>
<polyline points="423.5,329.6 423.5,310.2 433.8,310.2 433.8,319.2" fill="none" stroke="#8a8a8a" stroke-width="0.8"/>
<text x="428.7" y="311.19" font-size="8.6" fill="#000" text-anchor="middle" stroke="#000" stroke-width="0.3">***</text>
<polyline points="449.8,362.5 449.8,310.6 455.5,310.6 455.5,347.8" fill="none" stroke="#8a8a8a" stroke-width="0.8"/>
<text x="453.4" y="310.79" font-size="8.6" fill="#000" text-anchor="middle" stroke="#000" stroke-width="0.3">*</text>
<polyline points="476.2,368 476.2,310.6 486.6,310.6 486.6,349.5" fill="none" stroke="#8a8a8a" stroke-width="0.8"/>
<text x="481.4" y="311.19" font-size="8.6" fill="#000" text-anchor="middle" stroke="#000" stroke-width="0.3">**</text>
<text x="400.6" y="388" font-size="6" fill="#3a3a3a" text-anchor="middle" font-style="italic" stroke="#3a3a3a" stroke-width="0.1">Ifng</text>
<text x="426.8" y="388" font-size="6" fill="#3a3a3a" text-anchor="middle" font-style="italic" stroke="#3a3a3a" stroke-width="0.1">Il17a</text>
<text x="453" y="388" font-size="6" fill="#3a3a3a" text-anchor="middle" font-style="italic" stroke="#3a3a3a" stroke-width="0.1">Il4</text>
<text x="479.2" y="388" font-size="6" fill="#3a3a3a" text-anchor="middle" font-style="italic" stroke="#3a3a3a" stroke-width="0.1">Il10</text>
<text x="359.8" y="342.6" font-size="9.4" fill="#111" stroke="#111" stroke-width="0.18" font-style="italic" text-anchor="middle" transform="rotate(-90 359.8 342.6)">Tlr3<tspan font-size="5.17" dy="-3.57">&#8211;/&#8211;</tspan></text>
<text x="368.8" y="343.9" font-size="5" fill="#222" text-anchor="middle" transform="rotate(-90 368.8 343.9)" textLength="52.8" lengthAdjust="spacingAndGlyphs" stroke="#222" stroke-width="0.16">mRNA fold increase</text>
<text x="12.6" y="417.9" font-size="14" fill="#000" font-weight="bold" stroke="#000" stroke-width="0.16">F</text>
<line x1="54.1" y1="497" x2="54.1" y2="427.7" stroke="#2a2a2a" stroke-width="1.1"/>
<line x1="50" y1="496.5" x2="54.1" y2="496.5" stroke="#2a2a2a" stroke-width="1"/>
<text x="48" y="498.55" font-size="5.7" fill="#333" text-anchor="end" stroke="#3a3a3a" stroke-width="0.1">0</text>
<line x1="50" y1="482.84" x2="54.1" y2="482.84" stroke="#2a2a2a" stroke-width="1"/>
<text x="48" y="484.89" font-size="5.7" fill="#333" text-anchor="end" stroke="#3a3a3a" stroke-width="0.1">20</text>
<line x1="50" y1="469.18" x2="54.1" y2="469.18" stroke="#2a2a2a" stroke-width="1"/>
<text x="48" y="471.23" font-size="5.7" fill="#333" text-anchor="end" stroke="#3a3a3a" stroke-width="0.1">40</text>
<line x1="50" y1="455.52" x2="54.1" y2="455.52" stroke="#2a2a2a" stroke-width="1"/>
<text x="48" y="457.57" font-size="5.7" fill="#333" text-anchor="end" stroke="#3a3a3a" stroke-width="0.1">60</text>
<line x1="50" y1="441.86" x2="54.1" y2="441.86" stroke="#2a2a2a" stroke-width="1"/>
<text x="48" y="443.91" font-size="5.7" fill="#333" text-anchor="end" stroke="#3a3a3a" stroke-width="0.1">80</text>
<line x1="50" y1="428.2" x2="54.1" y2="428.2" stroke="#2a2a2a" stroke-width="1"/>
<text x="48" y="430.25" font-size="5.7" fill="#333" text-anchor="end" stroke="#3a3a3a" stroke-width="0.1">100</text>
<line x1="50" y1="496.5" x2="160.2" y2="496.5" stroke="#2a2a2a" stroke-width="1.1"/>
<line x1="54.1" y1="496.5" x2="54.1" y2="498.7" stroke="#2a2a2a" stroke-width="1"/>
<text x="54.1" y="506.4" font-size="5.6" fill="#3a3a3a" text-anchor="middle" stroke="#3a3a3a" stroke-width="0.1">0</text>
<line x1="75.26" y1="496.5" x2="75.26" y2="498.7" stroke="#2a2a2a" stroke-width="1"/>
<text x="75.26" y="506.4" font-size="5.6" fill="#3a3a3a" text-anchor="middle" stroke="#3a3a3a" stroke-width="0.1">4</text>
<line x1="96.42" y1="496.5" x2="96.42" y2="498.7" stroke="#2a2a2a" stroke-width="1"/>
<text x="96.42" y="506.4" font-size="5.6" fill="#3a3a3a" text-anchor="middle" stroke="#3a3a3a" stroke-width="0.1">8</text>
<line x1="117.58" y1="496.5" x2="117.58" y2="498.7" stroke="#2a2a2a" stroke-width="1"/>
<text x="117.58" y="506.4" font-size="5.6" fill="#3a3a3a" text-anchor="middle" stroke="#3a3a3a" stroke-width="0.1">12</text>
<line x1="138.74" y1="496.5" x2="138.74" y2="498.7" stroke="#2a2a2a" stroke-width="1"/>
<text x="138.74" y="506.4" font-size="5.6" fill="#3a3a3a" text-anchor="middle" stroke="#3a3a3a" stroke-width="0.1">16</text>
<line x1="159.9" y1="496.5" x2="159.9" y2="498.7" stroke="#2a2a2a" stroke-width="1"/>
<text x="159.9" y="506.4" font-size="5.6" fill="#3a3a3a" text-anchor="middle" stroke="#3a3a3a" stroke-width="0.1">>20</text>
<text x="48.6" y="506.4" font-size="5.6" fill="#3a3a3a" text-anchor="end" stroke="#3a3a3a" stroke-width="0.1">dpi</text>
<line x1="54.1" y1="428.2" x2="160" y2="428.2" stroke="#6a5a6a" stroke-width="0.9"/>
<polyline points="59.39,428.2 59.39,462.35 75.26,462.35 75.26,496.5" fill="none" stroke="#1e1e1e" stroke-width="1.1"/>
<polyline points="59.39,450.94 64.68,450.94 64.68,462.35 69.97,462.35 69.97,473.76 80.55,473.76 80.55,496.5" fill="none" stroke="#1e1e1e" stroke-width="1.1"/>
<polyline points="64.68,428.2 64.68,439.61 69.97,439.61" fill="none" stroke="#1e1e1e" stroke-width="1.1"/>
<polyline points="69.97,428.2 69.97,473.76" fill="none" stroke="#1e1e1e" stroke-width="1.1"/>
<polyline points="69.97,450.94 80.55,450.94 80.55,462.35 91.13,462.35 91.13,496.5" fill="none" stroke="#1e1e1e" stroke-width="1.1"/>
<rect x="57.11" y="426.11" width="4.17" height="4.17" fill="#1e1e82" stroke="#000" stroke-width="0.6"/>
<circle cx="64.01" cy="428.2" r="2.19" fill="#1e1e82" stroke="#000" stroke-width="0.6"/>
<polygon points="68.82,425.8 71.22,430.12 66.42,430.12" fill="#1a1a3a" stroke="#000" stroke-width="0.6"/>
<rect x="71.54" y="426.11" width="4.17" height="4.17" fill="#961c1c" stroke="#000" stroke-width="0.6"/>
<polygon points="78.44,425.49 81.15,428.2 78.44,430.91 75.73,428.2" fill="#961c1c" stroke="#000" stroke-width="0.6"/>
<polygon points="83.25,430.6 85.65,426.28 80.85,426.28" fill="#3a2a1a" stroke="#000" stroke-width="0.6"/>
<rect x="85.97" y="426.11" width="4.17" height="4.17" fill="#1e1e82" stroke="#000" stroke-width="0.6"/>
<circle cx="92.87" cy="428.2" r="2.19" fill="#1e1e82" stroke="#000" stroke-width="0.6"/>
<polygon points="97.68,425.49 100.39,428.2 97.68,430.91 94.96,428.2" fill="#961c1c" stroke="#000" stroke-width="0.6"/>
<polygon points="102.49,430.6 104.89,426.28 100.09,426.28" fill="#1e1e82" stroke="#000" stroke-width="0.6"/>
<rect x="105.21" y="426.11" width="4.17" height="4.17" fill="#961c1c" stroke="#000" stroke-width="0.6"/>
<circle cx="112.1" cy="428.2" r="2.19" fill="#1e1e82" stroke="#000" stroke-width="0.6"/>
<polygon points="116.91,425.8 119.31,430.12 114.51,430.12" fill="#961c1c" stroke="#000" stroke-width="0.6"/>
<rect x="119.64" y="426.11" width="4.17" height="4.17" fill="#961c1c" stroke="#000" stroke-width="0.6"/>
<polygon points="126.53,425.49 129.25,428.2 126.53,430.91 123.82,428.2" fill="#961c1c" stroke="#000" stroke-width="0.6"/>
<polygon points="131.34,430.6 133.74,426.28 128.94,426.28" fill="#1e1e82" stroke="#000" stroke-width="0.6"/>
<rect x="134.07" y="426.11" width="4.17" height="4.17" fill="#1e1e82" stroke="#000" stroke-width="0.6"/>
<circle cx="140.96" cy="428.2" r="2.19" fill="#1e1e82" stroke="#000" stroke-width="0.6"/>
<polygon points="145.77,425.8 148.17,430.12 143.37,430.12" fill="#1e1e82" stroke="#000" stroke-width="0.6"/>
<rect x="148.49" y="426.11" width="4.17" height="4.17" fill="#961c1c" stroke="#000" stroke-width="0.6"/>
<polygon points="155.39,425.49 158.1,428.2 155.39,430.91 152.68,428.2" fill="#1e1e82" stroke="#000" stroke-width="0.6"/>
<circle cx="160.2" cy="428.2" r="2.19" fill="#1e1e82" stroke="#000" stroke-width="0.6"/>
<polygon points="64.68,442.01 67.08,437.69 62.28,437.69" fill="#1e1e82" stroke="#000" stroke-width="0.6"/>
<circle cx="59.39" cy="450.94" r="2.19" fill="#961c1c" stroke="#000" stroke-width="0.6"/>
<polygon points="59.39,459.64 62.1,462.35 59.39,465.06 56.68,462.35" fill="#1e1e82" stroke="#000" stroke-width="0.6"/>
<circle cx="64.68" cy="462.35" r="2.19" fill="#961c1c" stroke="#000" stroke-width="0.6"/>
<polygon points="69.97,448.54 72.37,452.86 67.57,452.86" fill="#961c1c" stroke="#000" stroke-width="0.6"/>
<polygon points="69.97,459.95 72.37,464.27 67.57,464.27" fill="#1a1a3a" stroke="#000" stroke-width="0.6"/>
<circle cx="69.97" cy="473.76" r="2.19" fill="#961c1c" stroke="#000" stroke-width="0.6"/>
<polygon points="80.55,459.95 82.95,464.27 78.15,464.27" fill="#961c1c" stroke="#000" stroke-width="0.6"/>
<circle cx="75.26" cy="496.5" r="2.19" fill="#961c1c" stroke="#000" stroke-width="0.6"/>
<circle cx="80.55" cy="496.5" r="2.19" fill="#1e1e82" stroke="#000" stroke-width="0.6"/>
<polygon points="91.13,494.1 93.53,498.42 88.73,498.42" fill="#961c1c" stroke="#000" stroke-width="0.6"/>
<text x="160" y="439.6" font-size="6" fill="#3030b0" text-anchor="end" stroke="#3030b0" stroke-width="0.16">Conidia-vaccinated</text>
<text x="160" y="449.2" font-size="6" fill="#c04040" text-anchor="end" stroke="#c04040" stroke-width="0.16">Crf1p-vaccinated</text>
<text x="20.5" y="461.7" font-size="9.7" fill="#111" text-anchor="middle" transform="rotate(-90 20.5 461.7)" textLength="36.7" lengthAdjust="spacingAndGlyphs" stroke="#111" stroke-width="0.16">C57BL/6</text>
<text x="29.6" y="461" font-size="9.6" fill="#111" text-anchor="middle" transform="rotate(-90 29.6 461)" textLength="33.1" lengthAdjust="spacingAndGlyphs" stroke="#111" stroke-width="0.16">Survival</text>
<text x="35.3" y="461.5" font-size="5.2" fill="#444" text-anchor="middle" transform="rotate(-90 35.3 461.5)" stroke="#444" stroke-width="0.16">(%)</text>
<rect x="48.8" y="508.8" width="7.4" height="6.6" fill="#1515d0"/>
<rect x="57.4" y="508.8" width="7.2" height="6.6" fill="#d01818"/>
<text x="67.5" y="514.1" font-size="6.2" fill="#222" stroke="#222" stroke-width="0.16">None</text>
<circle cx="87.9" cy="512" r="3.5" fill="#1515d0"/>
<circle cx="96" cy="512" r="3.5" fill="#d01818"/>
<text x="101" y="514.1" font-size="6.2" fill="#222" stroke="#222" stroke-width="0.16">&#945;CD4</text>
<polygon points="123.8,508 127.6,515.4 120,515.4" fill="#1515d0"/>
<polygon points="131.8,508 135.6,515.4 128,515.4" fill="#d01818"/>
<text x="138" y="514.1" font-size="6.2" fill="#222" stroke="#222" stroke-width="0.16">&#945;MHCII</text>
<polygon points="88.4,518.3 91.6,521.6 88.4,524.9 85.2,521.6" fill="#1515d0"/>
<polygon points="96.3,518.3 99.5,521.6 96.3,524.9 93.1,521.6" fill="#d01818"/>
<text x="101" y="523.7" font-size="6.2" fill="#222" stroke="#222" stroke-width="0.16">&#945;CD8</text>
<polygon points="120,518.4 127.6,518.4 123.8,525.6" fill="#1515d0"/>
<polygon points="128,518.4 135.6,518.4 131.8,525.6" fill="#d01818"/>
<text x="138" y="523.7" font-size="6.2" fill="#222" stroke="#222" stroke-width="0.16">&#945;MHCI</text>
<text x="197.6" y="418.1" font-size="14.4" fill="#000" font-weight="bold" stroke="#000" stroke-width="0.16">G</text>
<line x1="243.5" y1="497.2" x2="243.5" y2="427.1" stroke="#2a2a2a" stroke-width="1.1"/>
<line x1="239.2" y1="496.7" x2="243.5" y2="496.7" stroke="#2a2a2a" stroke-width="1"/>
<text x="236.8" y="498.75" font-size="5.7" fill="#333" text-anchor="end" stroke="#3a3a3a" stroke-width="0.1">0</text>
<line x1="239.2" y1="482.88" x2="243.5" y2="482.88" stroke="#2a2a2a" stroke-width="1"/>
<text x="236.8" y="484.93" font-size="5.7" fill="#333" text-anchor="end" stroke="#3a3a3a" stroke-width="0.1">2</text>
<line x1="239.2" y1="469.06" x2="243.5" y2="469.06" stroke="#2a2a2a" stroke-width="1"/>
<text x="236.8" y="471.11" font-size="5.7" fill="#333" text-anchor="end" stroke="#3a3a3a" stroke-width="0.1">4</text>
<line x1="239.2" y1="455.24" x2="243.5" y2="455.24" stroke="#2a2a2a" stroke-width="1"/>
<text x="236.8" y="457.29" font-size="5.7" fill="#333" text-anchor="end" stroke="#3a3a3a" stroke-width="0.1">6</text>
<line x1="239.2" y1="441.42" x2="243.5" y2="441.42" stroke="#2a2a2a" stroke-width="1"/>
<text x="236.8" y="443.47" font-size="5.7" fill="#333" text-anchor="end" stroke="#3a3a3a" stroke-width="0.1">8</text>
<line x1="239.2" y1="427.6" x2="243.5" y2="427.6" stroke="#2a2a2a" stroke-width="1"/>
<text x="236.8" y="429.65" font-size="5.7" fill="#333" text-anchor="end" stroke="#3a3a3a" stroke-width="0.1">10</text>
<line x1="239.2" y1="496.7" x2="518.5" y2="496.7" stroke="#2a2a2a" stroke-width="1.1"/>
<line x1="256.8" y1="496.7" x2="256.8" y2="498.9" stroke="#2a2a2a" stroke-width="1"/>
<line x1="280.6" y1="496.7" x2="280.6" y2="498.9" stroke="#2a2a2a" stroke-width="1"/>
<line x1="305.5" y1="496.7" x2="305.5" y2="498.9" stroke="#2a2a2a" stroke-width="1"/>
<line x1="330.2" y1="496.7" x2="330.2" y2="498.9" stroke="#2a2a2a" stroke-width="1"/>
<line x1="355.2" y1="496.7" x2="355.2" y2="498.9" stroke="#2a2a2a" stroke-width="1"/>
<line x1="380.2" y1="496.7" x2="380.2" y2="498.9" stroke="#2a2a2a" stroke-width="1"/>
<line x1="404.8" y1="496.7" x2="404.8" y2="498.9" stroke="#2a2a2a" stroke-width="1"/>
<line x1="429.9" y1="496.7" x2="429.9" y2="498.9" stroke="#2a2a2a" stroke-width="1"/>
<line x1="454.7" y1="496.7" x2="454.7" y2="498.9" stroke="#2a2a2a" stroke-width="1"/>
<line x1="479.8" y1="496.7" x2="479.8" y2="498.9" stroke="#2a2a2a" stroke-width="1"/>
<line x1="504.7" y1="496.7" x2="504.7" y2="498.9" stroke="#2a2a2a" stroke-width="1"/>
<text x="208.9" y="461.5" font-size="9.7" fill="#111" text-anchor="middle" transform="rotate(-90 208.9 461.5)" textLength="37.1" lengthAdjust="spacingAndGlyphs" stroke="#111" stroke-width="0.16">C57BL/6</text>
<text x="218.2" y="461.5" font-size="8.2" fill="#111" text-anchor="middle" transform="rotate(-90 218.2 461.5)" textLength="37.1" lengthAdjust="spacingAndGlyphs" stroke="#111" stroke-width="0.16">CFU/Lung</text>
<text x="223.6" y="461" font-size="5.2" fill="#333" stroke="#333" stroke-width="0.12" text-anchor="middle" transform="rotate(-90 223.6 461)">(x10<tspan font-size="3.64" dy="-1.82">7</tspan><tspan dy="1.82">)</tspan></text>
<text x="237.6" y="506.3" font-size="5.9" fill="#3a3a3a" text-anchor="end" stroke="#3a3a3a" stroke-width="0.1">Treated</text>
<text x="256.8" y="506.3" font-size="5.9" fill="#3a3a3a" text-anchor="middle" stroke="#3a3a3a" stroke-width="0.1">Ct</text>
<text x="280.6" y="506.3" font-size="5.9" fill="#3a3a3a" text-anchor="middle" stroke="#3a3a3a" stroke-width="0.1">None</text>
<text x="305.5" y="506.3" font-size="5.9" fill="#3a3a3a" text-anchor="middle" stroke="#3a3a3a" stroke-width="0.1">&#945;CD4</text>
<text x="330.2" y="506.3" font-size="5.9" fill="#3a3a3a" text-anchor="middle" stroke="#3a3a3a" stroke-width="0.1">&#945;MHCII</text>
<text x="355.2" y="506.3" font-size="5.9" fill="#3a3a3a" text-anchor="middle" stroke="#3a3a3a" stroke-width="0.1">&#945;CD8</text>
<text x="380.2" y="506.3" font-size="5.9" fill="#3a3a3a" text-anchor="middle" stroke="#3a3a3a" stroke-width="0.1">&#945;MHCI</text>
<text x="404.8" y="506.3" font-size="5.9" fill="#3a3a3a" text-anchor="middle" stroke="#3a3a3a" stroke-width="0.1">None</text>
<text x="429.9" y="506.3" font-size="5.9" fill="#3a3a3a" text-anchor="middle" stroke="#3a3a3a" stroke-width="0.1">&#945;CD4</text>
<text x="454.7" y="506.3" font-size="5.9" fill="#3a3a3a" text-anchor="middle" stroke="#3a3a3a" stroke-width="0.1">&#945;MHCII</text>
<text x="479.8" y="506.3" font-size="5.9" fill="#3a3a3a" text-anchor="middle" stroke="#3a3a3a" stroke-width="0.1">&#945;CD8</text>
<text x="504.7" y="506.3" font-size="5.9" fill="#3a3a3a" text-anchor="middle" stroke="#3a3a3a" stroke-width="0.1">&#945;MHCI</text>
<line x1="276" y1="512.9" x2="383" y2="512.9" stroke="#999" stroke-width="0.8"/>
<line x1="400.9" y1="512.9" x2="508.8" y2="512.9" stroke="#999" stroke-width="0.8"/>
<text x="237.6" y="523" font-size="5.9" fill="#3a3a3a" text-anchor="end" stroke="#3a3a3a" stroke-width="0.1">Vaccination</text>
<text x="330.2" y="523" font-size="5.9" fill="#222" stroke="#222" stroke-width="0.18" text-anchor="middle"><tspan font-style="italic">Aspergillus</tspan> conidia</text>
<text x="454.6" y="523" font-size="5.9" fill="#3a3a3a" text-anchor="middle" stroke="#3a3a3a" stroke-width="0.1">Crf1p</text>
<polyline points="280.6,480 280.6,419.4 379.9,419.4 379.9,445.2" fill="none" stroke="#8a8a8a" stroke-width="0.8"/>
<line x1="355.3" y1="419.4" x2="355.3" y2="435.7" stroke="#8a8a8a" stroke-width="0.8"/>
<text x="318" y="420.19" font-size="8.6" fill="#000" text-anchor="middle" stroke="#000" stroke-width="0.3">**</text>
<text x="367.5" y="420.19" font-size="8.6" fill="#000" text-anchor="middle" stroke="#000" stroke-width="0.3">***</text>
<polyline points="404.6,481.2 404.6,419.6 456.4,419.6 456.4,429" fill="none" stroke="#8a8a8a" stroke-width="0.8"/>
<line x1="430" y1="419.6" x2="430" y2="427.4" stroke="#8a8a8a" stroke-width="0.8"/>
<text x="431.6" y="420.19" font-size="8.6" fill="#000" text-anchor="middle" stroke="#000" stroke-width="0.3">***</text>
<rect x="254.41" y="439.91" width="4.17" height="4.17" fill="#111"/>
<rect x="254.41" y="460.71" width="4.17" height="4.17" fill="#111"/>
<rect x="260.11" y="457.51" width="4.17" height="4.17" fill="#111"/>
<rect x="254.41" y="473.81" width="4.17" height="4.17" fill="#111"/>
<rect x="260.11" y="477.41" width="4.17" height="4.17" fill="#111"/>
<rect x="254.41" y="481.21" width="4.17" height="4.17" fill="#111"/>
<line x1="248" y1="467" x2="265.5" y2="467" stroke="#000" stroke-width="1.2"/>
<rect x="271.82" y="483.42" width="3.96" height="3.96" fill="#1e1e82" stroke="#000" stroke-width="0.6"/>
<rect x="278.62" y="486.12" width="3.96" height="3.96" fill="#1e1e82" stroke="#000" stroke-width="0.6"/>
<rect x="271.82" y="492.02" width="3.96" height="3.96" fill="#1e1e82" stroke="#000" stroke-width="0.6"/>
<rect x="277.62" y="493.22" width="3.96" height="3.96" fill="#1e1e82" stroke="#000" stroke-width="0.6"/>
<rect x="282.02" y="492.42" width="3.96" height="3.96" fill="#1e1e82" stroke="#000" stroke-width="0.6"/>
<rect x="286.22" y="492.22" width="3.96" height="3.96" fill="#1e1e82" stroke="#000" stroke-width="0.6"/>
<line x1="272.8" y1="491.7" x2="289.7" y2="491.7" stroke="#000" stroke-width="1.2"/>
<circle cx="305.6" cy="481.8" r="2.08" fill="#1e1e82" stroke="#000" stroke-width="0.6"/>
<circle cx="305.6" cy="487.5" r="2.08" fill="#1e1e82" stroke="#000" stroke-width="0.6"/>
<circle cx="299.5" cy="494.2" r="2.08" fill="#1e1e82" stroke="#000" stroke-width="0.6"/>
<circle cx="305.6" cy="494.4" r="2.08" fill="#1e1e82" stroke="#000" stroke-width="0.6"/>
<circle cx="311" cy="494.6" r="2.08" fill="#1e1e82" stroke="#000" stroke-width="0.6"/>
<circle cx="313" cy="492.8" r="2.08" fill="#1e1e82" stroke="#000" stroke-width="0.6"/>
<line x1="297" y1="491.7" x2="314" y2="491.7" stroke="#000" stroke-width="1.2"/>
<polygon points="324.2,486.92 326.48,491.02 321.92,491.02" fill="#1e1e82" stroke="#000" stroke-width="0.6"/>
<polygon points="329.9,488.42 332.18,492.52 327.62,492.52" fill="#1e1e82" stroke="#000" stroke-width="0.6"/>
<polygon points="336.9,483.12 339.18,487.22 334.62,487.22" fill="#1e1e82" stroke="#000" stroke-width="0.6"/>
<polygon points="324.2,489.92 326.48,494.02 321.92,494.02" fill="#1e1e82" stroke="#000" stroke-width="0.6"/>
<polygon points="330.8,492.12 333.08,496.22 328.52,496.22" fill="#1e1e82" stroke="#000" stroke-width="0.6"/>
<polygon points="336.9,491.52 339.18,495.62 334.62,495.62" fill="#1e1e82" stroke="#000" stroke-width="0.6"/>
<line x1="321" y1="491.2" x2="338.5" y2="491.2" stroke="#000" stroke-width="1.2"/>
<polygon points="349.5,435.83 352.07,438.4 349.5,440.97 346.93,438.4" fill="#1e1e82" stroke="#000" stroke-width="0.6"/>
<polygon points="355.4,439.03 357.97,441.6 355.4,444.17 352.83,441.6" fill="#1e1e82" stroke="#000" stroke-width="0.6"/>
<polygon points="355.4,445.83 357.97,448.4 355.4,450.97 352.83,448.4" fill="#1e1e82" stroke="#000" stroke-width="0.6"/>
<polygon points="349.5,450.63 352.07,453.2 349.5,455.77 346.93,453.2" fill="#1e1e82" stroke="#000" stroke-width="0.6"/>
<polygon points="355.4,452.13 357.97,454.7 355.4,457.27 352.83,454.7" fill="#1e1e82" stroke="#000" stroke-width="0.6"/>
<polygon points="355.4,459.53 357.97,462.1 355.4,464.67 352.83,462.1" fill="#1e1e82" stroke="#000" stroke-width="0.6"/>
<line x1="347" y1="449.8" x2="363.8" y2="449.8" stroke="#000" stroke-width="1.2"/>
<polygon points="374,450.68 376.28,446.58 371.72,446.58" fill="#1e1e82" stroke="#000" stroke-width="0.6"/>
<polygon points="380.3,451.68 382.58,447.58 378.02,447.58" fill="#1e1e82" stroke="#000" stroke-width="0.6"/>
<polygon points="380.3,470.28 382.58,466.18 378.02,466.18" fill="#1e1e82" stroke="#000" stroke-width="0.6"/>
<polygon points="380.3,478.18 382.58,474.08 378.02,474.08" fill="#1e1e82" stroke="#000" stroke-width="0.6"/>
<polygon points="380.3,485.08 382.58,480.98 378.02,480.98" fill="#1e1e82" stroke="#000" stroke-width="0.6"/>
<polygon points="386,485.08 388.28,480.98 383.72,480.98" fill="#1e1e82" stroke="#000" stroke-width="0.6"/>
<line x1="372.3" y1="468" x2="388.8" y2="468" stroke="#000" stroke-width="1.2"/>
<rect x="396.82" y="483.82" width="3.96" height="3.96" fill="#961c1c" stroke="#000" stroke-width="0.6"/>
<rect x="403.52" y="480.82" width="3.96" height="3.96" fill="#961c1c" stroke="#000" stroke-width="0.6"/>
<rect x="403.52" y="486.62" width="3.96" height="3.96" fill="#961c1c" stroke="#000" stroke-width="0.6"/>
<rect x="396.82" y="489.72" width="3.96" height="3.96" fill="#961c1c" stroke="#000" stroke-width="0.6"/>
<rect x="403.52" y="492.92" width="3.96" height="3.96" fill="#961c1c" stroke="#000" stroke-width="0.6"/>
<rect x="409.42" y="491.92" width="3.96" height="3.96" fill="#961c1c" stroke="#000" stroke-width="0.6"/>
<line x1="396.6" y1="489.6" x2="414.2" y2="489.6" stroke="#000" stroke-width="1.2"/>
<circle cx="429.9" cy="434.6" r="2.08" fill="#961c1c" stroke="#000" stroke-width="0.6"/>
<circle cx="429.9" cy="443.7" r="2.08" fill="#961c1c" stroke="#000" stroke-width="0.6"/>
<circle cx="424.1" cy="454.1" r="2.08" fill="#961c1c" stroke="#000" stroke-width="0.6"/>
<circle cx="429.9" cy="451.1" r="2.08" fill="#961c1c" stroke="#000" stroke-width="0.6"/>
<circle cx="429.9" cy="457.5" r="2.08" fill="#961c1c" stroke="#000" stroke-width="0.6"/>
<circle cx="429.9" cy="462.5" r="2.08" fill="#961c1c" stroke="#000" stroke-width="0.6"/>
<line x1="421" y1="450.5" x2="439" y2="450.5" stroke="#000" stroke-width="1.2"/>
<polygon points="454.6,433.12 456.88,437.22 452.32,437.22" fill="#961c1c" stroke="#000" stroke-width="0.6"/>
<polygon points="448.8,446.02 451.08,450.12 446.52,450.12" fill="#961c1c" stroke="#000" stroke-width="0.6"/>
<polygon points="454.6,448.92 456.88,453.02 452.32,453.02" fill="#961c1c" stroke="#000" stroke-width="0.6"/>
<polygon points="448.8,453.12 451.08,457.22 446.52,457.22" fill="#961c1c" stroke="#000" stroke-width="0.6"/>
<polygon points="454.6,454.72 456.88,458.82 452.32,458.82" fill="#961c1c" stroke="#000" stroke-width="0.6"/>
<polygon points="460.8,454.22 463.08,458.32 458.52,458.32" fill="#961c1c" stroke="#000" stroke-width="0.6"/>
<line x1="446" y1="450.6" x2="463.8" y2="450.6" stroke="#000" stroke-width="1.2"/>
<polygon points="480,479.43 482.57,482 480,484.57 477.43,482" fill="#961c1c" stroke="#000" stroke-width="0.6"/>
<polygon points="480,485.43 482.57,488 480,490.57 477.43,488" fill="#961c1c" stroke="#000" stroke-width="0.6"/>
<polygon points="474.8,491.23 477.37,493.8 474.8,496.37 472.23,493.8" fill="#961c1c" stroke="#000" stroke-width="0.6"/>
<polygon points="480,491.43 482.57,494 480,496.57 477.43,494" fill="#961c1c" stroke="#000" stroke-width="0.6"/>
<polygon points="484.6,490.93 487.17,493.5 484.6,496.07 482.03,493.5" fill="#961c1c" stroke="#000" stroke-width="0.6"/>
<polygon points="487,492.23 489.57,494.8 487,497.37 484.43,494.8" fill="#961c1c" stroke="#000" stroke-width="0.6"/>
<line x1="472" y1="490.6" x2="488.3" y2="490.6" stroke="#000" stroke-width="1.2"/>
<polygon points="498.5,486.08 500.78,481.98 496.22,481.98" fill="#961c1c" stroke="#000" stroke-width="0.6"/>
<polygon points="504.6,486.08 506.88,481.98 502.32,481.98" fill="#961c1c" stroke="#000" stroke-width="0.6"/>
<polygon points="498.5,494.78 500.78,490.68 496.22,490.68" fill="#961c1c" stroke="#000" stroke-width="0.6"/>
<polygon points="504.6,497.88 506.88,493.78 502.32,493.78" fill="#961c1c" stroke="#000" stroke-width="0.6"/>
<polygon points="509.6,494.78 511.88,490.68 507.32,490.68" fill="#961c1c" stroke="#000" stroke-width="0.6"/>
<polygon points="511.5,496.28 513.78,492.18 509.22,492.18" fill="#961c1c" stroke="#000" stroke-width="0.6"/>
<line x1="496" y1="490.6" x2="512.7" y2="490.6" stroke="#000" stroke-width="1.2"/>
<text x="10.6" y="557.1" font-size="17" fill="#000" stroke="#000" stroke-width="0.16">H</text>
<line x1="54.1" y1="637" x2="54.1" y2="567.5" stroke="#2a2a2a" stroke-width="1.1"/>
<line x1="50" y1="636.5" x2="54.1" y2="636.5" stroke="#2a2a2a" stroke-width="1"/>
<text x="48" y="638.55" font-size="5.7" fill="#333" text-anchor="end" stroke="#3a3a3a" stroke-width="0.1">0</text>
<line x1="50" y1="622.8" x2="54.1" y2="622.8" stroke="#2a2a2a" stroke-width="1"/>
<text x="48" y="624.85" font-size="5.7" fill="#333" text-anchor="end" stroke="#3a3a3a" stroke-width="0.1">20</text>
<line x1="50" y1="609.1" x2="54.1" y2="609.1" stroke="#2a2a2a" stroke-width="1"/>
<text x="48" y="611.15" font-size="5.7" fill="#333" text-anchor="end" stroke="#3a3a3a" stroke-width="0.1">40</text>
<line x1="50" y1="595.4" x2="54.1" y2="595.4" stroke="#2a2a2a" stroke-width="1"/>
<text x="48" y="597.45" font-size="5.7" fill="#333" text-anchor="end" stroke="#3a3a3a" stroke-width="0.1">60</text>
<line x1="50" y1="581.7" x2="54.1" y2="581.7" stroke="#2a2a2a" stroke-width="1"/>
<text x="48" y="583.75" font-size="5.7" fill="#333" text-anchor="end" stroke="#3a3a3a" stroke-width="0.1">80</text>
<line x1="50" y1="568" x2="54.1" y2="568" stroke="#2a2a2a" stroke-width="1"/>
<text x="48" y="570.05" font-size="5.7" fill="#333" text-anchor="end" stroke="#3a3a3a" stroke-width="0.1">100</text>
<line x1="50" y1="636.5" x2="160.2" y2="636.5" stroke="#2a2a2a" stroke-width="1.1"/>
<line x1="54.1" y1="636.5" x2="54.1" y2="638.7" stroke="#2a2a2a" stroke-width="1"/>
<text x="54.1" y="645.8" font-size="5.6" fill="#3a3a3a" text-anchor="middle" stroke="#3a3a3a" stroke-width="0.1">0</text>
<line x1="75.26" y1="636.5" x2="75.26" y2="638.7" stroke="#2a2a2a" stroke-width="1"/>
<text x="75.26" y="645.8" font-size="5.6" fill="#3a3a3a" text-anchor="middle" stroke="#3a3a3a" stroke-width="0.1">4</text>
<line x1="96.42" y1="636.5" x2="96.42" y2="638.7" stroke="#2a2a2a" stroke-width="1"/>
<text x="96.42" y="645.8" font-size="5.6" fill="#3a3a3a" text-anchor="middle" stroke="#3a3a3a" stroke-width="0.1">8</text>
<line x1="117.58" y1="636.5" x2="117.58" y2="638.7" stroke="#2a2a2a" stroke-width="1"/>
<text x="117.58" y="645.8" font-size="5.6" fill="#3a3a3a" text-anchor="middle" stroke="#3a3a3a" stroke-width="0.1">12</text>
<line x1="138.74" y1="636.5" x2="138.74" y2="638.7" stroke="#2a2a2a" stroke-width="1"/>
<text x="138.74" y="645.8" font-size="5.6" fill="#3a3a3a" text-anchor="middle" stroke="#3a3a3a" stroke-width="0.1">16</text>
<line x1="159.9" y1="636.5" x2="159.9" y2="638.7" stroke="#2a2a2a" stroke-width="1"/>
<text x="159.9" y="645.8" font-size="5.6" fill="#3a3a3a" text-anchor="middle" stroke="#3a3a3a" stroke-width="0.1">>20</text>
<text x="49" y="645.8" font-size="5.6" fill="#3a3a3a" text-anchor="end" stroke="#3a3a3a" stroke-width="0.1">dpi</text>
<line x1="54.1" y1="568" x2="157.25" y2="568" stroke="#7a4a4a" stroke-width="0.9"/>
<polyline points="59.39,568 59.39,590.81 75.26,590.81 75.26,636.5" fill="none" stroke="#1e1e1e" stroke-width="1.1"/>
<polyline points="64.68,568 64.68,590.81 69.97,590.81 69.97,602.25 85.84,602.25 85.84,636.5" fill="none" stroke="#1e1e1e" stroke-width="1.1"/>
<rect x="57.3" y="565.91" width="4.17" height="4.17" fill="#961c1c" stroke="#000" stroke-width="0.6"/>
<polygon points="64.68,565.29 67.39,568 64.68,570.71 61.97,568" fill="#961c1c" stroke="#000" stroke-width="0.6"/>
<polygon points="69.97,570.4 72.37,566.08 67.57,566.08" fill="#961c1c" stroke="#000" stroke-width="0.6"/>
<rect x="78.46" y="565.91" width="4.17" height="4.17" fill="#961c1c" stroke="#000" stroke-width="0.6"/>
<polygon points="85.84,565.29 88.55,568 85.84,570.71 83.13,568" fill="#961c1c" stroke="#000" stroke-width="0.6"/>
<polygon points="91.13,570.4 93.53,566.08 88.73,566.08" fill="#961c1c" stroke="#000" stroke-width="0.6"/>
<rect x="99.62" y="565.91" width="4.17" height="4.17" fill="#961c1c" stroke="#000" stroke-width="0.6"/>
<polygon points="107,565.29 109.71,568 107,570.71 104.29,568" fill="#961c1c" stroke="#000" stroke-width="0.6"/>
<polygon points="112.29,570.4 114.69,566.08 109.89,566.08" fill="#961c1c" stroke="#000" stroke-width="0.6"/>
<rect x="120.78" y="565.91" width="4.17" height="4.17" fill="#961c1c" stroke="#000" stroke-width="0.6"/>
<polygon points="128.16,565.29 130.87,568 128.16,570.71 125.45,568" fill="#961c1c" stroke="#000" stroke-width="0.6"/>
<polygon points="133.45,570.4 135.85,566.08 131.05,566.08" fill="#961c1c" stroke="#000" stroke-width="0.6"/>
<rect x="141.94" y="565.91" width="4.17" height="4.17" fill="#961c1c" stroke="#000" stroke-width="0.6"/>
<polygon points="149.32,565.29 152.03,568 149.32,570.71 146.61,568" fill="#961c1c" stroke="#000" stroke-width="0.6"/>
<polygon points="154.61,570.4 157.01,566.08 152.21,566.08" fill="#961c1c" stroke="#000" stroke-width="0.6"/>
<circle cx="59.39" cy="590.81" r="2.19" fill="#961c1c" stroke="#000" stroke-width="0.6"/>
<polygon points="64.68,588.41 67.08,592.73 62.28,592.73" fill="#961c1c" stroke="#000" stroke-width="0.6"/>
<polygon points="69.97,599.85 72.37,604.17 67.57,604.17" fill="#961c1c" stroke="#000" stroke-width="0.6"/>
<circle cx="75.26" cy="636.5" r="2.19" fill="#961c1c" stroke="#000" stroke-width="0.6"/>
<polygon points="85.84,634.1 88.24,638.42 83.44,638.42" fill="#961c1c" stroke="#000" stroke-width="0.6"/>
<text x="20.2" y="600" font-size="9.4" fill="#111" stroke="#111" stroke-width="0.18" font-style="italic" text-anchor="middle" transform="rotate(-90 20.2 600)">Tlr3<tspan font-size="5.17" dy="-3.57">&#8211;/&#8211;</tspan></text>
<text x="29.6" y="600" font-size="9.6" fill="#111" text-anchor="middle" transform="rotate(-90 29.6 600)" textLength="33.4" lengthAdjust="spacingAndGlyphs" stroke="#111" stroke-width="0.16">Survival</text>
<text x="35.6" y="600" font-size="5.2" fill="#444" text-anchor="middle" transform="rotate(-90 35.6 600)" stroke="#444" stroke-width="0.16">(%)</text>
<rect x="30.9" y="656.6" width="6.2" height="5.8" fill="#d01818"/>
<text x="40" y="661.6" font-size="5.6" fill="#222" stroke="#222" stroke-width="0.16">None</text>
<circle cx="61.1" cy="659.5" r="3.4" fill="#d01818"/>
<text x="66" y="661.6" font-size="5.6" fill="#222" stroke="#222" stroke-width="0.16">&#945;CD4</text>
<polygon points="88,656.2 91.6,662.6 84.4,662.6" fill="#d01818"/>
<text x="94.5" y="661.6" font-size="5.6" fill="#222" stroke="#222" stroke-width="0.16">&#945;MHCII</text>
<polygon points="120.5,655.8 124,659.4 120.5,663 117,659.4" fill="#d01818"/>
<text x="126" y="661.6" font-size="5.6" fill="#222" stroke="#222" stroke-width="0.16">&#945;CD8</text>
<polygon points="142.4,656.4 149.4,656.4 145.9,662.8" fill="#d01818"/>
<text x="152.3" y="661.6" font-size="5.6" fill="#222" stroke="#222" stroke-width="0.16">&#945;MHCI</text>
<text x="196.7" y="556.9" font-size="16.6" fill="#000" font-weight="bold" stroke="#000" stroke-width="0.16">I</text>
<line x1="242.6" y1="636.8" x2="242.6" y2="567.3" stroke="#2a2a2a" stroke-width="1.1"/>
<line x1="238.1" y1="636.3" x2="242.6" y2="636.3" stroke="#2a2a2a" stroke-width="1"/>
<text x="234.7" y="638.35" font-size="5.7" fill="#333" text-anchor="end" stroke="#3a3a3a" stroke-width="0.1">0</text>
<line x1="238.1" y1="622.6" x2="242.6" y2="622.6" stroke="#2a2a2a" stroke-width="1"/>
<text x="234.7" y="624.65" font-size="5.7" fill="#333" text-anchor="end" stroke="#3a3a3a" stroke-width="0.1">3</text>
<line x1="238.1" y1="608.9" x2="242.6" y2="608.9" stroke="#2a2a2a" stroke-width="1"/>
<text x="234.7" y="610.95" font-size="5.7" fill="#333" text-anchor="end" stroke="#3a3a3a" stroke-width="0.1">6</text>
<line x1="238.1" y1="595.2" x2="242.6" y2="595.2" stroke="#2a2a2a" stroke-width="1"/>
<text x="234.7" y="597.25" font-size="5.7" fill="#333" text-anchor="end" stroke="#3a3a3a" stroke-width="0.1">9</text>
<line x1="238.1" y1="581.5" x2="242.6" y2="581.5" stroke="#2a2a2a" stroke-width="1"/>
<text x="234.7" y="583.55" font-size="5.7" fill="#333" text-anchor="end" stroke="#3a3a3a" stroke-width="0.1">12</text>
<line x1="238.1" y1="567.8" x2="242.6" y2="567.8" stroke="#2a2a2a" stroke-width="1"/>
<text x="234.7" y="569.85" font-size="5.7" fill="#333" text-anchor="end" stroke="#3a3a3a" stroke-width="0.1">15</text>
<line x1="238.1" y1="636.3" x2="391.3" y2="636.3" stroke="#2a2a2a" stroke-width="1.1"/>
<line x1="255.5" y1="636.3" x2="255.5" y2="638.5" stroke="#2a2a2a" stroke-width="1"/>
<line x1="279.5" y1="636.3" x2="279.5" y2="638.5" stroke="#2a2a2a" stroke-width="1"/>
<line x1="304.9" y1="636.3" x2="304.9" y2="638.5" stroke="#2a2a2a" stroke-width="1"/>
<line x1="329.2" y1="636.3" x2="329.2" y2="638.5" stroke="#2a2a2a" stroke-width="1"/>
<line x1="354.2" y1="636.3" x2="354.2" y2="638.5" stroke="#2a2a2a" stroke-width="1"/>
<line x1="379" y1="636.3" x2="379" y2="638.5" stroke="#2a2a2a" stroke-width="1"/>
<text x="208.5" y="600" font-size="9.4" fill="#111" stroke="#111" stroke-width="0.18" font-style="italic" text-anchor="middle" transform="rotate(-90 208.5 600)">Tlr3<tspan font-size="5.17" dy="-3.57">&#8211;/&#8211;</tspan></text>
<text x="217.3" y="600.2" font-size="8.2" fill="#111" text-anchor="middle" transform="rotate(-90 217.3 600.2)" textLength="36.4" lengthAdjust="spacingAndGlyphs" stroke="#111" stroke-width="0.16">CFU/Lung</text>
<text x="222.7" y="600" font-size="5.2" fill="#333" stroke="#333" stroke-width="0.12" text-anchor="middle" transform="rotate(-90 222.7 600)">(x10<tspan font-size="3.64" dy="-1.82">7</tspan><tspan dy="1.82">)</tspan></text>
<text x="237.7" y="646.5" font-size="5.9" fill="#3a3a3a" text-anchor="end" stroke="#3a3a3a" stroke-width="0.1">Treated</text>
<text x="255.5" y="646.5" font-size="5.9" fill="#3a3a3a" text-anchor="middle" stroke="#3a3a3a" stroke-width="0.1">Ct</text>
<text x="279.5" y="646.5" font-size="5.9" fill="#3a3a3a" text-anchor="middle" stroke="#3a3a3a" stroke-width="0.1">None</text>
<text x="304.9" y="646.5" font-size="5.9" fill="#3a3a3a" text-anchor="middle" stroke="#3a3a3a" stroke-width="0.1">&#945;CD4</text>
<text x="329.2" y="646.5" font-size="5.9" fill="#3a3a3a" text-anchor="middle" stroke="#3a3a3a" stroke-width="0.1">&#945;MHCII</text>
<text x="354.2" y="646.5" font-size="5.9" fill="#3a3a3a" text-anchor="middle" stroke="#3a3a3a" stroke-width="0.1">&#945;CD8</text>
<text x="379" y="646.5" font-size="5.9" fill="#3a3a3a" text-anchor="middle" stroke="#3a3a3a" stroke-width="0.1">&#945;MHCI</text>
<line x1="275.3" y1="652.9" x2="382.7" y2="652.9" stroke="#999" stroke-width="0.8"/>
<text x="237.7" y="663.2" font-size="5.9" fill="#3a3a3a" text-anchor="end" stroke="#3a3a3a" stroke-width="0.1">Vaccination</text>
<text x="329.7" y="663.2" font-size="5.9" fill="#3a3a3a" text-anchor="middle" stroke="#3a3a3a" stroke-width="0.1">Crf1p</text>
<polyline points="278.2,620 278.2,561.5 330.3,561.5 330.3,574.6" fill="none" stroke="#8a8a8a" stroke-width="0.8"/>
<line x1="304.9" y1="561.5" x2="304.9" y2="565" stroke="#8a8a8a" stroke-width="0.8"/>
<text x="305.2" y="562.29" font-size="8.6" fill="#000" text-anchor="middle" stroke="#000" stroke-width="0.3">***</text>
<rect x="252.91" y="593.31" width="4.17" height="4.17" fill="#111"/>
<rect x="246.61" y="604.51" width="4.17" height="4.17" fill="#111"/>
<rect x="252.91" y="606.71" width="4.17" height="4.17" fill="#111"/>
<rect x="259.31" y="603.51" width="4.17" height="4.17" fill="#111"/>
<rect x="259.31" y="610.91" width="4.17" height="4.17" fill="#111"/>
<rect x="252.91" y="616.21" width="4.17" height="4.17" fill="#111"/>
<rect x="277.52" y="625.52" width="3.96" height="3.96" fill="#961c1c" stroke="#000" stroke-width="0.6"/>
<rect x="274.32" y="628.72" width="3.96" height="3.96" fill="#961c1c" stroke="#000" stroke-width="0.6"/>
<rect x="277.52" y="631.92" width="3.96" height="3.96" fill="#961c1c" stroke="#000" stroke-width="0.6"/>
<rect x="271.22" y="631.92" width="3.96" height="3.96" fill="#961c1c" stroke="#000" stroke-width="0.6"/>
<rect x="283.92" y="631.92" width="3.96" height="3.96" fill="#961c1c" stroke="#000" stroke-width="0.6"/>
<rect x="280.42" y="629.62" width="3.96" height="3.96" fill="#961c1c" stroke="#000" stroke-width="0.6"/>
<line x1="272" y1="631.5" x2="289" y2="631.5" stroke="#000" stroke-width="1.2"/>
<circle cx="304.9" cy="572" r="2.08" fill="#961c1c" stroke="#000" stroke-width="0.6"/>
<circle cx="304.9" cy="579.3" r="2.08" fill="#961c1c" stroke="#000" stroke-width="0.6"/>
<circle cx="311.3" cy="576.3" r="2.08" fill="#961c1c" stroke="#000" stroke-width="0.6"/>
<circle cx="298.6" cy="591.1" r="2.08" fill="#961c1c" stroke="#000" stroke-width="0.6"/>
<circle cx="304.9" cy="595.8" r="2.08" fill="#961c1c" stroke="#000" stroke-width="0.6"/>
<circle cx="304.9" cy="601.7" r="2.08" fill="#961c1c" stroke="#000" stroke-width="0.6"/>
<line x1="295.8" y1="586.3" x2="313.4" y2="586.3" stroke="#000" stroke-width="1.2"/>
<polygon points="329.2,578.72 331.48,582.82 326.92,582.82" fill="#961c1c" stroke="#000" stroke-width="0.6"/>
<polygon points="335.6,584.02 337.88,588.12 333.32,588.12" fill="#961c1c" stroke="#000" stroke-width="0.6"/>
<polygon points="322.9,590.92 325.18,595.02 320.62,595.02" fill="#961c1c" stroke="#000" stroke-width="0.6"/>
<polygon points="329.2,588.22 331.48,592.32 326.92,592.32" fill="#961c1c" stroke="#000" stroke-width="0.6"/>
<polygon points="329.2,593.52 331.48,597.62 326.92,597.62" fill="#961c1c" stroke="#000" stroke-width="0.6"/>
<polygon points="329.2,602.42 331.48,606.52 326.92,606.52" fill="#961c1c" stroke="#000" stroke-width="0.6"/>
<line x1="320.8" y1="592" x2="338.1" y2="592" stroke="#000" stroke-width="1.2"/>
<polygon points="348.1,623.73 350.67,626.3 348.1,628.87 345.53,626.3" fill="#961c1c" stroke="#000" stroke-width="0.6"/>
<polygon points="354.4,625.73 356.97,628.3 354.4,630.87 351.83,628.3" fill="#961c1c" stroke="#000" stroke-width="0.6"/>
<polygon points="348.1,632.03 350.67,634.6 348.1,637.17 345.53,634.6" fill="#961c1c" stroke="#000" stroke-width="0.6"/>
<polygon points="354.4,633.23 356.97,635.8 354.4,638.37 351.83,635.8" fill="#961c1c" stroke="#000" stroke-width="0.6"/>
<polygon points="357.9,631.43 360.47,634 357.9,636.57 355.33,634" fill="#961c1c" stroke="#000" stroke-width="0.6"/>
<polygon points="360.8,632.63 363.37,635.2 360.8,637.77 358.23,635.2" fill="#961c1c" stroke="#000" stroke-width="0.6"/>
<line x1="345" y1="633.5" x2="363" y2="633.5" stroke="#000" stroke-width="1.2"/>
<polygon points="379.2,629.98 381.48,625.88 376.92,625.88" fill="#961c1c" stroke="#000" stroke-width="0.6"/>
<polygon points="375.8,632.48 378.08,628.38 373.52,628.38" fill="#961c1c" stroke="#000" stroke-width="0.6"/>
<polygon points="372.9,636.28 375.18,632.18 370.62,632.18" fill="#961c1c" stroke="#000" stroke-width="0.6"/>
<polygon points="379.2,636.28 381.48,632.18 376.92,632.18" fill="#961c1c" stroke="#000" stroke-width="0.6"/>
<polygon points="382.9,636.28 385.18,632.18 380.62,632.18" fill="#961c1c" stroke="#000" stroke-width="0.6"/>
<polygon points="386.2,636.68 388.48,632.58 383.92,632.58" fill="#961c1c" stroke="#000" stroke-width="0.6"/>
<line x1="370" y1="633.5" x2="389" y2="633.5" stroke="#000" stroke-width="1.2"/>
</svg>
</body></html>
